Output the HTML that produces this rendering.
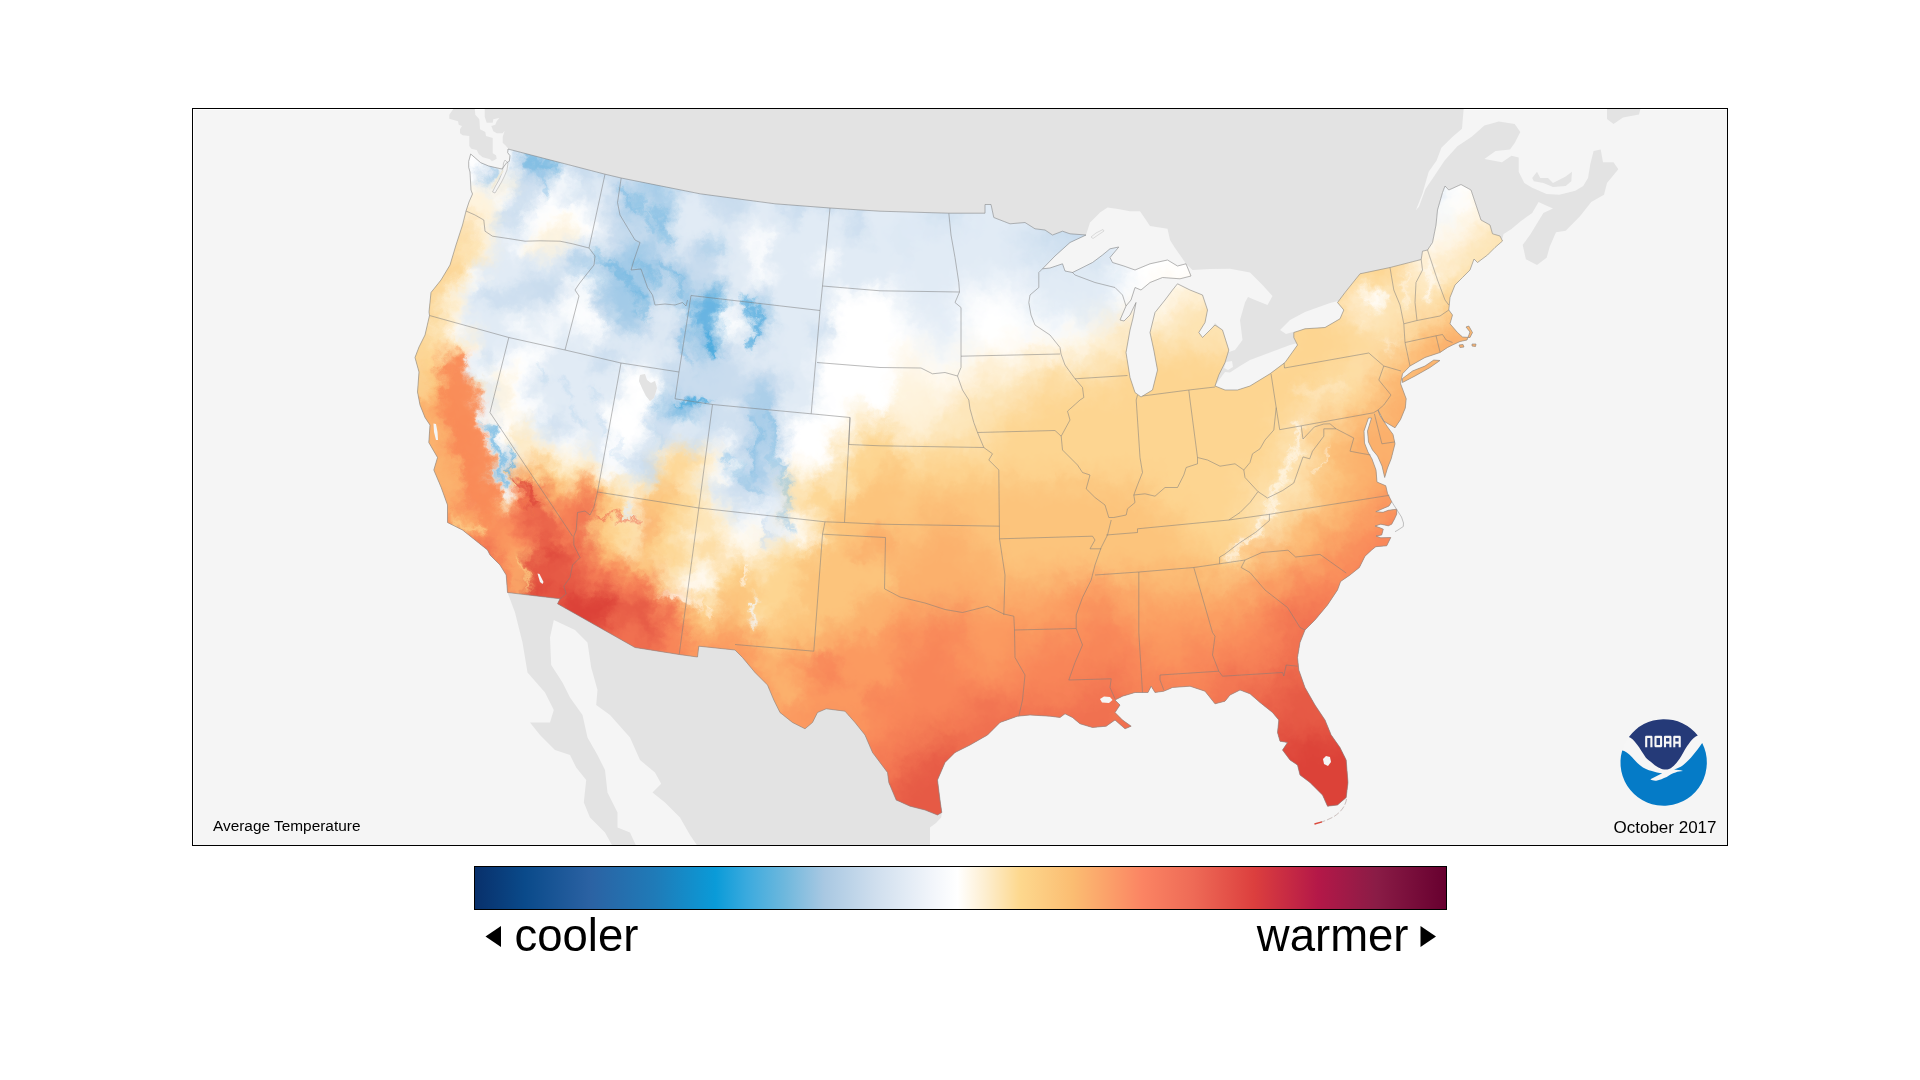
<!DOCTYPE html>
<html><head><meta charset="utf-8"><title>Average Temperature - October 2017</title>
<style>
html,body{margin:0;padding:0;background:#fff;}
body{width:1920px;height:1080px;overflow:hidden;font-family:"Liberation Sans",sans-serif;}
svg{display:block;}
text{font-family:"Liberation Sans",sans-serif;fill:#000;}
</style></head><body>
<svg width="1920" height="1080" viewBox="0 0 1920 1080">
<defs>
<g id="cells"><rect x="416" y="128" width="16.5" height="16.5" fill="#ffffff"/><rect x="432" y="128" width="16.5" height="16.5" fill="#ffffff"/><rect x="448" y="128" width="16.5" height="16.5" fill="#ffffff"/><rect x="464" y="128" width="16.5" height="16.5" fill="#ffffff"/><rect x="480" y="128" width="16.5" height="16.5" fill="#ffffff"/><rect x="496" y="128" width="16.5" height="16.5" fill="#ffffff"/><rect x="512" y="128" width="16.5" height="16.5" fill="#c9dcee"/><rect x="528" y="128" width="16.5" height="16.5" fill="#a3cbe8"/><rect x="544" y="128" width="16.5" height="16.5" fill="#a3cbe8"/><rect x="560" y="128" width="16.5" height="16.5" fill="#e1ebf5"/><rect x="576" y="128" width="16.5" height="16.5" fill="#c9dcee"/><rect x="592" y="128" width="16.5" height="16.5" fill="#c9dcee"/><rect x="608" y="128" width="16.5" height="16.5" fill="#c9dcee"/><rect x="624" y="128" width="16.5" height="16.5" fill="#c9dcee"/><rect x="640" y="128" width="16.5" height="16.5" fill="#a3cbe8"/><rect x="656" y="128" width="16.5" height="16.5" fill="#a3cbe8"/><rect x="672" y="128" width="16.5" height="16.5" fill="#c9dcee"/><rect x="688" y="128" width="16.5" height="16.5" fill="#c9dcee"/><rect x="704" y="128" width="16.5" height="16.5" fill="#c9dcee"/><rect x="1408" y="128" width="16.5" height="16.5" fill="#f9fbfd"/><rect x="1424" y="128" width="16.5" height="16.5" fill="#f9fbfd"/><rect x="1440" y="128" width="16.5" height="16.5" fill="#f9fbfd"/><rect x="1456" y="128" width="16.5" height="16.5" fill="#ffffff"/><rect x="1472" y="128" width="16.5" height="16.5" fill="#ffffff"/><rect x="1488" y="128" width="16.5" height="16.5" fill="#ffffff"/><rect x="416" y="144" width="16.5" height="16.5" fill="#ffffff"/><rect x="432" y="144" width="16.5" height="16.5" fill="#ffffff"/><rect x="448" y="144" width="16.5" height="16.5" fill="#ffffff"/><rect x="464" y="144" width="16.5" height="16.5" fill="#ffffff"/><rect x="480" y="144" width="16.5" height="16.5" fill="#ffffff"/><rect x="496" y="144" width="16.5" height="16.5" fill="#ffffff"/><rect x="512" y="144" width="16.5" height="16.5" fill="#c9dcee"/><rect x="528" y="144" width="16.5" height="16.5" fill="#a3cbe8"/><rect x="544" y="144" width="16.5" height="16.5" fill="#a3cbe8"/><rect x="560" y="144" width="16.5" height="16.5" fill="#e1ebf5"/><rect x="576" y="144" width="16.5" height="16.5" fill="#c9dcee"/><rect x="592" y="144" width="16.5" height="16.5" fill="#c9dcee"/><rect x="608" y="144" width="16.5" height="16.5" fill="#c9dcee"/><rect x="624" y="144" width="16.5" height="16.5" fill="#c9dcee"/><rect x="640" y="144" width="16.5" height="16.5" fill="#a3cbe8"/><rect x="656" y="144" width="16.5" height="16.5" fill="#a3cbe8"/><rect x="672" y="144" width="16.5" height="16.5" fill="#c9dcee"/><rect x="688" y="144" width="16.5" height="16.5" fill="#c9dcee"/><rect x="704" y="144" width="16.5" height="16.5" fill="#c9dcee"/><rect x="720" y="144" width="16.5" height="16.5" fill="#c9dcee"/><rect x="736" y="144" width="16.5" height="16.5" fill="#c9dcee"/><rect x="752" y="144" width="16.5" height="16.5" fill="#e1ebf5"/><rect x="768" y="144" width="16.5" height="16.5" fill="#e1ebf5"/><rect x="784" y="144" width="16.5" height="16.5" fill="#c9dcee"/><rect x="800" y="144" width="16.5" height="16.5" fill="#c9dcee"/><rect x="816" y="144" width="16.5" height="16.5" fill="#c9dcee"/><rect x="832" y="144" width="16.5" height="16.5" fill="#c9dcee"/><rect x="880" y="144" width="16.5" height="16.5" fill="#e1ebf5"/><rect x="896" y="144" width="16.5" height="16.5" fill="#e1ebf5"/><rect x="912" y="144" width="16.5" height="16.5" fill="#dbe7f3"/><rect x="928" y="144" width="16.5" height="16.5" fill="#cfe0f0"/><rect x="944" y="144" width="16.5" height="16.5" fill="#cfe0f0"/><rect x="960" y="144" width="16.5" height="16.5" fill="#dbe7f3"/><rect x="976" y="144" width="16.5" height="16.5" fill="#e1ebf5"/><rect x="992" y="144" width="16.5" height="16.5" fill="#e1ebf5"/><rect x="1008" y="144" width="16.5" height="16.5" fill="#e1ebf5"/><rect x="1024" y="144" width="16.5" height="16.5" fill="#e1ebf5"/><rect x="1392" y="144" width="16.5" height="16.5" fill="#e1ebf5"/><rect x="1408" y="144" width="16.5" height="16.5" fill="#f9fbfd"/><rect x="1424" y="144" width="16.5" height="16.5" fill="#f9fbfd"/><rect x="1440" y="144" width="16.5" height="16.5" fill="#f9fbfd"/><rect x="1456" y="144" width="16.5" height="16.5" fill="#ffffff"/><rect x="1472" y="144" width="16.5" height="16.5" fill="#ffffff"/><rect x="1488" y="144" width="16.5" height="16.5" fill="#ffffff"/><rect x="1504" y="144" width="16.5" height="16.5" fill="#ffffff"/><rect x="416" y="160" width="16.5" height="16.5" fill="#ffffff"/><rect x="432" y="160" width="16.5" height="16.5" fill="#ffffff"/><rect x="448" y="160" width="16.5" height="16.5" fill="#ffffff"/><rect x="464" y="160" width="16.5" height="16.5" fill="#ffffff"/><rect x="480" y="160" width="16.5" height="16.5" fill="#c9dcee"/><rect x="496" y="160" width="16.5" height="16.5" fill="#ffffff"/><rect x="512" y="160" width="16.5" height="16.5" fill="#c9dcee"/><rect x="528" y="160" width="16.5" height="16.5" fill="#a3cbe8"/><rect x="544" y="160" width="16.5" height="16.5" fill="#a3cbe8"/><rect x="560" y="160" width="16.5" height="16.5" fill="#e1ebf5"/><rect x="576" y="160" width="16.5" height="16.5" fill="#c9dcee"/><rect x="592" y="160" width="16.5" height="16.5" fill="#c9dcee"/><rect x="608" y="160" width="16.5" height="16.5" fill="#c9dcee"/><rect x="624" y="160" width="16.5" height="16.5" fill="#c9dcee"/><rect x="640" y="160" width="16.5" height="16.5" fill="#a3cbe8"/><rect x="656" y="160" width="16.5" height="16.5" fill="#a3cbe8"/><rect x="672" y="160" width="16.5" height="16.5" fill="#c9dcee"/><rect x="688" y="160" width="16.5" height="16.5" fill="#c9dcee"/><rect x="704" y="160" width="16.5" height="16.5" fill="#c9dcee"/><rect x="720" y="160" width="16.5" height="16.5" fill="#c9dcee"/><rect x="736" y="160" width="16.5" height="16.5" fill="#c9dcee"/><rect x="752" y="160" width="16.5" height="16.5" fill="#e1ebf5"/><rect x="768" y="160" width="16.5" height="16.5" fill="#e1ebf5"/><rect x="784" y="160" width="16.5" height="16.5" fill="#c9dcee"/><rect x="800" y="160" width="16.5" height="16.5" fill="#c9dcee"/><rect x="816" y="160" width="16.5" height="16.5" fill="#c9dcee"/><rect x="832" y="160" width="16.5" height="16.5" fill="#c9dcee"/><rect x="848" y="160" width="16.5" height="16.5" fill="#c9dcee"/><rect x="864" y="160" width="16.5" height="16.5" fill="#e1ebf5"/><rect x="880" y="160" width="16.5" height="16.5" fill="#e1ebf5"/><rect x="896" y="160" width="16.5" height="16.5" fill="#e1ebf5"/><rect x="912" y="160" width="16.5" height="16.5" fill="#dbe7f3"/><rect x="928" y="160" width="16.5" height="16.5" fill="#cfe0f0"/><rect x="944" y="160" width="16.5" height="16.5" fill="#cfe0f0"/><rect x="960" y="160" width="16.5" height="16.5" fill="#dbe7f3"/><rect x="976" y="160" width="16.5" height="16.5" fill="#e1ebf5"/><rect x="992" y="160" width="16.5" height="16.5" fill="#e1ebf5"/><rect x="1008" y="160" width="16.5" height="16.5" fill="#e1ebf5"/><rect x="1024" y="160" width="16.5" height="16.5" fill="#e1ebf5"/><rect x="1040" y="160" width="16.5" height="16.5" fill="#e1ebf5"/><rect x="1376" y="160" width="16.5" height="16.5" fill="#e1ebf5"/><rect x="1392" y="160" width="16.5" height="16.5" fill="#e1ebf5"/><rect x="1408" y="160" width="16.5" height="16.5" fill="#e1ebf5"/><rect x="1424" y="160" width="16.5" height="16.5" fill="#f9fbfd"/><rect x="1440" y="160" width="16.5" height="16.5" fill="#f9fbfd"/><rect x="1456" y="160" width="16.5" height="16.5" fill="#ffffff"/><rect x="1472" y="160" width="16.5" height="16.5" fill="#ffffff"/><rect x="1488" y="160" width="16.5" height="16.5" fill="#ffffff"/><rect x="1504" y="160" width="16.5" height="16.5" fill="#fef5e3"/><rect x="1520" y="160" width="16.5" height="16.5" fill="#fef5e3"/><rect x="416" y="176" width="16.5" height="16.5" fill="#ffffff"/><rect x="432" y="176" width="16.5" height="16.5" fill="#ffffff"/><rect x="448" y="176" width="16.5" height="16.5" fill="#ffffff"/><rect x="464" y="176" width="16.5" height="16.5" fill="#ffffff"/><rect x="480" y="176" width="16.5" height="16.5" fill="#e1ebf5"/><rect x="496" y="176" width="16.5" height="16.5" fill="#fef3dd"/><rect x="512" y="176" width="16.5" height="16.5" fill="#c9dcee"/><rect x="528" y="176" width="16.5" height="16.5" fill="#c9dcee"/><rect x="544" y="176" width="16.5" height="16.5" fill="#e1ebf5"/><rect x="560" y="176" width="16.5" height="16.5" fill="#ffffff"/><rect x="576" y="176" width="16.5" height="16.5" fill="#c9dcee"/><rect x="592" y="176" width="16.5" height="16.5" fill="#e1ebf5"/><rect x="608" y="176" width="16.5" height="16.5" fill="#c9dcee"/><rect x="624" y="176" width="16.5" height="16.5" fill="#c9dcee"/><rect x="640" y="176" width="16.5" height="16.5" fill="#a3cbe8"/><rect x="656" y="176" width="16.5" height="16.5" fill="#a3cbe8"/><rect x="672" y="176" width="16.5" height="16.5" fill="#c9dcee"/><rect x="688" y="176" width="16.5" height="16.5" fill="#c9dcee"/><rect x="704" y="176" width="16.5" height="16.5" fill="#c9dcee"/><rect x="720" y="176" width="16.5" height="16.5" fill="#c9dcee"/><rect x="736" y="176" width="16.5" height="16.5" fill="#c9dcee"/><rect x="752" y="176" width="16.5" height="16.5" fill="#e1ebf5"/><rect x="768" y="176" width="16.5" height="16.5" fill="#e1ebf5"/><rect x="784" y="176" width="16.5" height="16.5" fill="#c9dcee"/><rect x="800" y="176" width="16.5" height="16.5" fill="#c9dcee"/><rect x="816" y="176" width="16.5" height="16.5" fill="#c9dcee"/><rect x="832" y="176" width="16.5" height="16.5" fill="#c9dcee"/><rect x="848" y="176" width="16.5" height="16.5" fill="#c9dcee"/><rect x="864" y="176" width="16.5" height="16.5" fill="#e1ebf5"/><rect x="880" y="176" width="16.5" height="16.5" fill="#e1ebf5"/><rect x="896" y="176" width="16.5" height="16.5" fill="#e1ebf5"/><rect x="912" y="176" width="16.5" height="16.5" fill="#dbe7f3"/><rect x="928" y="176" width="16.5" height="16.5" fill="#cfe0f0"/><rect x="944" y="176" width="16.5" height="16.5" fill="#cfe0f0"/><rect x="960" y="176" width="16.5" height="16.5" fill="#dbe7f3"/><rect x="976" y="176" width="16.5" height="16.5" fill="#e1ebf5"/><rect x="992" y="176" width="16.5" height="16.5" fill="#e1ebf5"/><rect x="1008" y="176" width="16.5" height="16.5" fill="#e1ebf5"/><rect x="1024" y="176" width="16.5" height="16.5" fill="#e1ebf5"/><rect x="1040" y="176" width="16.5" height="16.5" fill="#e1ebf5"/><rect x="1056" y="176" width="16.5" height="16.5" fill="#caddee"/><rect x="1072" y="176" width="16.5" height="16.5" fill="#c9dcee"/><rect x="1088" y="176" width="16.5" height="16.5" fill="#c9dcee"/><rect x="1360" y="176" width="16.5" height="16.5" fill="#e1ebf5"/><rect x="1376" y="176" width="16.5" height="16.5" fill="#e1ebf5"/><rect x="1392" y="176" width="16.5" height="16.5" fill="#e1ebf5"/><rect x="1408" y="176" width="16.5" height="16.5" fill="#e1ebf5"/><rect x="1424" y="176" width="16.5" height="16.5" fill="#e8f0f8"/><rect x="1440" y="176" width="16.5" height="16.5" fill="#f8fafc"/><rect x="1456" y="176" width="16.5" height="16.5" fill="#fffefd"/><rect x="1472" y="176" width="16.5" height="16.5" fill="#fffefd"/><rect x="1488" y="176" width="16.5" height="16.5" fill="#fef5e3"/><rect x="1504" y="176" width="16.5" height="16.5" fill="#fef5e3"/><rect x="1520" y="176" width="16.5" height="16.5" fill="#fef5e3"/><rect x="1536" y="176" width="16.5" height="16.5" fill="#fef5e3"/><rect x="416" y="192" width="16.5" height="16.5" fill="#fef3dd"/><rect x="432" y="192" width="16.5" height="16.5" fill="#fef3dd"/><rect x="448" y="192" width="16.5" height="16.5" fill="#fef3dd"/><rect x="464" y="192" width="16.5" height="16.5" fill="#fef3dd"/><rect x="480" y="192" width="16.5" height="16.5" fill="#fef3dd"/><rect x="496" y="192" width="16.5" height="16.5" fill="#ffffff"/><rect x="512" y="192" width="16.5" height="16.5" fill="#c9dcee"/><rect x="528" y="192" width="16.5" height="16.5" fill="#e1ebf5"/><rect x="544" y="192" width="16.5" height="16.5" fill="#ffffff"/><rect x="560" y="192" width="16.5" height="16.5" fill="#e1ebf5"/><rect x="576" y="192" width="16.5" height="16.5" fill="#e1ebf5"/><rect x="592" y="192" width="16.5" height="16.5" fill="#e1ebf5"/><rect x="608" y="192" width="16.5" height="16.5" fill="#c9dcee"/><rect x="624" y="192" width="16.5" height="16.5" fill="#a3cbe8"/><rect x="640" y="192" width="16.5" height="16.5" fill="#c9dcee"/><rect x="656" y="192" width="16.5" height="16.5" fill="#a3cbe8"/><rect x="672" y="192" width="16.5" height="16.5" fill="#e1ebf5"/><rect x="688" y="192" width="16.5" height="16.5" fill="#e1ebf5"/><rect x="704" y="192" width="16.5" height="16.5" fill="#c9dcee"/><rect x="720" y="192" width="16.5" height="16.5" fill="#c9dcee"/><rect x="736" y="192" width="16.5" height="16.5" fill="#c9dcee"/><rect x="752" y="192" width="16.5" height="16.5" fill="#e1ebf5"/><rect x="768" y="192" width="16.5" height="16.5" fill="#e1ebf5"/><rect x="784" y="192" width="16.5" height="16.5" fill="#c9dcee"/><rect x="800" y="192" width="16.5" height="16.5" fill="#c9dcee"/><rect x="816" y="192" width="16.5" height="16.5" fill="#c9dcee"/><rect x="832" y="192" width="16.5" height="16.5" fill="#c9dcee"/><rect x="848" y="192" width="16.5" height="16.5" fill="#c9dcee"/><rect x="864" y="192" width="16.5" height="16.5" fill="#e1ebf5"/><rect x="880" y="192" width="16.5" height="16.5" fill="#e1ebf5"/><rect x="896" y="192" width="16.5" height="16.5" fill="#e1ebf5"/><rect x="912" y="192" width="16.5" height="16.5" fill="#dbe7f3"/><rect x="928" y="192" width="16.5" height="16.5" fill="#cfe0f0"/><rect x="944" y="192" width="16.5" height="16.5" fill="#cfe0f0"/><rect x="960" y="192" width="16.5" height="16.5" fill="#dbe7f3"/><rect x="976" y="192" width="16.5" height="16.5" fill="#e1ebf5"/><rect x="992" y="192" width="16.5" height="16.5" fill="#e1ebf5"/><rect x="1008" y="192" width="16.5" height="16.5" fill="#e1ebf5"/><rect x="1024" y="192" width="16.5" height="16.5" fill="#e1ebf5"/><rect x="1040" y="192" width="16.5" height="16.5" fill="#e1ebf5"/><rect x="1056" y="192" width="16.5" height="16.5" fill="#caddee"/><rect x="1072" y="192" width="16.5" height="16.5" fill="#c9dcee"/><rect x="1088" y="192" width="16.5" height="16.5" fill="#c9dcee"/><rect x="1104" y="192" width="16.5" height="16.5" fill="#c9dcee"/><rect x="1360" y="192" width="16.5" height="16.5" fill="#e1ebf5"/><rect x="1376" y="192" width="16.5" height="16.5" fill="#e1ebf5"/><rect x="1392" y="192" width="16.5" height="16.5" fill="#e1ebf5"/><rect x="1408" y="192" width="16.5" height="16.5" fill="#e1ebf5"/><rect x="1424" y="192" width="16.5" height="16.5" fill="#e8f0f8"/><rect x="1440" y="192" width="16.5" height="16.5" fill="#f8fafc"/><rect x="1456" y="192" width="16.5" height="16.5" fill="#fffdf9"/><rect x="1472" y="192" width="16.5" height="16.5" fill="#fef8ec"/><rect x="1488" y="192" width="16.5" height="16.5" fill="#fef5e3"/><rect x="1504" y="192" width="16.5" height="16.5" fill="#fef5e3"/><rect x="1520" y="192" width="16.5" height="16.5" fill="#fef5e3"/><rect x="1536" y="192" width="16.5" height="16.5" fill="#fef5e3"/><rect x="416" y="208" width="16.5" height="16.5" fill="#fde4b4"/><rect x="432" y="208" width="16.5" height="16.5" fill="#fef3dd"/><rect x="448" y="208" width="16.5" height="16.5" fill="#fef3dd"/><rect x="464" y="208" width="16.5" height="16.5" fill="#fef3dd"/><rect x="480" y="208" width="16.5" height="16.5" fill="#fef3dd"/><rect x="496" y="208" width="16.5" height="16.5" fill="#c9dcee"/><rect x="512" y="208" width="16.5" height="16.5" fill="#c9dcee"/><rect x="528" y="208" width="16.5" height="16.5" fill="#ffffff"/><rect x="544" y="208" width="16.5" height="16.5" fill="#ffffff"/><rect x="560" y="208" width="16.5" height="16.5" fill="#ffffff"/><rect x="576" y="208" width="16.5" height="16.5" fill="#ffffff"/><rect x="592" y="208" width="16.5" height="16.5" fill="#e1ebf5"/><rect x="608" y="208" width="16.5" height="16.5" fill="#c9dcee"/><rect x="624" y="208" width="16.5" height="16.5" fill="#a3cbe8"/><rect x="640" y="208" width="16.5" height="16.5" fill="#c9dcee"/><rect x="656" y="208" width="16.5" height="16.5" fill="#a3cbe8"/><rect x="672" y="208" width="16.5" height="16.5" fill="#e1ebf5"/><rect x="688" y="208" width="16.5" height="16.5" fill="#e1ebf5"/><rect x="704" y="208" width="16.5" height="16.5" fill="#e1ebf5"/><rect x="720" y="208" width="16.5" height="16.5" fill="#c9dcee"/><rect x="736" y="208" width="16.5" height="16.5" fill="#e1ebf5"/><rect x="752" y="208" width="16.5" height="16.5" fill="#e1ebf5"/><rect x="768" y="208" width="16.5" height="16.5" fill="#e1ebf5"/><rect x="784" y="208" width="16.5" height="16.5" fill="#c9dcee"/><rect x="800" y="208" width="16.5" height="16.5" fill="#e1ebf5"/><rect x="816" y="208" width="16.5" height="16.5" fill="#e1ebf5"/><rect x="832" y="208" width="16.5" height="16.5" fill="#e1ebf5"/><rect x="848" y="208" width="16.5" height="16.5" fill="#c9dcee"/><rect x="864" y="208" width="16.5" height="16.5" fill="#e1ebf5"/><rect x="880" y="208" width="16.5" height="16.5" fill="#e1ebf5"/><rect x="896" y="208" width="16.5" height="16.5" fill="#e0eaf5"/><rect x="912" y="208" width="16.5" height="16.5" fill="#dce8f4"/><rect x="928" y="208" width="16.5" height="16.5" fill="#d4e3f1"/><rect x="944" y="208" width="16.5" height="16.5" fill="#d4e3f1"/><rect x="960" y="208" width="16.5" height="16.5" fill="#dce8f4"/><rect x="976" y="208" width="16.5" height="16.5" fill="#e1ebf5"/><rect x="992" y="208" width="16.5" height="16.5" fill="#e1ebf5"/><rect x="1008" y="208" width="16.5" height="16.5" fill="#e0eaf5"/><rect x="1024" y="208" width="16.5" height="16.5" fill="#e0eaf5"/><rect x="1040" y="208" width="16.5" height="16.5" fill="#cedfef"/><rect x="1056" y="208" width="16.5" height="16.5" fill="#caddee"/><rect x="1072" y="208" width="16.5" height="16.5" fill="#c9dcee"/><rect x="1088" y="208" width="16.5" height="16.5" fill="#c9dcee"/><rect x="1104" y="208" width="16.5" height="16.5" fill="#c9dcee"/><rect x="1120" y="208" width="16.5" height="16.5" fill="#f6f9fc"/><rect x="1136" y="208" width="16.5" height="16.5" fill="#ffffff"/><rect x="1152" y="208" width="16.5" height="16.5" fill="#ffffff"/><rect x="1168" y="208" width="16.5" height="16.5" fill="#ffffff"/><rect x="1184" y="208" width="16.5" height="16.5" fill="#ffffff"/><rect x="1200" y="208" width="16.5" height="16.5" fill="#ffffff"/><rect x="1216" y="208" width="16.5" height="16.5" fill="#ffffff"/><rect x="1328" y="208" width="16.5" height="16.5" fill="#fdd591"/><rect x="1344" y="208" width="16.5" height="16.5" fill="#fdd591"/><rect x="1360" y="208" width="16.5" height="16.5" fill="#fdd591"/><rect x="1376" y="208" width="16.5" height="16.5" fill="#e8edf1"/><rect x="1392" y="208" width="16.5" height="16.5" fill="#e8edf1"/><rect x="1408" y="208" width="16.5" height="16.5" fill="#e8edf1"/><rect x="1424" y="208" width="16.5" height="16.5" fill="#eef3f7"/><rect x="1440" y="208" width="16.5" height="16.5" fill="#f9f9f7"/><rect x="1456" y="208" width="16.5" height="16.5" fill="#fef9ee"/><rect x="1472" y="208" width="16.5" height="16.5" fill="#fef2dc"/><rect x="1488" y="208" width="16.5" height="16.5" fill="#feefd3"/><rect x="1504" y="208" width="16.5" height="16.5" fill="#feefd3"/><rect x="1520" y="208" width="16.5" height="16.5" fill="#feefd3"/><rect x="1536" y="208" width="16.5" height="16.5" fill="#feefd3"/><rect x="400" y="224" width="16.5" height="16.5" fill="#fde4b4"/><rect x="416" y="224" width="16.5" height="16.5" fill="#fde4b4"/><rect x="432" y="224" width="16.5" height="16.5" fill="#fde4b4"/><rect x="448" y="224" width="16.5" height="16.5" fill="#fde4b4"/><rect x="464" y="224" width="16.5" height="16.5" fill="#fde4b4"/><rect x="480" y="224" width="16.5" height="16.5" fill="#fef3dd"/><rect x="496" y="224" width="16.5" height="16.5" fill="#e1ebf5"/><rect x="512" y="224" width="16.5" height="16.5" fill="#e1ebf5"/><rect x="528" y="224" width="16.5" height="16.5" fill="#ffffff"/><rect x="544" y="224" width="16.5" height="16.5" fill="#fef3dd"/><rect x="560" y="224" width="16.5" height="16.5" fill="#fef3dd"/><rect x="576" y="224" width="16.5" height="16.5" fill="#ffffff"/><rect x="592" y="224" width="16.5" height="16.5" fill="#e1ebf5"/><rect x="608" y="224" width="16.5" height="16.5" fill="#c9dcee"/><rect x="624" y="224" width="16.5" height="16.5" fill="#c9dcee"/><rect x="640" y="224" width="16.5" height="16.5" fill="#c9dcee"/><rect x="656" y="224" width="16.5" height="16.5" fill="#a3cbe8"/><rect x="672" y="224" width="16.5" height="16.5" fill="#e1ebf5"/><rect x="688" y="224" width="16.5" height="16.5" fill="#e1ebf5"/><rect x="704" y="224" width="16.5" height="16.5" fill="#e1ebf5"/><rect x="720" y="224" width="16.5" height="16.5" fill="#e1ebf5"/><rect x="736" y="224" width="16.5" height="16.5" fill="#e1ebf5"/><rect x="752" y="224" width="16.5" height="16.5" fill="#ffffff"/><rect x="768" y="224" width="16.5" height="16.5" fill="#e1ebf5"/><rect x="784" y="224" width="16.5" height="16.5" fill="#e1ebf5"/><rect x="800" y="224" width="16.5" height="16.5" fill="#e1ebf5"/><rect x="816" y="224" width="16.5" height="16.5" fill="#e1ebf5"/><rect x="832" y="224" width="16.5" height="16.5" fill="#e1ebf5"/><rect x="848" y="224" width="16.5" height="16.5" fill="#c9dcee"/><rect x="864" y="224" width="16.5" height="16.5" fill="#e1ebf5"/><rect x="880" y="224" width="16.5" height="16.5" fill="#e1ebf5"/><rect x="896" y="224" width="16.5" height="16.5" fill="#dce8f4"/><rect x="912" y="224" width="16.5" height="16.5" fill="#e0eaf5"/><rect x="928" y="224" width="16.5" height="16.5" fill="#dce8f4"/><rect x="944" y="224" width="16.5" height="16.5" fill="#dce8f4"/><rect x="960" y="224" width="16.5" height="16.5" fill="#e0eaf5"/><rect x="976" y="224" width="16.5" height="16.5" fill="#e1ebf5"/><rect x="992" y="224" width="16.5" height="16.5" fill="#e1ebf5"/><rect x="1008" y="224" width="16.5" height="16.5" fill="#dce8f4"/><rect x="1024" y="224" width="16.5" height="16.5" fill="#d4e3f1"/><rect x="1040" y="224" width="16.5" height="16.5" fill="#cedfef"/><rect x="1056" y="224" width="16.5" height="16.5" fill="#caddee"/><rect x="1072" y="224" width="16.5" height="16.5" fill="#c9dcee"/><rect x="1088" y="224" width="16.5" height="16.5" fill="#c9dcee"/><rect x="1104" y="224" width="16.5" height="16.5" fill="#c9dcee"/><rect x="1120" y="224" width="16.5" height="16.5" fill="#f6f9fc"/><rect x="1136" y="224" width="16.5" height="16.5" fill="#ffffff"/><rect x="1152" y="224" width="16.5" height="16.5" fill="#ffffff"/><rect x="1168" y="224" width="16.5" height="16.5" fill="#ffffff"/><rect x="1184" y="224" width="16.5" height="16.5" fill="#ffffff"/><rect x="1200" y="224" width="16.5" height="16.5" fill="#ffffff"/><rect x="1216" y="224" width="16.5" height="16.5" fill="#ffffff"/><rect x="1232" y="224" width="16.5" height="16.5" fill="#ffffff"/><rect x="1312" y="224" width="16.5" height="16.5" fill="#fdd591"/><rect x="1328" y="224" width="16.5" height="16.5" fill="#fdd591"/><rect x="1344" y="224" width="16.5" height="16.5" fill="#fdd591"/><rect x="1360" y="224" width="16.5" height="16.5" fill="#fdd591"/><rect x="1376" y="224" width="16.5" height="16.5" fill="#fdd591"/><rect x="1392" y="224" width="16.5" height="16.5" fill="#f7f2e8"/><rect x="1408" y="224" width="16.5" height="16.5" fill="#f7f2e8"/><rect x="1424" y="224" width="16.5" height="16.5" fill="#f9f9f7"/><rect x="1440" y="224" width="16.5" height="16.5" fill="#fdf7eb"/><rect x="1456" y="224" width="16.5" height="16.5" fill="#fef2dc"/><rect x="1472" y="224" width="16.5" height="16.5" fill="#feebc8"/><rect x="1488" y="224" width="16.5" height="16.5" fill="#fde8be"/><rect x="1504" y="224" width="16.5" height="16.5" fill="#fde8be"/><rect x="1520" y="224" width="16.5" height="16.5" fill="#fde8be"/><rect x="1536" y="224" width="16.5" height="16.5" fill="#fde8be"/><rect x="400" y="240" width="16.5" height="16.5" fill="#fdd591"/><rect x="416" y="240" width="16.5" height="16.5" fill="#fde4b4"/><rect x="432" y="240" width="16.5" height="16.5" fill="#fde4b4"/><rect x="448" y="240" width="16.5" height="16.5" fill="#fde4b4"/><rect x="464" y="240" width="16.5" height="16.5" fill="#fde4b4"/><rect x="480" y="240" width="16.5" height="16.5" fill="#fef3dd"/><rect x="496" y="240" width="16.5" height="16.5" fill="#e1ebf5"/><rect x="512" y="240" width="16.5" height="16.5" fill="#ffffff"/><rect x="528" y="240" width="16.5" height="16.5" fill="#fef3dd"/><rect x="544" y="240" width="16.5" height="16.5" fill="#fef3dd"/><rect x="560" y="240" width="16.5" height="16.5" fill="#e1ebf5"/><rect x="576" y="240" width="16.5" height="16.5" fill="#c9dcee"/><rect x="592" y="240" width="16.5" height="16.5" fill="#e1ebf5"/><rect x="608" y="240" width="16.5" height="16.5" fill="#c9dcee"/><rect x="624" y="240" width="16.5" height="16.5" fill="#a3cbe8"/><rect x="640" y="240" width="16.5" height="16.5" fill="#a3cbe8"/><rect x="656" y="240" width="16.5" height="16.5" fill="#c9dcee"/><rect x="672" y="240" width="16.5" height="16.5" fill="#e1ebf5"/><rect x="688" y="240" width="16.5" height="16.5" fill="#c9dcee"/><rect x="704" y="240" width="16.5" height="16.5" fill="#a3cbe8"/><rect x="720" y="240" width="16.5" height="16.5" fill="#e1ebf5"/><rect x="736" y="240" width="16.5" height="16.5" fill="#e1ebf5"/><rect x="752" y="240" width="16.5" height="16.5" fill="#ffffff"/><rect x="768" y="240" width="16.5" height="16.5" fill="#e1ebf5"/><rect x="784" y="240" width="16.5" height="16.5" fill="#e1ebf5"/><rect x="800" y="240" width="16.5" height="16.5" fill="#e1ebf5"/><rect x="816" y="240" width="16.5" height="16.5" fill="#e1ebf5"/><rect x="832" y="240" width="16.5" height="16.5" fill="#e1ebf5"/><rect x="848" y="240" width="16.5" height="16.5" fill="#e1ebf5"/><rect x="864" y="240" width="16.5" height="16.5" fill="#e1ebf5"/><rect x="880" y="240" width="16.5" height="16.5" fill="#e1ebf5"/><rect x="896" y="240" width="16.5" height="16.5" fill="#dce8f4"/><rect x="912" y="240" width="16.5" height="16.5" fill="#e1ebf5"/><rect x="928" y="240" width="16.5" height="16.5" fill="#e1ebf5"/><rect x="944" y="240" width="16.5" height="16.5" fill="#e1ebf5"/><rect x="960" y="240" width="16.5" height="16.5" fill="#e1ebf5"/><rect x="976" y="240" width="16.5" height="16.5" fill="#e1ebf5"/><rect x="992" y="240" width="16.5" height="16.5" fill="#e1ebf5"/><rect x="1008" y="240" width="16.5" height="16.5" fill="#dce8f4"/><rect x="1024" y="240" width="16.5" height="16.5" fill="#d4e3f1"/><rect x="1040" y="240" width="16.5" height="16.5" fill="#cfe0f0"/><rect x="1056" y="240" width="16.5" height="16.5" fill="#cfe0f0"/><rect x="1072" y="240" width="16.5" height="16.5" fill="#cfe0f0"/><rect x="1088" y="240" width="16.5" height="16.5" fill="#cfe0f0"/><rect x="1104" y="240" width="16.5" height="16.5" fill="#e4edf6"/><rect x="1120" y="240" width="16.5" height="16.5" fill="#f6f9fc"/><rect x="1136" y="240" width="16.5" height="16.5" fill="#ffffff"/><rect x="1152" y="240" width="16.5" height="16.5" fill="#ffffff"/><rect x="1168" y="240" width="16.5" height="16.5" fill="#ffffff"/><rect x="1184" y="240" width="16.5" height="16.5" fill="#ffffff"/><rect x="1200" y="240" width="16.5" height="16.5" fill="#ffffff"/><rect x="1216" y="240" width="16.5" height="16.5" fill="#ffffff"/><rect x="1232" y="240" width="16.5" height="16.5" fill="#ffffff"/><rect x="1248" y="240" width="16.5" height="16.5" fill="#ffffff"/><rect x="1296" y="240" width="16.5" height="16.5" fill="#fdd591"/><rect x="1312" y="240" width="16.5" height="16.5" fill="#fdd591"/><rect x="1328" y="240" width="16.5" height="16.5" fill="#fdd591"/><rect x="1344" y="240" width="16.5" height="16.5" fill="#fdd591"/><rect x="1360" y="240" width="16.5" height="16.5" fill="#fdd591"/><rect x="1376" y="240" width="16.5" height="16.5" fill="#fdd591"/><rect x="1392" y="240" width="16.5" height="16.5" fill="#fddda6"/><rect x="1408" y="240" width="16.5" height="16.5" fill="#fef2dd"/><rect x="1424" y="240" width="16.5" height="16.5" fill="#fef9ee"/><rect x="1440" y="240" width="16.5" height="16.5" fill="#fef2dc"/><rect x="1456" y="240" width="16.5" height="16.5" fill="#feeccb"/><rect x="1472" y="240" width="16.5" height="16.5" fill="#fde7bc"/><rect x="1488" y="240" width="16.5" height="16.5" fill="#fde4b4"/><rect x="1504" y="240" width="16.5" height="16.5" fill="#fde4b4"/><rect x="1520" y="240" width="16.5" height="16.5" fill="#fde4b4"/><rect x="1536" y="240" width="16.5" height="16.5" fill="#fde4b4"/><rect x="384" y="256" width="16.5" height="16.5" fill="#fdd591"/><rect x="400" y="256" width="16.5" height="16.5" fill="#fdd591"/><rect x="416" y="256" width="16.5" height="16.5" fill="#fdd591"/><rect x="432" y="256" width="16.5" height="16.5" fill="#fdd591"/><rect x="448" y="256" width="16.5" height="16.5" fill="#fdd591"/><rect x="464" y="256" width="16.5" height="16.5" fill="#fde4b4"/><rect x="480" y="256" width="16.5" height="16.5" fill="#e1ebf5"/><rect x="496" y="256" width="16.5" height="16.5" fill="#e1ebf5"/><rect x="512" y="256" width="16.5" height="16.5" fill="#e1ebf5"/><rect x="528" y="256" width="16.5" height="16.5" fill="#e1ebf5"/><rect x="544" y="256" width="16.5" height="16.5" fill="#e1ebf5"/><rect x="560" y="256" width="16.5" height="16.5" fill="#c9dcee"/><rect x="576" y="256" width="16.5" height="16.5" fill="#a3cbe8"/><rect x="592" y="256" width="16.5" height="16.5" fill="#c9dcee"/><rect x="608" y="256" width="16.5" height="16.5" fill="#a3cbe8"/><rect x="624" y="256" width="16.5" height="16.5" fill="#a3cbe8"/><rect x="640" y="256" width="16.5" height="16.5" fill="#a3cbe8"/><rect x="656" y="256" width="16.5" height="16.5" fill="#a3cbe8"/><rect x="672" y="256" width="16.5" height="16.5" fill="#c9dcee"/><rect x="688" y="256" width="16.5" height="16.5" fill="#c9dcee"/><rect x="704" y="256" width="16.5" height="16.5" fill="#c9dcee"/><rect x="720" y="256" width="16.5" height="16.5" fill="#e1ebf5"/><rect x="736" y="256" width="16.5" height="16.5" fill="#e1ebf5"/><rect x="752" y="256" width="16.5" height="16.5" fill="#ffffff"/><rect x="768" y="256" width="16.5" height="16.5" fill="#e1ebf5"/><rect x="784" y="256" width="16.5" height="16.5" fill="#e1ebf5"/><rect x="800" y="256" width="16.5" height="16.5" fill="#e1ebf5"/><rect x="816" y="256" width="16.5" height="16.5" fill="#ffffff"/><rect x="832" y="256" width="16.5" height="16.5" fill="#e1ebf5"/><rect x="848" y="256" width="16.5" height="16.5" fill="#e1ebf5"/><rect x="864" y="256" width="16.5" height="16.5" fill="#e1ebf5"/><rect x="880" y="256" width="16.5" height="16.5" fill="#e1ebf5"/><rect x="896" y="256" width="16.5" height="16.5" fill="#e0eaf5"/><rect x="912" y="256" width="16.5" height="16.5" fill="#e1ebf5"/><rect x="928" y="256" width="16.5" height="16.5" fill="#e1ebf5"/><rect x="944" y="256" width="16.5" height="16.5" fill="#e1ebf5"/><rect x="960" y="256" width="16.5" height="16.5" fill="#e1ebf5"/><rect x="976" y="256" width="16.5" height="16.5" fill="#e1ebf5"/><rect x="992" y="256" width="16.5" height="16.5" fill="#e1ebf5"/><rect x="1008" y="256" width="16.5" height="16.5" fill="#e0eaf5"/><rect x="1024" y="256" width="16.5" height="16.5" fill="#dce8f4"/><rect x="1040" y="256" width="16.5" height="16.5" fill="#dbe7f3"/><rect x="1056" y="256" width="16.5" height="16.5" fill="#dbe7f3"/><rect x="1072" y="256" width="16.5" height="16.5" fill="#dbe7f3"/><rect x="1088" y="256" width="16.5" height="16.5" fill="#dbe7f3"/><rect x="1104" y="256" width="16.5" height="16.5" fill="#e4edf6"/><rect x="1120" y="256" width="16.5" height="16.5" fill="#f6f9fc"/><rect x="1136" y="256" width="16.5" height="16.5" fill="#ffffff"/><rect x="1152" y="256" width="16.5" height="16.5" fill="#ffffff"/><rect x="1168" y="256" width="16.5" height="16.5" fill="#ffffff"/><rect x="1184" y="256" width="16.5" height="16.5" fill="#ffffff"/><rect x="1200" y="256" width="16.5" height="16.5" fill="#ffffff"/><rect x="1216" y="256" width="16.5" height="16.5" fill="#ffffff"/><rect x="1232" y="256" width="16.5" height="16.5" fill="#ffffff"/><rect x="1248" y="256" width="16.5" height="16.5" fill="#ffffff"/><rect x="1280" y="256" width="16.5" height="16.5" fill="#fdd591"/><rect x="1296" y="256" width="16.5" height="16.5" fill="#fdd591"/><rect x="1312" y="256" width="16.5" height="16.5" fill="#fdd591"/><rect x="1328" y="256" width="16.5" height="16.5" fill="#fdd591"/><rect x="1344" y="256" width="16.5" height="16.5" fill="#fdd591"/><rect x="1360" y="256" width="16.5" height="16.5" fill="#fdd591"/><rect x="1376" y="256" width="16.5" height="16.5" fill="#fdd591"/><rect x="1392" y="256" width="16.5" height="16.5" fill="#fddda6"/><rect x="1408" y="256" width="16.5" height="16.5" fill="#feeed0"/><rect x="1424" y="256" width="16.5" height="16.5" fill="#fef2dc"/><rect x="1440" y="256" width="16.5" height="16.5" fill="#feebc8"/><rect x="1456" y="256" width="16.5" height="16.5" fill="#fde7bc"/><rect x="1472" y="256" width="16.5" height="16.5" fill="#fde5b7"/><rect x="1488" y="256" width="16.5" height="16.5" fill="#fde4b4"/><rect x="1504" y="256" width="16.5" height="16.5" fill="#fde4b4"/><rect x="1520" y="256" width="16.5" height="16.5" fill="#fde4b4"/><rect x="1536" y="256" width="16.5" height="16.5" fill="#fde4b4"/><rect x="384" y="272" width="16.5" height="16.5" fill="#fdd591"/><rect x="400" y="272" width="16.5" height="16.5" fill="#fdd591"/><rect x="416" y="272" width="16.5" height="16.5" fill="#fdd591"/><rect x="432" y="272" width="16.5" height="16.5" fill="#fdd591"/><rect x="448" y="272" width="16.5" height="16.5" fill="#fde4b4"/><rect x="464" y="272" width="16.5" height="16.5" fill="#ffffff"/><rect x="480" y="272" width="16.5" height="16.5" fill="#e1ebf5"/><rect x="496" y="272" width="16.5" height="16.5" fill="#e1ebf5"/><rect x="512" y="272" width="16.5" height="16.5" fill="#e1ebf5"/><rect x="528" y="272" width="16.5" height="16.5" fill="#c9dcee"/><rect x="544" y="272" width="16.5" height="16.5" fill="#c9dcee"/><rect x="560" y="272" width="16.5" height="16.5" fill="#e1ebf5"/><rect x="576" y="272" width="16.5" height="16.5" fill="#ffffff"/><rect x="592" y="272" width="16.5" height="16.5" fill="#a3cbe8"/><rect x="608" y="272" width="16.5" height="16.5" fill="#a3cbe8"/><rect x="624" y="272" width="16.5" height="16.5" fill="#a3cbe8"/><rect x="640" y="272" width="16.5" height="16.5" fill="#a3cbe8"/><rect x="656" y="272" width="16.5" height="16.5" fill="#c9dcee"/><rect x="672" y="272" width="16.5" height="16.5" fill="#a3cbe8"/><rect x="688" y="272" width="16.5" height="16.5" fill="#c9dcee"/><rect x="704" y="272" width="16.5" height="16.5" fill="#c9dcee"/><rect x="720" y="272" width="16.5" height="16.5" fill="#e1ebf5"/><rect x="736" y="272" width="16.5" height="16.5" fill="#e1ebf5"/><rect x="752" y="272" width="16.5" height="16.5" fill="#ffffff"/><rect x="768" y="272" width="16.5" height="16.5" fill="#e1ebf5"/><rect x="784" y="272" width="16.5" height="16.5" fill="#e1ebf5"/><rect x="800" y="272" width="16.5" height="16.5" fill="#e1ebf5"/><rect x="816" y="272" width="16.5" height="16.5" fill="#e1ebf5"/><rect x="832" y="272" width="16.5" height="16.5" fill="#e1ebf5"/><rect x="848" y="272" width="16.5" height="16.5" fill="#e1ebf5"/><rect x="864" y="272" width="16.5" height="16.5" fill="#e1ebf5"/><rect x="880" y="272" width="16.5" height="16.5" fill="#e1ebf5"/><rect x="896" y="272" width="16.5" height="16.5" fill="#e3ecf6"/><rect x="912" y="272" width="16.5" height="16.5" fill="#e1ebf5"/><rect x="928" y="272" width="16.5" height="16.5" fill="#e1ebf5"/><rect x="944" y="272" width="16.5" height="16.5" fill="#e3ecf6"/><rect x="960" y="272" width="16.5" height="16.5" fill="#e7eff7"/><rect x="976" y="272" width="16.5" height="16.5" fill="#e8f0f8"/><rect x="992" y="272" width="16.5" height="16.5" fill="#e8f0f8"/><rect x="1008" y="272" width="16.5" height="16.5" fill="#e7eff7"/><rect x="1024" y="272" width="16.5" height="16.5" fill="#e3ecf6"/><rect x="1040" y="272" width="16.5" height="16.5" fill="#e1ebf5"/><rect x="1056" y="272" width="16.5" height="16.5" fill="#e1ebf5"/><rect x="1072" y="272" width="16.5" height="16.5" fill="#e1ebf5"/><rect x="1088" y="272" width="16.5" height="16.5" fill="#e1ebf5"/><rect x="1104" y="272" width="16.5" height="16.5" fill="#e8f0f8"/><rect x="1120" y="272" width="16.5" height="16.5" fill="#f8fafc"/><rect x="1136" y="272" width="16.5" height="16.5" fill="#fffefd"/><rect x="1152" y="272" width="16.5" height="16.5" fill="#fffdf9"/><rect x="1168" y="272" width="16.5" height="16.5" fill="#fffbf4"/><rect x="1184" y="272" width="16.5" height="16.5" fill="#fff9ef"/><rect x="1200" y="272" width="16.5" height="16.5" fill="#fef8ec"/><rect x="1216" y="272" width="16.5" height="16.5" fill="#fef8ec"/><rect x="1232" y="272" width="16.5" height="16.5" fill="#fef8ec"/><rect x="1248" y="272" width="16.5" height="16.5" fill="#fef8ec"/><rect x="1264" y="272" width="16.5" height="16.5" fill="#fdd99a"/><rect x="1280" y="272" width="16.5" height="16.5" fill="#fdd591"/><rect x="1296" y="272" width="16.5" height="16.5" fill="#fdd591"/><rect x="1312" y="272" width="16.5" height="16.5" fill="#fdd591"/><rect x="1328" y="272" width="16.5" height="16.5" fill="#fddb9f"/><rect x="1344" y="272" width="16.5" height="16.5" fill="#fddb9f"/><rect x="1360" y="272" width="16.5" height="16.5" fill="#fddca1"/><rect x="1376" y="272" width="16.5" height="16.5" fill="#fdda9c"/><rect x="1392" y="272" width="16.5" height="16.5" fill="#fddea8"/><rect x="1408" y="272" width="16.5" height="16.5" fill="#feeac4"/><rect x="1424" y="272" width="16.5" height="16.5" fill="#feecc9"/><rect x="1440" y="272" width="16.5" height="16.5" fill="#fde4b5"/><rect x="1456" y="272" width="16.5" height="16.5" fill="#fde0ab"/><rect x="1472" y="272" width="16.5" height="16.5" fill="#fde0ab"/><rect x="1488" y="272" width="16.5" height="16.5" fill="#fde1ad"/><rect x="1504" y="272" width="16.5" height="16.5" fill="#fde1ad"/><rect x="1520" y="272" width="16.5" height="16.5" fill="#fde1ad"/><rect x="1536" y="272" width="16.5" height="16.5" fill="#fde1ad"/><rect x="384" y="288" width="16.5" height="16.5" fill="#fdd591"/><rect x="400" y="288" width="16.5" height="16.5" fill="#fdd591"/><rect x="416" y="288" width="16.5" height="16.5" fill="#fdd591"/><rect x="432" y="288" width="16.5" height="16.5" fill="#fde4b4"/><rect x="448" y="288" width="16.5" height="16.5" fill="#fef3dd"/><rect x="464" y="288" width="16.5" height="16.5" fill="#e1ebf5"/><rect x="480" y="288" width="16.5" height="16.5" fill="#c9dcee"/><rect x="496" y="288" width="16.5" height="16.5" fill="#c9dcee"/><rect x="512" y="288" width="16.5" height="16.5" fill="#c9dcee"/><rect x="528" y="288" width="16.5" height="16.5" fill="#c9dcee"/><rect x="544" y="288" width="16.5" height="16.5" fill="#c9dcee"/><rect x="560" y="288" width="16.5" height="16.5" fill="#e1ebf5"/><rect x="576" y="288" width="16.5" height="16.5" fill="#ffffff"/><rect x="592" y="288" width="16.5" height="16.5" fill="#c9dcee"/><rect x="608" y="288" width="16.5" height="16.5" fill="#a3cbe8"/><rect x="624" y="288" width="16.5" height="16.5" fill="#a3cbe8"/><rect x="640" y="288" width="16.5" height="16.5" fill="#a3cbe8"/><rect x="656" y="288" width="16.5" height="16.5" fill="#c9dcee"/><rect x="672" y="288" width="16.5" height="16.5" fill="#a3cbe8"/><rect x="688" y="288" width="16.5" height="16.5" fill="#a3cbe8"/><rect x="704" y="288" width="16.5" height="16.5" fill="#6db5e0"/><rect x="720" y="288" width="16.5" height="16.5" fill="#c9dcee"/><rect x="736" y="288" width="16.5" height="16.5" fill="#e1ebf5"/><rect x="752" y="288" width="16.5" height="16.5" fill="#c9dcee"/><rect x="768" y="288" width="16.5" height="16.5" fill="#e1ebf5"/><rect x="784" y="288" width="16.5" height="16.5" fill="#e1ebf5"/><rect x="800" y="288" width="16.5" height="16.5" fill="#e1ebf5"/><rect x="816" y="288" width="16.5" height="16.5" fill="#e1ebf5"/><rect x="832" y="288" width="16.5" height="16.5" fill="#ffffff"/><rect x="848" y="288" width="16.5" height="16.5" fill="#ffffff"/><rect x="864" y="288" width="16.5" height="16.5" fill="#ffffff"/><rect x="880" y="288" width="16.5" height="16.5" fill="#ffffff"/><rect x="896" y="288" width="16.5" height="16.5" fill="#e7eff7"/><rect x="912" y="288" width="16.5" height="16.5" fill="#e1ebf5"/><rect x="928" y="288" width="16.5" height="16.5" fill="#e1ebf5"/><rect x="944" y="288" width="16.5" height="16.5" fill="#e7eff7"/><rect x="960" y="288" width="16.5" height="16.5" fill="#f2f6fb"/><rect x="976" y="288" width="16.5" height="16.5" fill="#f8fafc"/><rect x="992" y="288" width="16.5" height="16.5" fill="#f8fafc"/><rect x="1008" y="288" width="16.5" height="16.5" fill="#f2f6fb"/><rect x="1024" y="288" width="16.5" height="16.5" fill="#e7eff7"/><rect x="1040" y="288" width="16.5" height="16.5" fill="#e1ebf5"/><rect x="1056" y="288" width="16.5" height="16.5" fill="#e1ebf5"/><rect x="1072" y="288" width="16.5" height="16.5" fill="#e1ebf5"/><rect x="1088" y="288" width="16.5" height="16.5" fill="#e1ebf5"/><rect x="1104" y="288" width="16.5" height="16.5" fill="#e8f0f8"/><rect x="1120" y="288" width="16.5" height="16.5" fill="#f8fafc"/><rect x="1136" y="288" width="16.5" height="16.5" fill="#fffdf9"/><rect x="1152" y="288" width="16.5" height="16.5" fill="#fef8ec"/><rect x="1168" y="288" width="16.5" height="16.5" fill="#fef3de"/><rect x="1184" y="288" width="16.5" height="16.5" fill="#feeece"/><rect x="1200" y="288" width="16.5" height="16.5" fill="#feebc7"/><rect x="1216" y="288" width="16.5" height="16.5" fill="#feebc7"/><rect x="1232" y="288" width="16.5" height="16.5" fill="#feebc7"/><rect x="1248" y="288" width="16.5" height="16.5" fill="#fde4b4"/><rect x="1264" y="288" width="16.5" height="16.5" fill="#fdd99a"/><rect x="1280" y="288" width="16.5" height="16.5" fill="#fdd99a"/><rect x="1296" y="288" width="16.5" height="16.5" fill="#fdd591"/><rect x="1312" y="288" width="16.5" height="16.5" fill="#fdd591"/><rect x="1328" y="288" width="16.5" height="16.5" fill="#fddb9f"/><rect x="1344" y="288" width="16.5" height="16.5" fill="#fee6bc"/><rect x="1360" y="288" width="16.5" height="16.5" fill="#fee9c2"/><rect x="1376" y="288" width="16.5" height="16.5" fill="#fde3b3"/><rect x="1392" y="288" width="16.5" height="16.5" fill="#fde2b0"/><rect x="1408" y="288" width="16.5" height="16.5" fill="#fde6ba"/><rect x="1424" y="288" width="16.5" height="16.5" fill="#fde4b5"/><rect x="1440" y="288" width="16.5" height="16.5" fill="#fddca3"/><rect x="1456" y="288" width="16.5" height="16.5" fill="#fdd99a"/><rect x="1472" y="288" width="16.5" height="16.5" fill="#fdd99a"/><rect x="1488" y="288" width="16.5" height="16.5" fill="#fde1ad"/><rect x="1504" y="288" width="16.5" height="16.5" fill="#fde1ad"/><rect x="1520" y="288" width="16.5" height="16.5" fill="#fde1ad"/><rect x="1536" y="288" width="16.5" height="16.5" fill="#fde1ad"/><rect x="384" y="304" width="16.5" height="16.5" fill="#fdd591"/><rect x="400" y="304" width="16.5" height="16.5" fill="#fdd591"/><rect x="416" y="304" width="16.5" height="16.5" fill="#fdd591"/><rect x="432" y="304" width="16.5" height="16.5" fill="#fde4b4"/><rect x="448" y="304" width="16.5" height="16.5" fill="#fef3dd"/><rect x="464" y="304" width="16.5" height="16.5" fill="#e1ebf5"/><rect x="480" y="304" width="16.5" height="16.5" fill="#e1ebf5"/><rect x="496" y="304" width="16.5" height="16.5" fill="#e1ebf5"/><rect x="512" y="304" width="16.5" height="16.5" fill="#e1ebf5"/><rect x="528" y="304" width="16.5" height="16.5" fill="#e1ebf5"/><rect x="544" y="304" width="16.5" height="16.5" fill="#e1ebf5"/><rect x="560" y="304" width="16.5" height="16.5" fill="#ffffff"/><rect x="576" y="304" width="16.5" height="16.5" fill="#ffffff"/><rect x="592" y="304" width="16.5" height="16.5" fill="#c9dcee"/><rect x="608" y="304" width="16.5" height="16.5" fill="#a3cbe8"/><rect x="624" y="304" width="16.5" height="16.5" fill="#a3cbe8"/><rect x="640" y="304" width="16.5" height="16.5" fill="#c9dcee"/><rect x="656" y="304" width="16.5" height="16.5" fill="#e1ebf5"/><rect x="672" y="304" width="16.5" height="16.5" fill="#e1ebf5"/><rect x="688" y="304" width="16.5" height="16.5" fill="#a3cbe8"/><rect x="704" y="304" width="16.5" height="16.5" fill="#a3cbe8"/><rect x="720" y="304" width="16.5" height="16.5" fill="#ffffff"/><rect x="736" y="304" width="16.5" height="16.5" fill="#e1ebf5"/><rect x="752" y="304" width="16.5" height="16.5" fill="#a3cbe8"/><rect x="768" y="304" width="16.5" height="16.5" fill="#e1ebf5"/><rect x="784" y="304" width="16.5" height="16.5" fill="#e1ebf5"/><rect x="800" y="304" width="16.5" height="16.5" fill="#e1ebf5"/><rect x="816" y="304" width="16.5" height="16.5" fill="#e1ebf5"/><rect x="832" y="304" width="16.5" height="16.5" fill="#ffffff"/><rect x="848" y="304" width="16.5" height="16.5" fill="#ffffff"/><rect x="864" y="304" width="16.5" height="16.5" fill="#ffffff"/><rect x="880" y="304" width="16.5" height="16.5" fill="#ffffff"/><rect x="896" y="304" width="16.5" height="16.5" fill="#eef4f9"/><rect x="912" y="304" width="16.5" height="16.5" fill="#e7eff7"/><rect x="928" y="304" width="16.5" height="16.5" fill="#e3ecf6"/><rect x="944" y="304" width="16.5" height="16.5" fill="#e8f0f8"/><rect x="960" y="304" width="16.5" height="16.5" fill="#f8fafc"/><rect x="976" y="304" width="16.5" height="16.5" fill="#ffffff"/><rect x="992" y="304" width="16.5" height="16.5" fill="#ffffff"/><rect x="1008" y="304" width="16.5" height="16.5" fill="#f9fbfd"/><rect x="1024" y="304" width="16.5" height="16.5" fill="#eef4f9"/><rect x="1040" y="304" width="16.5" height="16.5" fill="#e8f0f8"/><rect x="1056" y="304" width="16.5" height="16.5" fill="#e8f0f8"/><rect x="1072" y="304" width="16.5" height="16.5" fill="#e8eff5"/><rect x="1088" y="304" width="16.5" height="16.5" fill="#e8eef1"/><rect x="1104" y="304" width="16.5" height="16.5" fill="#eef0ee"/><rect x="1120" y="304" width="16.5" height="16.5" fill="#f9f5ed"/><rect x="1136" y="304" width="16.5" height="16.5" fill="#fef6e6"/><rect x="1152" y="304" width="16.5" height="16.5" fill="#fef2d9"/><rect x="1168" y="304" width="16.5" height="16.5" fill="#feeccb"/><rect x="1184" y="304" width="16.5" height="16.5" fill="#fde7bc"/><rect x="1200" y="304" width="16.5" height="16.5" fill="#fde4b4"/><rect x="1216" y="304" width="16.5" height="16.5" fill="#fde4b4"/><rect x="1232" y="304" width="16.5" height="16.5" fill="#fde4b4"/><rect x="1248" y="304" width="16.5" height="16.5" fill="#fde4b4"/><rect x="1264" y="304" width="16.5" height="16.5" fill="#fdd99a"/><rect x="1280" y="304" width="16.5" height="16.5" fill="#fdd99a"/><rect x="1296" y="304" width="16.5" height="16.5" fill="#fdd591"/><rect x="1312" y="304" width="16.5" height="16.5" fill="#fdd591"/><rect x="1328" y="304" width="16.5" height="16.5" fill="#fddb9f"/><rect x="1344" y="304" width="16.5" height="16.5" fill="#fee6bc"/><rect x="1360" y="304" width="16.5" height="16.5" fill="#feeac4"/><rect x="1376" y="304" width="16.5" height="16.5" fill="#fde6ba"/><rect x="1392" y="304" width="16.5" height="16.5" fill="#fde2b0"/><rect x="1408" y="304" width="16.5" height="16.5" fill="#fddeaa"/><rect x="1424" y="304" width="16.5" height="16.5" fill="#fdd89e"/><rect x="1440" y="304" width="16.5" height="16.5" fill="#fdd08f"/><rect x="1456" y="304" width="16.5" height="16.5" fill="#fccc88"/><rect x="1472" y="304" width="16.5" height="16.5" fill="#fccc88"/><rect x="1488" y="304" width="16.5" height="16.5" fill="#fccc88"/><rect x="1504" y="304" width="16.5" height="16.5" fill="#fde1ad"/><rect x="1520" y="304" width="16.5" height="16.5" fill="#fde1ad"/><rect x="384" y="320" width="16.5" height="16.5" fill="#fdd591"/><rect x="400" y="320" width="16.5" height="16.5" fill="#fdd591"/><rect x="416" y="320" width="16.5" height="16.5" fill="#fdd591"/><rect x="432" y="320" width="16.5" height="16.5" fill="#fde4b4"/><rect x="448" y="320" width="16.5" height="16.5" fill="#ffffff"/><rect x="464" y="320" width="16.5" height="16.5" fill="#e1ebf5"/><rect x="480" y="320" width="16.5" height="16.5" fill="#e1ebf5"/><rect x="496" y="320" width="16.5" height="16.5" fill="#e1ebf5"/><rect x="512" y="320" width="16.5" height="16.5" fill="#ffffff"/><rect x="528" y="320" width="16.5" height="16.5" fill="#e1ebf5"/><rect x="544" y="320" width="16.5" height="16.5" fill="#ffffff"/><rect x="560" y="320" width="16.5" height="16.5" fill="#e1ebf5"/><rect x="576" y="320" width="16.5" height="16.5" fill="#ffffff"/><rect x="592" y="320" width="16.5" height="16.5" fill="#ffffff"/><rect x="608" y="320" width="16.5" height="16.5" fill="#c9dcee"/><rect x="624" y="320" width="16.5" height="16.5" fill="#a3cbe8"/><rect x="640" y="320" width="16.5" height="16.5" fill="#c9dcee"/><rect x="656" y="320" width="16.5" height="16.5" fill="#e1ebf5"/><rect x="672" y="320" width="16.5" height="16.5" fill="#c9dcee"/><rect x="688" y="320" width="16.5" height="16.5" fill="#a3cbe8"/><rect x="704" y="320" width="16.5" height="16.5" fill="#a3cbe8"/><rect x="720" y="320" width="16.5" height="16.5" fill="#ffffff"/><rect x="736" y="320" width="16.5" height="16.5" fill="#ffffff"/><rect x="752" y="320" width="16.5" height="16.5" fill="#a3cbe8"/><rect x="768" y="320" width="16.5" height="16.5" fill="#e1ebf5"/><rect x="784" y="320" width="16.5" height="16.5" fill="#e1ebf5"/><rect x="800" y="320" width="16.5" height="16.5" fill="#e1ebf5"/><rect x="816" y="320" width="16.5" height="16.5" fill="#c9dcee"/><rect x="832" y="320" width="16.5" height="16.5" fill="#ffffff"/><rect x="848" y="320" width="16.5" height="16.5" fill="#ffffff"/><rect x="864" y="320" width="16.5" height="16.5" fill="#ffffff"/><rect x="880" y="320" width="16.5" height="16.5" fill="#ffffff"/><rect x="896" y="320" width="16.5" height="16.5" fill="#f9fbfd"/><rect x="912" y="320" width="16.5" height="16.5" fill="#f2f6fb"/><rect x="928" y="320" width="16.5" height="16.5" fill="#e7eff7"/><rect x="944" y="320" width="16.5" height="16.5" fill="#e8f0f8"/><rect x="960" y="320" width="16.5" height="16.5" fill="#f8fafc"/><rect x="976" y="320" width="16.5" height="16.5" fill="#ffffff"/><rect x="992" y="320" width="16.5" height="16.5" fill="#ffffff"/><rect x="1008" y="320" width="16.5" height="16.5" fill="#fdfefe"/><rect x="1024" y="320" width="16.5" height="16.5" fill="#f9fbfd"/><rect x="1040" y="320" width="16.5" height="16.5" fill="#f8fafc"/><rect x="1056" y="320" width="16.5" height="16.5" fill="#f8fafc"/><rect x="1072" y="320" width="16.5" height="16.5" fill="#f7f8f6"/><rect x="1088" y="320" width="16.5" height="16.5" fill="#f7f3e9"/><rect x="1104" y="320" width="16.5" height="16.5" fill="#f8efdc"/><rect x="1120" y="320" width="16.5" height="16.5" fill="#fcecce"/><rect x="1136" y="320" width="16.5" height="16.5" fill="#fdeac5"/><rect x="1152" y="320" width="16.5" height="16.5" fill="#fde8c0"/><rect x="1168" y="320" width="16.5" height="16.5" fill="#fde7bc"/><rect x="1184" y="320" width="16.5" height="16.5" fill="#fde5b7"/><rect x="1200" y="320" width="16.5" height="16.5" fill="#fde4b4"/><rect x="1216" y="320" width="16.5" height="16.5" fill="#fde4b4"/><rect x="1232" y="320" width="16.5" height="16.5" fill="#fde4b4"/><rect x="1248" y="320" width="16.5" height="16.5" fill="#fde4b4"/><rect x="1264" y="320" width="16.5" height="16.5" fill="#fdd99a"/><rect x="1280" y="320" width="16.5" height="16.5" fill="#fdd99a"/><rect x="1296" y="320" width="16.5" height="16.5" fill="#fdd591"/><rect x="1312" y="320" width="16.5" height="16.5" fill="#fdd591"/><rect x="1328" y="320" width="16.5" height="16.5" fill="#fdd796"/><rect x="1344" y="320" width="16.5" height="16.5" fill="#fddb9f"/><rect x="1360" y="320" width="16.5" height="16.5" fill="#fddea8"/><rect x="1376" y="320" width="16.5" height="16.5" fill="#fde2b0"/><rect x="1392" y="320" width="16.5" height="16.5" fill="#fddeaa"/><rect x="1408" y="320" width="16.5" height="16.5" fill="#fcd294"/><rect x="1424" y="320" width="16.5" height="16.5" fill="#fcc785"/><rect x="1440" y="320" width="16.5" height="16.5" fill="#fcbe7a"/><rect x="1456" y="320" width="16.5" height="16.5" fill="#fcb975"/><rect x="1472" y="320" width="16.5" height="16.5" fill="#fcb975"/><rect x="1488" y="320" width="16.5" height="16.5" fill="#fcb975"/><rect x="1504" y="320" width="16.5" height="16.5" fill="#fcb975"/><rect x="384" y="336" width="16.5" height="16.5" fill="#fdd591"/><rect x="400" y="336" width="16.5" height="16.5" fill="#fdd591"/><rect x="416" y="336" width="16.5" height="16.5" fill="#fdd591"/><rect x="432" y="336" width="16.5" height="16.5" fill="#fde4b4"/><rect x="448" y="336" width="16.5" height="16.5" fill="#fde4b4"/><rect x="464" y="336" width="16.5" height="16.5" fill="#fef3dd"/><rect x="480" y="336" width="16.5" height="16.5" fill="#e1ebf5"/><rect x="496" y="336" width="16.5" height="16.5" fill="#e1ebf5"/><rect x="512" y="336" width="16.5" height="16.5" fill="#e1ebf5"/><rect x="528" y="336" width="16.5" height="16.5" fill="#ffffff"/><rect x="544" y="336" width="16.5" height="16.5" fill="#e1ebf5"/><rect x="560" y="336" width="16.5" height="16.5" fill="#e1ebf5"/><rect x="576" y="336" width="16.5" height="16.5" fill="#e1ebf5"/><rect x="592" y="336" width="16.5" height="16.5" fill="#e1ebf5"/><rect x="608" y="336" width="16.5" height="16.5" fill="#e1ebf5"/><rect x="624" y="336" width="16.5" height="16.5" fill="#e1ebf5"/><rect x="640" y="336" width="16.5" height="16.5" fill="#e1ebf5"/><rect x="656" y="336" width="16.5" height="16.5" fill="#e1ebf5"/><rect x="672" y="336" width="16.5" height="16.5" fill="#c9dcee"/><rect x="688" y="336" width="16.5" height="16.5" fill="#a3cbe8"/><rect x="704" y="336" width="16.5" height="16.5" fill="#6db5e0"/><rect x="720" y="336" width="16.5" height="16.5" fill="#c9dcee"/><rect x="736" y="336" width="16.5" height="16.5" fill="#e1ebf5"/><rect x="752" y="336" width="16.5" height="16.5" fill="#c9dcee"/><rect x="768" y="336" width="16.5" height="16.5" fill="#e1ebf5"/><rect x="784" y="336" width="16.5" height="16.5" fill="#e1ebf5"/><rect x="800" y="336" width="16.5" height="16.5" fill="#e1ebf5"/><rect x="816" y="336" width="16.5" height="16.5" fill="#e1ebf5"/><rect x="832" y="336" width="16.5" height="16.5" fill="#ffffff"/><rect x="848" y="336" width="16.5" height="16.5" fill="#ffffff"/><rect x="864" y="336" width="16.5" height="16.5" fill="#ffffff"/><rect x="880" y="336" width="16.5" height="16.5" fill="#ffffff"/><rect x="896" y="336" width="16.5" height="16.5" fill="#fffdf9"/><rect x="912" y="336" width="16.5" height="16.5" fill="#f9f9f7"/><rect x="928" y="336" width="16.5" height="16.5" fill="#eef3f7"/><rect x="944" y="336" width="16.5" height="16.5" fill="#eef3f7"/><rect x="960" y="336" width="16.5" height="16.5" fill="#f9f9f7"/><rect x="976" y="336" width="16.5" height="16.5" fill="#fffcf6"/><rect x="992" y="336" width="16.5" height="16.5" fill="#fffcf6"/><rect x="1008" y="336" width="16.5" height="16.5" fill="#fffbf4"/><rect x="1024" y="336" width="16.5" height="16.5" fill="#fff9ef"/><rect x="1040" y="336" width="16.5" height="16.5" fill="#fef8ec"/><rect x="1056" y="336" width="16.5" height="16.5" fill="#fef8ec"/><rect x="1072" y="336" width="16.5" height="16.5" fill="#fef6e6"/><rect x="1088" y="336" width="16.5" height="16.5" fill="#fef2d9"/><rect x="1104" y="336" width="16.5" height="16.5" fill="#feecc9"/><rect x="1120" y="336" width="16.5" height="16.5" fill="#fde4b5"/><rect x="1136" y="336" width="16.5" height="16.5" fill="#fde0ab"/><rect x="1152" y="336" width="16.5" height="16.5" fill="#fde0ab"/><rect x="1168" y="336" width="16.5" height="16.5" fill="#fde0ab"/><rect x="1184" y="336" width="16.5" height="16.5" fill="#fde0ab"/><rect x="1200" y="336" width="16.5" height="16.5" fill="#fde0ab"/><rect x="1216" y="336" width="16.5" height="16.5" fill="#fde0ab"/><rect x="1232" y="336" width="16.5" height="16.5" fill="#fde0ab"/><rect x="1248" y="336" width="16.5" height="16.5" fill="#fde0ab"/><rect x="1264" y="336" width="16.5" height="16.5" fill="#fdd898"/><rect x="1280" y="336" width="16.5" height="16.5" fill="#fdd898"/><rect x="1296" y="336" width="16.5" height="16.5" fill="#fdd591"/><rect x="1312" y="336" width="16.5" height="16.5" fill="#fdd591"/><rect x="1328" y="336" width="16.5" height="16.5" fill="#fdd693"/><rect x="1344" y="336" width="16.5" height="16.5" fill="#fdd898"/><rect x="1360" y="336" width="16.5" height="16.5" fill="#fdda9d"/><rect x="1376" y="336" width="16.5" height="16.5" fill="#fddba3"/><rect x="1392" y="336" width="16.5" height="16.5" fill="#fcd59a"/><rect x="1408" y="336" width="16.5" height="16.5" fill="#fcc684"/><rect x="1424" y="336" width="16.5" height="16.5" fill="#fcbb75"/><rect x="1440" y="336" width="16.5" height="16.5" fill="#fbb46f"/><rect x="1456" y="336" width="16.5" height="16.5" fill="#fbb06c"/><rect x="1472" y="336" width="16.5" height="16.5" fill="#fbb06c"/><rect x="1488" y="336" width="16.5" height="16.5" fill="#fbb06c"/><rect x="1504" y="336" width="16.5" height="16.5" fill="#fbb06c"/><rect x="384" y="352" width="16.5" height="16.5" fill="#fdd591"/><rect x="400" y="352" width="16.5" height="16.5" fill="#fdd591"/><rect x="416" y="352" width="16.5" height="16.5" fill="#fdd591"/><rect x="432" y="352" width="16.5" height="16.5" fill="#fdd591"/><rect x="448" y="352" width="16.5" height="16.5" fill="#fb9a60"/><rect x="464" y="352" width="16.5" height="16.5" fill="#ffffff"/><rect x="480" y="352" width="16.5" height="16.5" fill="#c9dcee"/><rect x="496" y="352" width="16.5" height="16.5" fill="#ffffff"/><rect x="512" y="352" width="16.5" height="16.5" fill="#ffffff"/><rect x="528" y="352" width="16.5" height="16.5" fill="#ffffff"/><rect x="544" y="352" width="16.5" height="16.5" fill="#e1ebf5"/><rect x="560" y="352" width="16.5" height="16.5" fill="#e1ebf5"/><rect x="576" y="352" width="16.5" height="16.5" fill="#e1ebf5"/><rect x="592" y="352" width="16.5" height="16.5" fill="#c9dcee"/><rect x="608" y="352" width="16.5" height="16.5" fill="#c9dcee"/><rect x="624" y="352" width="16.5" height="16.5" fill="#e1ebf5"/><rect x="640" y="352" width="16.5" height="16.5" fill="#e1ebf5"/><rect x="656" y="352" width="16.5" height="16.5" fill="#e1ebf5"/><rect x="672" y="352" width="16.5" height="16.5" fill="#c9dcee"/><rect x="688" y="352" width="16.5" height="16.5" fill="#c9dcee"/><rect x="704" y="352" width="16.5" height="16.5" fill="#a3cbe8"/><rect x="720" y="352" width="16.5" height="16.5" fill="#c9dcee"/><rect x="736" y="352" width="16.5" height="16.5" fill="#e1ebf5"/><rect x="752" y="352" width="16.5" height="16.5" fill="#e1ebf5"/><rect x="768" y="352" width="16.5" height="16.5" fill="#e1ebf5"/><rect x="784" y="352" width="16.5" height="16.5" fill="#e1ebf5"/><rect x="800" y="352" width="16.5" height="16.5" fill="#e1ebf5"/><rect x="816" y="352" width="16.5" height="16.5" fill="#ffffff"/><rect x="832" y="352" width="16.5" height="16.5" fill="#ffffff"/><rect x="848" y="352" width="16.5" height="16.5" fill="#ffffff"/><rect x="864" y="352" width="16.5" height="16.5" fill="#ffffff"/><rect x="880" y="352" width="16.5" height="16.5" fill="#ffffff"/><rect x="896" y="352" width="16.5" height="16.5" fill="#fef8ec"/><rect x="912" y="352" width="16.5" height="16.5" fill="#fdf7eb"/><rect x="928" y="352" width="16.5" height="16.5" fill="#f9f9f7"/><rect x="944" y="352" width="16.5" height="16.5" fill="#f9f9f7"/><rect x="960" y="352" width="16.5" height="16.5" fill="#fdf7eb"/><rect x="976" y="352" width="16.5" height="16.5" fill="#fef6e6"/><rect x="992" y="352" width="16.5" height="16.5" fill="#fef6e6"/><rect x="1008" y="352" width="16.5" height="16.5" fill="#fef3de"/><rect x="1024" y="352" width="16.5" height="16.5" fill="#feeece"/><rect x="1040" y="352" width="16.5" height="16.5" fill="#feebc7"/><rect x="1056" y="352" width="16.5" height="16.5" fill="#feebc7"/><rect x="1072" y="352" width="16.5" height="16.5" fill="#fdeac5"/><rect x="1088" y="352" width="16.5" height="16.5" fill="#fde8c0"/><rect x="1104" y="352" width="16.5" height="16.5" fill="#fde4b5"/><rect x="1120" y="352" width="16.5" height="16.5" fill="#fddca3"/><rect x="1136" y="352" width="16.5" height="16.5" fill="#fdd99a"/><rect x="1152" y="352" width="16.5" height="16.5" fill="#fdd99a"/><rect x="1168" y="352" width="16.5" height="16.5" fill="#fdd99a"/><rect x="1184" y="352" width="16.5" height="16.5" fill="#fdd99a"/><rect x="1200" y="352" width="16.5" height="16.5" fill="#fdd99a"/><rect x="1216" y="352" width="16.5" height="16.5" fill="#fdd99a"/><rect x="1232" y="352" width="16.5" height="16.5" fill="#fdd99a"/><rect x="1248" y="352" width="16.5" height="16.5" fill="#fdd99a"/><rect x="1264" y="352" width="16.5" height="16.5" fill="#fdd898"/><rect x="1280" y="352" width="16.5" height="16.5" fill="#fdd693"/><rect x="1296" y="352" width="16.5" height="16.5" fill="#fdd591"/><rect x="1312" y="352" width="16.5" height="16.5" fill="#fdd591"/><rect x="1328" y="352" width="16.5" height="16.5" fill="#fdd898"/><rect x="1344" y="352" width="16.5" height="16.5" fill="#fddda5"/><rect x="1360" y="352" width="16.5" height="16.5" fill="#fddba3"/><rect x="1376" y="352" width="16.5" height="16.5" fill="#fcd192"/><rect x="1392" y="352" width="16.5" height="16.5" fill="#fcc684"/><rect x="1408" y="352" width="16.5" height="16.5" fill="#fcbb76"/><rect x="1424" y="352" width="16.5" height="16.5" fill="#fbb46f"/><rect x="1440" y="352" width="16.5" height="16.5" fill="#fbb16d"/><rect x="1456" y="352" width="16.5" height="16.5" fill="#fbb06c"/><rect x="1472" y="352" width="16.5" height="16.5" fill="#fbb06c"/><rect x="1488" y="352" width="16.5" height="16.5" fill="#fbb06c"/><rect x="1504" y="352" width="16.5" height="16.5" fill="#fbb06c"/><rect x="384" y="368" width="16.5" height="16.5" fill="#fdd591"/><rect x="400" y="368" width="16.5" height="16.5" fill="#fdd591"/><rect x="416" y="368" width="16.5" height="16.5" fill="#fcc47c"/><rect x="432" y="368" width="16.5" height="16.5" fill="#fdd591"/><rect x="448" y="368" width="16.5" height="16.5" fill="#fb9a60"/><rect x="464" y="368" width="16.5" height="16.5" fill="#e1ebf5"/><rect x="480" y="368" width="16.5" height="16.5" fill="#ffffff"/><rect x="496" y="368" width="16.5" height="16.5" fill="#fef3dd"/><rect x="512" y="368" width="16.5" height="16.5" fill="#ffffff"/><rect x="528" y="368" width="16.5" height="16.5" fill="#e1ebf5"/><rect x="544" y="368" width="16.5" height="16.5" fill="#e1ebf5"/><rect x="560" y="368" width="16.5" height="16.5" fill="#e1ebf5"/><rect x="576" y="368" width="16.5" height="16.5" fill="#e1ebf5"/><rect x="592" y="368" width="16.5" height="16.5" fill="#e1ebf5"/><rect x="608" y="368" width="16.5" height="16.5" fill="#e1ebf5"/><rect x="624" y="368" width="16.5" height="16.5" fill="#ffffff"/><rect x="640" y="368" width="16.5" height="16.5" fill="#ffffff"/><rect x="656" y="368" width="16.5" height="16.5" fill="#c9dcee"/><rect x="672" y="368" width="16.5" height="16.5" fill="#c9dcee"/><rect x="688" y="368" width="16.5" height="16.5" fill="#c9dcee"/><rect x="704" y="368" width="16.5" height="16.5" fill="#c9dcee"/><rect x="720" y="368" width="16.5" height="16.5" fill="#c9dcee"/><rect x="736" y="368" width="16.5" height="16.5" fill="#c9dcee"/><rect x="752" y="368" width="16.5" height="16.5" fill="#c9dcee"/><rect x="768" y="368" width="16.5" height="16.5" fill="#c9dcee"/><rect x="784" y="368" width="16.5" height="16.5" fill="#e1ebf5"/><rect x="800" y="368" width="16.5" height="16.5" fill="#e1ebf5"/><rect x="816" y="368" width="16.5" height="16.5" fill="#ffffff"/><rect x="832" y="368" width="16.5" height="16.5" fill="#ffffff"/><rect x="848" y="368" width="16.5" height="16.5" fill="#ffffff"/><rect x="864" y="368" width="16.5" height="16.5" fill="#ffffff"/><rect x="880" y="368" width="16.5" height="16.5" fill="#ffffff"/><rect x="896" y="368" width="16.5" height="16.5" fill="#fef5e3"/><rect x="912" y="368" width="16.5" height="16.5" fill="#fef5e3"/><rect x="928" y="368" width="16.5" height="16.5" fill="#fffaf0"/><rect x="944" y="368" width="16.5" height="16.5" fill="#fef9ee"/><rect x="960" y="368" width="16.5" height="16.5" fill="#fef2dc"/><rect x="976" y="368" width="16.5" height="16.5" fill="#feefd3"/><rect x="992" y="368" width="16.5" height="16.5" fill="#feefd3"/><rect x="1008" y="368" width="16.5" height="16.5" fill="#feecc9"/><rect x="1024" y="368" width="16.5" height="16.5" fill="#fde4b5"/><rect x="1040" y="368" width="16.5" height="16.5" fill="#fde0ab"/><rect x="1056" y="368" width="16.5" height="16.5" fill="#fde0ab"/><rect x="1072" y="368" width="16.5" height="16.5" fill="#fde0ab"/><rect x="1088" y="368" width="16.5" height="16.5" fill="#fde0ab"/><rect x="1104" y="368" width="16.5" height="16.5" fill="#fddda5"/><rect x="1120" y="368" width="16.5" height="16.5" fill="#fdd898"/><rect x="1136" y="368" width="16.5" height="16.5" fill="#fdd591"/><rect x="1152" y="368" width="16.5" height="16.5" fill="#fdd591"/><rect x="1168" y="368" width="16.5" height="16.5" fill="#fdd591"/><rect x="1184" y="368" width="16.5" height="16.5" fill="#fdd591"/><rect x="1200" y="368" width="16.5" height="16.5" fill="#fdd591"/><rect x="1216" y="368" width="16.5" height="16.5" fill="#fdd591"/><rect x="1232" y="368" width="16.5" height="16.5" fill="#fdd591"/><rect x="1248" y="368" width="16.5" height="16.5" fill="#fdd591"/><rect x="1264" y="368" width="16.5" height="16.5" fill="#fdd591"/><rect x="1280" y="368" width="16.5" height="16.5" fill="#fdd591"/><rect x="1296" y="368" width="16.5" height="16.5" fill="#fdd693"/><rect x="1312" y="368" width="16.5" height="16.5" fill="#fdd898"/><rect x="1328" y="368" width="16.5" height="16.5" fill="#fddb9e"/><rect x="1344" y="368" width="16.5" height="16.5" fill="#fddea7"/><rect x="1360" y="368" width="16.5" height="16.5" fill="#fdd89e"/><rect x="1376" y="368" width="16.5" height="16.5" fill="#fcc785"/><rect x="1392" y="368" width="16.5" height="16.5" fill="#fcbb75"/><rect x="1408" y="368" width="16.5" height="16.5" fill="#fbb46f"/><rect x="1424" y="368" width="16.5" height="16.5" fill="#fbb06c"/><rect x="1440" y="368" width="16.5" height="16.5" fill="#fbb06c"/><rect x="1456" y="368" width="16.5" height="16.5" fill="#fbb06c"/><rect x="1472" y="368" width="16.5" height="16.5" fill="#fbb06c"/><rect x="1488" y="368" width="16.5" height="16.5" fill="#fbb06c"/><rect x="1504" y="368" width="16.5" height="16.5" fill="#fbb06c"/><rect x="384" y="384" width="16.5" height="16.5" fill="#fcc47c"/><rect x="400" y="384" width="16.5" height="16.5" fill="#fcc47c"/><rect x="416" y="384" width="16.5" height="16.5" fill="#fcc47c"/><rect x="432" y="384" width="16.5" height="16.5" fill="#fbb06c"/><rect x="448" y="384" width="16.5" height="16.5" fill="#fb9a60"/><rect x="464" y="384" width="16.5" height="16.5" fill="#fde4b4"/><rect x="480" y="384" width="16.5" height="16.5" fill="#e1ebf5"/><rect x="496" y="384" width="16.5" height="16.5" fill="#fef3dd"/><rect x="512" y="384" width="16.5" height="16.5" fill="#ffffff"/><rect x="528" y="384" width="16.5" height="16.5" fill="#e1ebf5"/><rect x="544" y="384" width="16.5" height="16.5" fill="#e1ebf5"/><rect x="560" y="384" width="16.5" height="16.5" fill="#e1ebf5"/><rect x="576" y="384" width="16.5" height="16.5" fill="#e1ebf5"/><rect x="592" y="384" width="16.5" height="16.5" fill="#e1ebf5"/><rect x="608" y="384" width="16.5" height="16.5" fill="#e1ebf5"/><rect x="624" y="384" width="16.5" height="16.5" fill="#ffffff"/><rect x="640" y="384" width="16.5" height="16.5" fill="#ffffff"/><rect x="656" y="384" width="16.5" height="16.5" fill="#c9dcee"/><rect x="672" y="384" width="16.5" height="16.5" fill="#c9dcee"/><rect x="688" y="384" width="16.5" height="16.5" fill="#c9dcee"/><rect x="704" y="384" width="16.5" height="16.5" fill="#c9dcee"/><rect x="720" y="384" width="16.5" height="16.5" fill="#c9dcee"/><rect x="736" y="384" width="16.5" height="16.5" fill="#c9dcee"/><rect x="752" y="384" width="16.5" height="16.5" fill="#a3cbe8"/><rect x="768" y="384" width="16.5" height="16.5" fill="#c9dcee"/><rect x="784" y="384" width="16.5" height="16.5" fill="#e1ebf5"/><rect x="800" y="384" width="16.5" height="16.5" fill="#e1ebf5"/><rect x="816" y="384" width="16.5" height="16.5" fill="#ffffff"/><rect x="832" y="384" width="16.5" height="16.5" fill="#ffffff"/><rect x="848" y="384" width="16.5" height="16.5" fill="#ffffff"/><rect x="864" y="384" width="16.5" height="16.5" fill="#ffffff"/><rect x="880" y="384" width="16.5" height="16.5" fill="#ffffff"/><rect x="896" y="384" width="16.5" height="16.5" fill="#fef4df"/><rect x="912" y="384" width="16.5" height="16.5" fill="#fef4df"/><rect x="928" y="384" width="16.5" height="16.5" fill="#fef5e3"/><rect x="944" y="384" width="16.5" height="16.5" fill="#fef2dc"/><rect x="960" y="384" width="16.5" height="16.5" fill="#feebc8"/><rect x="976" y="384" width="16.5" height="16.5" fill="#fde8be"/><rect x="992" y="384" width="16.5" height="16.5" fill="#fde8be"/><rect x="1008" y="384" width="16.5" height="16.5" fill="#fde4b5"/><rect x="1024" y="384" width="16.5" height="16.5" fill="#fddca3"/><rect x="1040" y="384" width="16.5" height="16.5" fill="#fdd99a"/><rect x="1056" y="384" width="16.5" height="16.5" fill="#fdd99a"/><rect x="1072" y="384" width="16.5" height="16.5" fill="#fdd99a"/><rect x="1088" y="384" width="16.5" height="16.5" fill="#fdd99a"/><rect x="1104" y="384" width="16.5" height="16.5" fill="#fdd898"/><rect x="1120" y="384" width="16.5" height="16.5" fill="#fdd693"/><rect x="1136" y="384" width="16.5" height="16.5" fill="#fdd591"/><rect x="1152" y="384" width="16.5" height="16.5" fill="#fdd591"/><rect x="1168" y="384" width="16.5" height="16.5" fill="#fdd591"/><rect x="1184" y="384" width="16.5" height="16.5" fill="#fdd591"/><rect x="1200" y="384" width="16.5" height="16.5" fill="#fdd591"/><rect x="1216" y="384" width="16.5" height="16.5" fill="#fdd591"/><rect x="1232" y="384" width="16.5" height="16.5" fill="#fdd591"/><rect x="1248" y="384" width="16.5" height="16.5" fill="#fdd591"/><rect x="1264" y="384" width="16.5" height="16.5" fill="#fdd591"/><rect x="1280" y="384" width="16.5" height="16.5" fill="#fdd591"/><rect x="1296" y="384" width="16.5" height="16.5" fill="#fdd898"/><rect x="1312" y="384" width="16.5" height="16.5" fill="#fddda5"/><rect x="1328" y="384" width="16.5" height="16.5" fill="#fddea7"/><rect x="1344" y="384" width="16.5" height="16.5" fill="#fddb9e"/><rect x="1360" y="384" width="16.5" height="16.5" fill="#fdd08f"/><rect x="1376" y="384" width="16.5" height="16.5" fill="#fcbe7a"/><rect x="1392" y="384" width="16.5" height="16.5" fill="#fbb46f"/><rect x="1408" y="384" width="16.5" height="16.5" fill="#fbb46f"/><rect x="1424" y="384" width="16.5" height="16.5" fill="#fbb06c"/><rect x="1440" y="384" width="16.5" height="16.5" fill="#fbb06c"/><rect x="1456" y="384" width="16.5" height="16.5" fill="#fbb06c"/><rect x="1472" y="384" width="16.5" height="16.5" fill="#fbb06c"/><rect x="1488" y="384" width="16.5" height="16.5" fill="#fbb06c"/><rect x="1504" y="384" width="16.5" height="16.5" fill="#fbb06c"/><rect x="384" y="400" width="16.5" height="16.5" fill="#fbb06c"/><rect x="400" y="400" width="16.5" height="16.5" fill="#fbb06c"/><rect x="416" y="400" width="16.5" height="16.5" fill="#fbb06c"/><rect x="432" y="400" width="16.5" height="16.5" fill="#fb9a60"/><rect x="448" y="400" width="16.5" height="16.5" fill="#fb9a60"/><rect x="464" y="400" width="16.5" height="16.5" fill="#fbb06c"/><rect x="480" y="400" width="16.5" height="16.5" fill="#e1ebf5"/><rect x="496" y="400" width="16.5" height="16.5" fill="#fef3dd"/><rect x="512" y="400" width="16.5" height="16.5" fill="#ffffff"/><rect x="528" y="400" width="16.5" height="16.5" fill="#ffffff"/><rect x="544" y="400" width="16.5" height="16.5" fill="#e1ebf5"/><rect x="560" y="400" width="16.5" height="16.5" fill="#e1ebf5"/><rect x="576" y="400" width="16.5" height="16.5" fill="#e1ebf5"/><rect x="592" y="400" width="16.5" height="16.5" fill="#e1ebf5"/><rect x="608" y="400" width="16.5" height="16.5" fill="#ffffff"/><rect x="624" y="400" width="16.5" height="16.5" fill="#ffffff"/><rect x="640" y="400" width="16.5" height="16.5" fill="#ffffff"/><rect x="656" y="400" width="16.5" height="16.5" fill="#a3cbe8"/><rect x="672" y="400" width="16.5" height="16.5" fill="#6db5e0"/><rect x="688" y="400" width="16.5" height="16.5" fill="#a3cbe8"/><rect x="704" y="400" width="16.5" height="16.5" fill="#c9dcee"/><rect x="720" y="400" width="16.5" height="16.5" fill="#e1ebf5"/><rect x="736" y="400" width="16.5" height="16.5" fill="#c9dcee"/><rect x="752" y="400" width="16.5" height="16.5" fill="#a3cbe8"/><rect x="768" y="400" width="16.5" height="16.5" fill="#c9dcee"/><rect x="784" y="400" width="16.5" height="16.5" fill="#e1ebf5"/><rect x="800" y="400" width="16.5" height="16.5" fill="#e1ebf5"/><rect x="816" y="400" width="16.5" height="16.5" fill="#ffffff"/><rect x="832" y="400" width="16.5" height="16.5" fill="#ffffff"/><rect x="848" y="400" width="16.5" height="16.5" fill="#fef3dd"/><rect x="864" y="400" width="16.5" height="16.5" fill="#ffffff"/><rect x="880" y="400" width="16.5" height="16.5" fill="#ffffff"/><rect x="896" y="400" width="16.5" height="16.5" fill="#fef2da"/><rect x="912" y="400" width="16.5" height="16.5" fill="#fef2da"/><rect x="928" y="400" width="16.5" height="16.5" fill="#fef0d5"/><rect x="944" y="400" width="16.5" height="16.5" fill="#feeccb"/><rect x="960" y="400" width="16.5" height="16.5" fill="#fde7bc"/><rect x="976" y="400" width="16.5" height="16.5" fill="#fde3b2"/><rect x="992" y="400" width="16.5" height="16.5" fill="#fde1ad"/><rect x="1008" y="400" width="16.5" height="16.5" fill="#fddda5"/><rect x="1024" y="400" width="16.5" height="16.5" fill="#fdd898"/><rect x="1040" y="400" width="16.5" height="16.5" fill="#fdd591"/><rect x="1056" y="400" width="16.5" height="16.5" fill="#fdd591"/><rect x="1072" y="400" width="16.5" height="16.5" fill="#fdd591"/><rect x="1088" y="400" width="16.5" height="16.5" fill="#fdd591"/><rect x="1104" y="400" width="16.5" height="16.5" fill="#fdd591"/><rect x="1120" y="400" width="16.5" height="16.5" fill="#fdd591"/><rect x="1136" y="400" width="16.5" height="16.5" fill="#fdd591"/><rect x="1152" y="400" width="16.5" height="16.5" fill="#fdd591"/><rect x="1168" y="400" width="16.5" height="16.5" fill="#fdd591"/><rect x="1184" y="400" width="16.5" height="16.5" fill="#fdd591"/><rect x="1200" y="400" width="16.5" height="16.5" fill="#fdd591"/><rect x="1216" y="400" width="16.5" height="16.5" fill="#fdd591"/><rect x="1232" y="400" width="16.5" height="16.5" fill="#fdd591"/><rect x="1248" y="400" width="16.5" height="16.5" fill="#fdd591"/><rect x="1264" y="400" width="16.5" height="16.5" fill="#fdd693"/><rect x="1280" y="400" width="16.5" height="16.5" fill="#fdd898"/><rect x="1296" y="400" width="16.5" height="16.5" fill="#fdda9d"/><rect x="1312" y="400" width="16.5" height="16.5" fill="#fddba3"/><rect x="1328" y="400" width="16.5" height="16.5" fill="#fdd89e"/><rect x="1344" y="400" width="16.5" height="16.5" fill="#fdd08f"/><rect x="1360" y="400" width="16.5" height="16.5" fill="#fcc581"/><rect x="1376" y="400" width="16.5" height="16.5" fill="#fbb773"/><rect x="1392" y="400" width="16.5" height="16.5" fill="#fbb06c"/><rect x="1408" y="400" width="16.5" height="16.5" fill="#fbb06c"/><rect x="1424" y="400" width="16.5" height="16.5" fill="#fbb06c"/><rect x="1440" y="400" width="16.5" height="16.5" fill="#fbb06c"/><rect x="1456" y="400" width="16.5" height="16.5" fill="#fbb06c"/><rect x="1472" y="400" width="16.5" height="16.5" fill="#fbb06c"/><rect x="1488" y="400" width="16.5" height="16.5" fill="#fbb06c"/><rect x="384" y="416" width="16.5" height="16.5" fill="#fbb06c"/><rect x="400" y="416" width="16.5" height="16.5" fill="#fbb06c"/><rect x="416" y="416" width="16.5" height="16.5" fill="#fbb06c"/><rect x="432" y="416" width="16.5" height="16.5" fill="#fbb06c"/><rect x="448" y="416" width="16.5" height="16.5" fill="#f88558"/><rect x="464" y="416" width="16.5" height="16.5" fill="#fb9a60"/><rect x="480" y="416" width="16.5" height="16.5" fill="#fef3dd"/><rect x="496" y="416" width="16.5" height="16.5" fill="#ffffff"/><rect x="512" y="416" width="16.5" height="16.5" fill="#fef3dd"/><rect x="528" y="416" width="16.5" height="16.5" fill="#e1ebf5"/><rect x="544" y="416" width="16.5" height="16.5" fill="#c9dcee"/><rect x="560" y="416" width="16.5" height="16.5" fill="#e1ebf5"/><rect x="576" y="416" width="16.5" height="16.5" fill="#e1ebf5"/><rect x="592" y="416" width="16.5" height="16.5" fill="#e1ebf5"/><rect x="608" y="416" width="16.5" height="16.5" fill="#ffffff"/><rect x="624" y="416" width="16.5" height="16.5" fill="#ffffff"/><rect x="640" y="416" width="16.5" height="16.5" fill="#e1ebf5"/><rect x="656" y="416" width="16.5" height="16.5" fill="#c9dcee"/><rect x="672" y="416" width="16.5" height="16.5" fill="#e1ebf5"/><rect x="688" y="416" width="16.5" height="16.5" fill="#e1ebf5"/><rect x="704" y="416" width="16.5" height="16.5" fill="#c9dcee"/><rect x="720" y="416" width="16.5" height="16.5" fill="#c9dcee"/><rect x="736" y="416" width="16.5" height="16.5" fill="#c9dcee"/><rect x="752" y="416" width="16.5" height="16.5" fill="#a3cbe8"/><rect x="768" y="416" width="16.5" height="16.5" fill="#c9dcee"/><rect x="784" y="416" width="16.5" height="16.5" fill="#ffffff"/><rect x="800" y="416" width="16.5" height="16.5" fill="#ffffff"/><rect x="816" y="416" width="16.5" height="16.5" fill="#ffffff"/><rect x="832" y="416" width="16.5" height="16.5" fill="#ffffff"/><rect x="848" y="416" width="16.5" height="16.5" fill="#fef3dd"/><rect x="864" y="416" width="16.5" height="16.5" fill="#fde4b4"/><rect x="880" y="416" width="16.5" height="16.5" fill="#fde4b4"/><rect x="896" y="416" width="16.5" height="16.5" fill="#fef0d5"/><rect x="912" y="416" width="16.5" height="16.5" fill="#fef0d5"/><rect x="928" y="416" width="16.5" height="16.5" fill="#fdebc6"/><rect x="944" y="416" width="16.5" height="16.5" fill="#fde7bc"/><rect x="960" y="416" width="16.5" height="16.5" fill="#fde5b7"/><rect x="976" y="416" width="16.5" height="16.5" fill="#fde1ad"/><rect x="992" y="416" width="16.5" height="16.5" fill="#fddca0"/><rect x="1008" y="416" width="16.5" height="16.5" fill="#fdd898"/><rect x="1024" y="416" width="16.5" height="16.5" fill="#fdd693"/><rect x="1040" y="416" width="16.5" height="16.5" fill="#fdd591"/><rect x="1056" y="416" width="16.5" height="16.5" fill="#fdd591"/><rect x="1072" y="416" width="16.5" height="16.5" fill="#fdd591"/><rect x="1088" y="416" width="16.5" height="16.5" fill="#fdd591"/><rect x="1104" y="416" width="16.5" height="16.5" fill="#fdd591"/><rect x="1120" y="416" width="16.5" height="16.5" fill="#fdd591"/><rect x="1136" y="416" width="16.5" height="16.5" fill="#fdd591"/><rect x="1152" y="416" width="16.5" height="16.5" fill="#fdd591"/><rect x="1168" y="416" width="16.5" height="16.5" fill="#fdd591"/><rect x="1184" y="416" width="16.5" height="16.5" fill="#fdd591"/><rect x="1200" y="416" width="16.5" height="16.5" fill="#fdd591"/><rect x="1216" y="416" width="16.5" height="16.5" fill="#fdd591"/><rect x="1232" y="416" width="16.5" height="16.5" fill="#fdd591"/><rect x="1248" y="416" width="16.5" height="16.5" fill="#fdd591"/><rect x="1264" y="416" width="16.5" height="16.5" fill="#fdd898"/><rect x="1280" y="416" width="16.5" height="16.5" fill="#fddda5"/><rect x="1296" y="416" width="16.5" height="16.5" fill="#fddba3"/><rect x="1312" y="416" width="16.5" height="16.5" fill="#fcd192"/><rect x="1328" y="416" width="16.5" height="16.5" fill="#fcc785"/><rect x="1344" y="416" width="16.5" height="16.5" fill="#fcbe7a"/><rect x="1360" y="416" width="16.5" height="16.5" fill="#fbb773"/><rect x="1376" y="416" width="16.5" height="16.5" fill="#fbb26e"/><rect x="1392" y="416" width="16.5" height="16.5" fill="#fbb06c"/><rect x="1408" y="416" width="16.5" height="16.5" fill="#fbb06c"/><rect x="1424" y="416" width="16.5" height="16.5" fill="#fbb06c"/><rect x="1440" y="416" width="16.5" height="16.5" fill="#fbb06c"/><rect x="1456" y="416" width="16.5" height="16.5" fill="#fbb06c"/><rect x="1472" y="416" width="16.5" height="16.5" fill="#fbb06c"/><rect x="384" y="432" width="16.5" height="16.5" fill="#fbb06c"/><rect x="400" y="432" width="16.5" height="16.5" fill="#fbb06c"/><rect x="416" y="432" width="16.5" height="16.5" fill="#fbb06c"/><rect x="432" y="432" width="16.5" height="16.5" fill="#fbb06c"/><rect x="448" y="432" width="16.5" height="16.5" fill="#f88558"/><rect x="464" y="432" width="16.5" height="16.5" fill="#fb9a60"/><rect x="480" y="432" width="16.5" height="16.5" fill="#ffffff"/><rect x="496" y="432" width="16.5" height="16.5" fill="#ffffff"/><rect x="512" y="432" width="16.5" height="16.5" fill="#fde4b4"/><rect x="528" y="432" width="16.5" height="16.5" fill="#fef3dd"/><rect x="544" y="432" width="16.5" height="16.5" fill="#e1ebf5"/><rect x="560" y="432" width="16.5" height="16.5" fill="#ffffff"/><rect x="576" y="432" width="16.5" height="16.5" fill="#e1ebf5"/><rect x="592" y="432" width="16.5" height="16.5" fill="#e1ebf5"/><rect x="608" y="432" width="16.5" height="16.5" fill="#ffffff"/><rect x="624" y="432" width="16.5" height="16.5" fill="#ffffff"/><rect x="640" y="432" width="16.5" height="16.5" fill="#e1ebf5"/><rect x="656" y="432" width="16.5" height="16.5" fill="#c9dcee"/><rect x="672" y="432" width="16.5" height="16.5" fill="#e1ebf5"/><rect x="688" y="432" width="16.5" height="16.5" fill="#c9dcee"/><rect x="704" y="432" width="16.5" height="16.5" fill="#e1ebf5"/><rect x="720" y="432" width="16.5" height="16.5" fill="#ffffff"/><rect x="736" y="432" width="16.5" height="16.5" fill="#c9dcee"/><rect x="752" y="432" width="16.5" height="16.5" fill="#a3cbe8"/><rect x="768" y="432" width="16.5" height="16.5" fill="#c9dcee"/><rect x="784" y="432" width="16.5" height="16.5" fill="#ffffff"/><rect x="800" y="432" width="16.5" height="16.5" fill="#ffffff"/><rect x="816" y="432" width="16.5" height="16.5" fill="#ffffff"/><rect x="832" y="432" width="16.5" height="16.5" fill="#fef3dd"/><rect x="848" y="432" width="16.5" height="16.5" fill="#fde4b4"/><rect x="864" y="432" width="16.5" height="16.5" fill="#fdd591"/><rect x="880" y="432" width="16.5" height="16.5" fill="#fdd591"/><rect x="896" y="432" width="16.5" height="16.5" fill="#fee9c2"/><rect x="912" y="432" width="16.5" height="16.5" fill="#fee9c2"/><rect x="928" y="432" width="16.5" height="16.5" fill="#fde3b3"/><rect x="944" y="432" width="16.5" height="16.5" fill="#fde0ab"/><rect x="960" y="432" width="16.5" height="16.5" fill="#fde0ab"/><rect x="976" y="432" width="16.5" height="16.5" fill="#fddda5"/><rect x="992" y="432" width="16.5" height="16.5" fill="#fdd898"/><rect x="1008" y="432" width="16.5" height="16.5" fill="#fdd591"/><rect x="1024" y="432" width="16.5" height="16.5" fill="#fdd591"/><rect x="1040" y="432" width="16.5" height="16.5" fill="#fdd591"/><rect x="1056" y="432" width="16.5" height="16.5" fill="#fdd591"/><rect x="1072" y="432" width="16.5" height="16.5" fill="#fdd591"/><rect x="1088" y="432" width="16.5" height="16.5" fill="#fdd591"/><rect x="1104" y="432" width="16.5" height="16.5" fill="#fdd591"/><rect x="1120" y="432" width="16.5" height="16.5" fill="#fdd591"/><rect x="1136" y="432" width="16.5" height="16.5" fill="#fdd591"/><rect x="1152" y="432" width="16.5" height="16.5" fill="#fdd591"/><rect x="1168" y="432" width="16.5" height="16.5" fill="#fdd591"/><rect x="1184" y="432" width="16.5" height="16.5" fill="#fdd591"/><rect x="1200" y="432" width="16.5" height="16.5" fill="#fdd591"/><rect x="1216" y="432" width="16.5" height="16.5" fill="#fdd591"/><rect x="1232" y="432" width="16.5" height="16.5" fill="#fdd591"/><rect x="1248" y="432" width="16.5" height="16.5" fill="#fdd591"/><rect x="1264" y="432" width="16.5" height="16.5" fill="#fdd99a"/><rect x="1280" y="432" width="16.5" height="16.5" fill="#fde0ab"/><rect x="1296" y="432" width="16.5" height="16.5" fill="#fddca6"/><rect x="1312" y="432" width="16.5" height="16.5" fill="#fccc8a"/><rect x="1328" y="432" width="16.5" height="16.5" fill="#fcbf78"/><rect x="1344" y="432" width="16.5" height="16.5" fill="#fbb570"/><rect x="1360" y="432" width="16.5" height="16.5" fill="#fbb06c"/><rect x="1376" y="432" width="16.5" height="16.5" fill="#fbb06c"/><rect x="1392" y="432" width="16.5" height="16.5" fill="#fbb06c"/><rect x="1408" y="432" width="16.5" height="16.5" fill="#fbb06c"/><rect x="1424" y="432" width="16.5" height="16.5" fill="#fbb06c"/><rect x="1440" y="432" width="16.5" height="16.5" fill="#fbb06c"/><rect x="384" y="448" width="16.5" height="16.5" fill="#fbb06c"/><rect x="400" y="448" width="16.5" height="16.5" fill="#fbb06c"/><rect x="416" y="448" width="16.5" height="16.5" fill="#fbb06c"/><rect x="432" y="448" width="16.5" height="16.5" fill="#fbb06c"/><rect x="448" y="448" width="16.5" height="16.5" fill="#fb9a60"/><rect x="464" y="448" width="16.5" height="16.5" fill="#f88558"/><rect x="480" y="448" width="16.5" height="16.5" fill="#fde4b4"/><rect x="496" y="448" width="16.5" height="16.5" fill="#c9dcee"/><rect x="512" y="448" width="16.5" height="16.5" fill="#fef3dd"/><rect x="528" y="448" width="16.5" height="16.5" fill="#fde4b4"/><rect x="544" y="448" width="16.5" height="16.5" fill="#fef3dd"/><rect x="560" y="448" width="16.5" height="16.5" fill="#fef3dd"/><rect x="576" y="448" width="16.5" height="16.5" fill="#fef3dd"/><rect x="592" y="448" width="16.5" height="16.5" fill="#e1ebf5"/><rect x="608" y="448" width="16.5" height="16.5" fill="#ffffff"/><rect x="624" y="448" width="16.5" height="16.5" fill="#e1ebf5"/><rect x="640" y="448" width="16.5" height="16.5" fill="#c9dcee"/><rect x="656" y="448" width="16.5" height="16.5" fill="#fef3dd"/><rect x="672" y="448" width="16.5" height="16.5" fill="#fdd591"/><rect x="688" y="448" width="16.5" height="16.5" fill="#fde4b4"/><rect x="704" y="448" width="16.5" height="16.5" fill="#fef3dd"/><rect x="720" y="448" width="16.5" height="16.5" fill="#e1ebf5"/><rect x="736" y="448" width="16.5" height="16.5" fill="#c9dcee"/><rect x="752" y="448" width="16.5" height="16.5" fill="#a3cbe8"/><rect x="768" y="448" width="16.5" height="16.5" fill="#c9dcee"/><rect x="784" y="448" width="16.5" height="16.5" fill="#ffffff"/><rect x="800" y="448" width="16.5" height="16.5" fill="#ffffff"/><rect x="816" y="448" width="16.5" height="16.5" fill="#ffffff"/><rect x="832" y="448" width="16.5" height="16.5" fill="#fde4b4"/><rect x="848" y="448" width="16.5" height="16.5" fill="#fdd591"/><rect x="864" y="448" width="16.5" height="16.5" fill="#fdd591"/><rect x="880" y="448" width="16.5" height="16.5" fill="#fdd591"/><rect x="896" y="448" width="16.5" height="16.5" fill="#fddca1"/><rect x="912" y="448" width="16.5" height="16.5" fill="#fddca1"/><rect x="928" y="448" width="16.5" height="16.5" fill="#fdda9c"/><rect x="944" y="448" width="16.5" height="16.5" fill="#fdd99a"/><rect x="960" y="448" width="16.5" height="16.5" fill="#fdd99a"/><rect x="976" y="448" width="16.5" height="16.5" fill="#fdd898"/><rect x="992" y="448" width="16.5" height="16.5" fill="#fdd693"/><rect x="1008" y="448" width="16.5" height="16.5" fill="#fdd591"/><rect x="1024" y="448" width="16.5" height="16.5" fill="#fdd591"/><rect x="1040" y="448" width="16.5" height="16.5" fill="#fdd591"/><rect x="1056" y="448" width="16.5" height="16.5" fill="#fdd591"/><rect x="1072" y="448" width="16.5" height="16.5" fill="#fdd591"/><rect x="1088" y="448" width="16.5" height="16.5" fill="#fdd591"/><rect x="1104" y="448" width="16.5" height="16.5" fill="#fdd591"/><rect x="1120" y="448" width="16.5" height="16.5" fill="#fdd591"/><rect x="1136" y="448" width="16.5" height="16.5" fill="#fdd591"/><rect x="1152" y="448" width="16.5" height="16.5" fill="#fdd591"/><rect x="1168" y="448" width="16.5" height="16.5" fill="#fdd591"/><rect x="1184" y="448" width="16.5" height="16.5" fill="#fdd591"/><rect x="1200" y="448" width="16.5" height="16.5" fill="#fdd591"/><rect x="1216" y="448" width="16.5" height="16.5" fill="#fdd591"/><rect x="1232" y="448" width="16.5" height="16.5" fill="#fdd591"/><rect x="1248" y="448" width="16.5" height="16.5" fill="#fdd591"/><rect x="1264" y="448" width="16.5" height="16.5" fill="#fdd99a"/><rect x="1280" y="448" width="16.5" height="16.5" fill="#fde0ab"/><rect x="1296" y="448" width="16.5" height="16.5" fill="#fddca6"/><rect x="1312" y="448" width="16.5" height="16.5" fill="#fccc8a"/><rect x="1328" y="448" width="16.5" height="16.5" fill="#fcbf78"/><rect x="1344" y="448" width="16.5" height="16.5" fill="#fbb570"/><rect x="1360" y="448" width="16.5" height="16.5" fill="#fbb06c"/><rect x="1376" y="448" width="16.5" height="16.5" fill="#fbb06c"/><rect x="1392" y="448" width="16.5" height="16.5" fill="#fbb06c"/><rect x="1408" y="448" width="16.5" height="16.5" fill="#fbb06c"/><rect x="1424" y="448" width="16.5" height="16.5" fill="#fbb06c"/><rect x="1440" y="448" width="16.5" height="16.5" fill="#fbb06c"/><rect x="384" y="464" width="16.5" height="16.5" fill="#fbb06c"/><rect x="400" y="464" width="16.5" height="16.5" fill="#fbb06c"/><rect x="416" y="464" width="16.5" height="16.5" fill="#fbb06c"/><rect x="432" y="464" width="16.5" height="16.5" fill="#fbb06c"/><rect x="448" y="464" width="16.5" height="16.5" fill="#fbb06c"/><rect x="464" y="464" width="16.5" height="16.5" fill="#f88558"/><rect x="480" y="464" width="16.5" height="16.5" fill="#fbb06c"/><rect x="496" y="464" width="16.5" height="16.5" fill="#a3cbe8"/><rect x="512" y="464" width="16.5" height="16.5" fill="#fbb06c"/><rect x="528" y="464" width="16.5" height="16.5" fill="#fcc47c"/><rect x="544" y="464" width="16.5" height="16.5" fill="#fdd591"/><rect x="560" y="464" width="16.5" height="16.5" fill="#fde4b4"/><rect x="576" y="464" width="16.5" height="16.5" fill="#fde4b4"/><rect x="592" y="464" width="16.5" height="16.5" fill="#fef3dd"/><rect x="608" y="464" width="16.5" height="16.5" fill="#ffffff"/><rect x="624" y="464" width="16.5" height="16.5" fill="#c9dcee"/><rect x="640" y="464" width="16.5" height="16.5" fill="#c9dcee"/><rect x="656" y="464" width="16.5" height="16.5" fill="#fdd591"/><rect x="672" y="464" width="16.5" height="16.5" fill="#fdd591"/><rect x="688" y="464" width="16.5" height="16.5" fill="#fde4b4"/><rect x="704" y="464" width="16.5" height="16.5" fill="#fef3dd"/><rect x="720" y="464" width="16.5" height="16.5" fill="#ffffff"/><rect x="736" y="464" width="16.5" height="16.5" fill="#c9dcee"/><rect x="752" y="464" width="16.5" height="16.5" fill="#a3cbe8"/><rect x="768" y="464" width="16.5" height="16.5" fill="#c9dcee"/><rect x="784" y="464" width="16.5" height="16.5" fill="#fef3dd"/><rect x="800" y="464" width="16.5" height="16.5" fill="#fef3dd"/><rect x="816" y="464" width="16.5" height="16.5" fill="#fef3dd"/><rect x="832" y="464" width="16.5" height="16.5" fill="#fde4b4"/><rect x="848" y="464" width="16.5" height="16.5" fill="#fdd591"/><rect x="864" y="464" width="16.5" height="16.5" fill="#fdd591"/><rect x="880" y="464" width="16.5" height="16.5" fill="#fcc47c"/><rect x="896" y="464" width="16.5" height="16.5" fill="#fdd28d"/><rect x="912" y="464" width="16.5" height="16.5" fill="#fdd18c"/><rect x="928" y="464" width="16.5" height="16.5" fill="#fdd18c"/><rect x="944" y="464" width="16.5" height="16.5" fill="#fdd18c"/><rect x="960" y="464" width="16.5" height="16.5" fill="#fdd18c"/><rect x="976" y="464" width="16.5" height="16.5" fill="#fdd18c"/><rect x="992" y="464" width="16.5" height="16.5" fill="#fdd18c"/><rect x="1008" y="464" width="16.5" height="16.5" fill="#fdd18c"/><rect x="1024" y="464" width="16.5" height="16.5" fill="#fdd18c"/><rect x="1040" y="464" width="16.5" height="16.5" fill="#fdd18c"/><rect x="1056" y="464" width="16.5" height="16.5" fill="#fdd18c"/><rect x="1072" y="464" width="16.5" height="16.5" fill="#fdd18c"/><rect x="1088" y="464" width="16.5" height="16.5" fill="#fdd18c"/><rect x="1104" y="464" width="16.5" height="16.5" fill="#fdd18c"/><rect x="1120" y="464" width="16.5" height="16.5" fill="#fdd18c"/><rect x="1136" y="464" width="16.5" height="16.5" fill="#fdd28d"/><rect x="1152" y="464" width="16.5" height="16.5" fill="#fdd490"/><rect x="1168" y="464" width="16.5" height="16.5" fill="#fdd591"/><rect x="1184" y="464" width="16.5" height="16.5" fill="#fdd591"/><rect x="1200" y="464" width="16.5" height="16.5" fill="#fdd591"/><rect x="1216" y="464" width="16.5" height="16.5" fill="#fdd591"/><rect x="1232" y="464" width="16.5" height="16.5" fill="#fdd693"/><rect x="1248" y="464" width="16.5" height="16.5" fill="#fdd898"/><rect x="1264" y="464" width="16.5" height="16.5" fill="#fddca0"/><rect x="1280" y="464" width="16.5" height="16.5" fill="#fde1ad"/><rect x="1296" y="464" width="16.5" height="16.5" fill="#fddca6"/><rect x="1312" y="464" width="16.5" height="16.5" fill="#fccc8a"/><rect x="1328" y="464" width="16.5" height="16.5" fill="#fcbf78"/><rect x="1344" y="464" width="16.5" height="16.5" fill="#fbb570"/><rect x="1360" y="464" width="16.5" height="16.5" fill="#fbaf6b"/><rect x="1376" y="464" width="16.5" height="16.5" fill="#fbac6a"/><rect x="1392" y="464" width="16.5" height="16.5" fill="#fbaa69"/><rect x="1408" y="464" width="16.5" height="16.5" fill="#fbaa69"/><rect x="1424" y="464" width="16.5" height="16.5" fill="#fbaa69"/><rect x="1440" y="464" width="16.5" height="16.5" fill="#fbaa69"/><rect x="384" y="480" width="16.5" height="16.5" fill="#fbb06c"/><rect x="400" y="480" width="16.5" height="16.5" fill="#fbb06c"/><rect x="416" y="480" width="16.5" height="16.5" fill="#fbb06c"/><rect x="432" y="480" width="16.5" height="16.5" fill="#fbb06c"/><rect x="448" y="480" width="16.5" height="16.5" fill="#fbb06c"/><rect x="464" y="480" width="16.5" height="16.5" fill="#f88558"/><rect x="480" y="480" width="16.5" height="16.5" fill="#fb9a60"/><rect x="496" y="480" width="16.5" height="16.5" fill="#fef3dd"/><rect x="512" y="480" width="16.5" height="16.5" fill="#f88558"/><rect x="528" y="480" width="16.5" height="16.5" fill="#f07050"/><rect x="544" y="480" width="16.5" height="16.5" fill="#fbb06c"/><rect x="560" y="480" width="16.5" height="16.5" fill="#fcc47c"/><rect x="576" y="480" width="16.5" height="16.5" fill="#fb9a60"/><rect x="592" y="480" width="16.5" height="16.5" fill="#fcc47c"/><rect x="608" y="480" width="16.5" height="16.5" fill="#fde4b4"/><rect x="624" y="480" width="16.5" height="16.5" fill="#fef3dd"/><rect x="640" y="480" width="16.5" height="16.5" fill="#fde4b4"/><rect x="656" y="480" width="16.5" height="16.5" fill="#fcc47c"/><rect x="672" y="480" width="16.5" height="16.5" fill="#fde4b4"/><rect x="688" y="480" width="16.5" height="16.5" fill="#fde4b4"/><rect x="704" y="480" width="16.5" height="16.5" fill="#e1ebf5"/><rect x="720" y="480" width="16.5" height="16.5" fill="#c9dcee"/><rect x="736" y="480" width="16.5" height="16.5" fill="#c9dcee"/><rect x="752" y="480" width="16.5" height="16.5" fill="#c9dcee"/><rect x="768" y="480" width="16.5" height="16.5" fill="#c9dcee"/><rect x="784" y="480" width="16.5" height="16.5" fill="#fde4b4"/><rect x="800" y="480" width="16.5" height="16.5" fill="#fde4b4"/><rect x="816" y="480" width="16.5" height="16.5" fill="#fdd591"/><rect x="832" y="480" width="16.5" height="16.5" fill="#fde4b4"/><rect x="848" y="480" width="16.5" height="16.5" fill="#fdd591"/><rect x="864" y="480" width="16.5" height="16.5" fill="#fcc47c"/><rect x="880" y="480" width="16.5" height="16.5" fill="#fcc47c"/><rect x="896" y="480" width="16.5" height="16.5" fill="#fccb85"/><rect x="912" y="480" width="16.5" height="16.5" fill="#fcc881"/><rect x="928" y="480" width="16.5" height="16.5" fill="#fcc881"/><rect x="944" y="480" width="16.5" height="16.5" fill="#fcc881"/><rect x="960" y="480" width="16.5" height="16.5" fill="#fcc881"/><rect x="976" y="480" width="16.5" height="16.5" fill="#fcc881"/><rect x="992" y="480" width="16.5" height="16.5" fill="#fcc881"/><rect x="1008" y="480" width="16.5" height="16.5" fill="#fcc881"/><rect x="1024" y="480" width="16.5" height="16.5" fill="#fcc881"/><rect x="1040" y="480" width="16.5" height="16.5" fill="#fcc881"/><rect x="1056" y="480" width="16.5" height="16.5" fill="#fcc881"/><rect x="1072" y="480" width="16.5" height="16.5" fill="#fcc881"/><rect x="1088" y="480" width="16.5" height="16.5" fill="#fcc881"/><rect x="1104" y="480" width="16.5" height="16.5" fill="#fcc881"/><rect x="1120" y="480" width="16.5" height="16.5" fill="#fcc881"/><rect x="1136" y="480" width="16.5" height="16.5" fill="#fccb85"/><rect x="1152" y="480" width="16.5" height="16.5" fill="#fdd28d"/><rect x="1168" y="480" width="16.5" height="16.5" fill="#fdd591"/><rect x="1184" y="480" width="16.5" height="16.5" fill="#fdd591"/><rect x="1200" y="480" width="16.5" height="16.5" fill="#fdd591"/><rect x="1216" y="480" width="16.5" height="16.5" fill="#fdd591"/><rect x="1232" y="480" width="16.5" height="16.5" fill="#fdd898"/><rect x="1248" y="480" width="16.5" height="16.5" fill="#fddda5"/><rect x="1264" y="480" width="16.5" height="16.5" fill="#fde1ad"/><rect x="1280" y="480" width="16.5" height="16.5" fill="#fde3b2"/><rect x="1296" y="480" width="16.5" height="16.5" fill="#fddca6"/><rect x="1312" y="480" width="16.5" height="16.5" fill="#fccc8a"/><rect x="1328" y="480" width="16.5" height="16.5" fill="#fcbf78"/><rect x="1344" y="480" width="16.5" height="16.5" fill="#fbb570"/><rect x="1360" y="480" width="16.5" height="16.5" fill="#fbac6a"/><rect x="1376" y="480" width="16.5" height="16.5" fill="#fba465"/><rect x="1392" y="480" width="16.5" height="16.5" fill="#fba063"/><rect x="1408" y="480" width="16.5" height="16.5" fill="#fba063"/><rect x="1424" y="480" width="16.5" height="16.5" fill="#fba063"/><rect x="1440" y="480" width="16.5" height="16.5" fill="#fba063"/><rect x="384" y="496" width="16.5" height="16.5" fill="#fb9a60"/><rect x="400" y="496" width="16.5" height="16.5" fill="#fb9a60"/><rect x="416" y="496" width="16.5" height="16.5" fill="#fb9a60"/><rect x="432" y="496" width="16.5" height="16.5" fill="#fb9a60"/><rect x="448" y="496" width="16.5" height="16.5" fill="#fb9a60"/><rect x="464" y="496" width="16.5" height="16.5" fill="#f88558"/><rect x="480" y="496" width="16.5" height="16.5" fill="#fb9a60"/><rect x="496" y="496" width="16.5" height="16.5" fill="#fdd591"/><rect x="512" y="496" width="16.5" height="16.5" fill="#f88558"/><rect x="528" y="496" width="16.5" height="16.5" fill="#f07050"/><rect x="544" y="496" width="16.5" height="16.5" fill="#fbb06c"/><rect x="560" y="496" width="16.5" height="16.5" fill="#f88558"/><rect x="576" y="496" width="16.5" height="16.5" fill="#f07050"/><rect x="592" y="496" width="16.5" height="16.5" fill="#fbb06c"/><rect x="608" y="496" width="16.5" height="16.5" fill="#fdd591"/><rect x="624" y="496" width="16.5" height="16.5" fill="#fef3dd"/><rect x="640" y="496" width="16.5" height="16.5" fill="#fcc47c"/><rect x="656" y="496" width="16.5" height="16.5" fill="#fcc47c"/><rect x="672" y="496" width="16.5" height="16.5" fill="#fdd591"/><rect x="688" y="496" width="16.5" height="16.5" fill="#fde4b4"/><rect x="704" y="496" width="16.5" height="16.5" fill="#fef3dd"/><rect x="720" y="496" width="16.5" height="16.5" fill="#e1ebf5"/><rect x="736" y="496" width="16.5" height="16.5" fill="#c9dcee"/><rect x="752" y="496" width="16.5" height="16.5" fill="#e1ebf5"/><rect x="768" y="496" width="16.5" height="16.5" fill="#e1ebf5"/><rect x="784" y="496" width="16.5" height="16.5" fill="#fde4b4"/><rect x="800" y="496" width="16.5" height="16.5" fill="#fdd591"/><rect x="816" y="496" width="16.5" height="16.5" fill="#fdd591"/><rect x="832" y="496" width="16.5" height="16.5" fill="#fdd591"/><rect x="848" y="496" width="16.5" height="16.5" fill="#fcc47c"/><rect x="864" y="496" width="16.5" height="16.5" fill="#fcc47c"/><rect x="880" y="496" width="16.5" height="16.5" fill="#fcc47c"/><rect x="896" y="496" width="16.5" height="16.5" fill="#fcc780"/><rect x="912" y="496" width="16.5" height="16.5" fill="#fcc37b"/><rect x="928" y="496" width="16.5" height="16.5" fill="#fcc079"/><rect x="944" y="496" width="16.5" height="16.5" fill="#fcc079"/><rect x="960" y="496" width="16.5" height="16.5" fill="#fcc37b"/><rect x="976" y="496" width="16.5" height="16.5" fill="#fcc47c"/><rect x="992" y="496" width="16.5" height="16.5" fill="#fcc47c"/><rect x="1008" y="496" width="16.5" height="16.5" fill="#fcc47c"/><rect x="1024" y="496" width="16.5" height="16.5" fill="#fcc47c"/><rect x="1040" y="496" width="16.5" height="16.5" fill="#fcc47c"/><rect x="1056" y="496" width="16.5" height="16.5" fill="#fcc47c"/><rect x="1072" y="496" width="16.5" height="16.5" fill="#fcc47c"/><rect x="1088" y="496" width="16.5" height="16.5" fill="#fcc47c"/><rect x="1104" y="496" width="16.5" height="16.5" fill="#fcc47c"/><rect x="1120" y="496" width="16.5" height="16.5" fill="#fcc47c"/><rect x="1136" y="496" width="16.5" height="16.5" fill="#fcc780"/><rect x="1152" y="496" width="16.5" height="16.5" fill="#fdce88"/><rect x="1168" y="496" width="16.5" height="16.5" fill="#fdd28d"/><rect x="1184" y="496" width="16.5" height="16.5" fill="#fdd490"/><rect x="1200" y="496" width="16.5" height="16.5" fill="#fdd591"/><rect x="1216" y="496" width="16.5" height="16.5" fill="#fdd591"/><rect x="1232" y="496" width="16.5" height="16.5" fill="#fdd99a"/><rect x="1248" y="496" width="16.5" height="16.5" fill="#fde0ab"/><rect x="1264" y="496" width="16.5" height="16.5" fill="#fde2b0"/><rect x="1280" y="496" width="16.5" height="16.5" fill="#fddeaa"/><rect x="1296" y="496" width="16.5" height="16.5" fill="#fcd59a"/><rect x="1312" y="496" width="16.5" height="16.5" fill="#fcc684"/><rect x="1328" y="496" width="16.5" height="16.5" fill="#fcba74"/><rect x="1344" y="496" width="16.5" height="16.5" fill="#fbb06d"/><rect x="1360" y="496" width="16.5" height="16.5" fill="#fba566"/><rect x="1376" y="496" width="16.5" height="16.5" fill="#fa9a61"/><rect x="1392" y="496" width="16.5" height="16.5" fill="#fa955e"/><rect x="1408" y="496" width="16.5" height="16.5" fill="#fa955e"/><rect x="1424" y="496" width="16.5" height="16.5" fill="#fa955e"/><rect x="1440" y="496" width="16.5" height="16.5" fill="#fa955e"/><rect x="384" y="512" width="16.5" height="16.5" fill="#fb9a60"/><rect x="400" y="512" width="16.5" height="16.5" fill="#fb9a60"/><rect x="416" y="512" width="16.5" height="16.5" fill="#fb9a60"/><rect x="432" y="512" width="16.5" height="16.5" fill="#fb9a60"/><rect x="448" y="512" width="16.5" height="16.5" fill="#fbb06c"/><rect x="464" y="512" width="16.5" height="16.5" fill="#fbb06c"/><rect x="480" y="512" width="16.5" height="16.5" fill="#fb9a60"/><rect x="496" y="512" width="16.5" height="16.5" fill="#f88558"/><rect x="512" y="512" width="16.5" height="16.5" fill="#f07050"/><rect x="528" y="512" width="16.5" height="16.5" fill="#e65a45"/><rect x="544" y="512" width="16.5" height="16.5" fill="#f07050"/><rect x="560" y="512" width="16.5" height="16.5" fill="#f88558"/><rect x="576" y="512" width="16.5" height="16.5" fill="#f07050"/><rect x="592" y="512" width="16.5" height="16.5" fill="#fcc47c"/><rect x="608" y="512" width="16.5" height="16.5" fill="#fdd591"/><rect x="624" y="512" width="16.5" height="16.5" fill="#fde4b4"/><rect x="640" y="512" width="16.5" height="16.5" fill="#fbb06c"/><rect x="656" y="512" width="16.5" height="16.5" fill="#fdd591"/><rect x="672" y="512" width="16.5" height="16.5" fill="#fdd591"/><rect x="688" y="512" width="16.5" height="16.5" fill="#fde4b4"/><rect x="704" y="512" width="16.5" height="16.5" fill="#fde4b4"/><rect x="720" y="512" width="16.5" height="16.5" fill="#fef3dd"/><rect x="736" y="512" width="16.5" height="16.5" fill="#e1ebf5"/><rect x="752" y="512" width="16.5" height="16.5" fill="#ffffff"/><rect x="768" y="512" width="16.5" height="16.5" fill="#e1ebf5"/><rect x="784" y="512" width="16.5" height="16.5" fill="#fef3dd"/><rect x="800" y="512" width="16.5" height="16.5" fill="#fef3dd"/><rect x="816" y="512" width="16.5" height="16.5" fill="#fde4b4"/><rect x="832" y="512" width="16.5" height="16.5" fill="#fcc47c"/><rect x="848" y="512" width="16.5" height="16.5" fill="#fcc47c"/><rect x="864" y="512" width="16.5" height="16.5" fill="#fcc47c"/><rect x="880" y="512" width="16.5" height="16.5" fill="#fcc47c"/><rect x="896" y="512" width="16.5" height="16.5" fill="#fcc57d"/><rect x="912" y="512" width="16.5" height="16.5" fill="#fcc079"/><rect x="928" y="512" width="16.5" height="16.5" fill="#fbb973"/><rect x="944" y="512" width="16.5" height="16.5" fill="#fbb973"/><rect x="960" y="512" width="16.5" height="16.5" fill="#fcc079"/><rect x="976" y="512" width="16.5" height="16.5" fill="#fcc47c"/><rect x="992" y="512" width="16.5" height="16.5" fill="#fcc47c"/><rect x="1008" y="512" width="16.5" height="16.5" fill="#fcc47c"/><rect x="1024" y="512" width="16.5" height="16.5" fill="#fcc47c"/><rect x="1040" y="512" width="16.5" height="16.5" fill="#fcc47c"/><rect x="1056" y="512" width="16.5" height="16.5" fill="#fcc47c"/><rect x="1072" y="512" width="16.5" height="16.5" fill="#fcc47c"/><rect x="1088" y="512" width="16.5" height="16.5" fill="#fcc47c"/><rect x="1104" y="512" width="16.5" height="16.5" fill="#fcc47c"/><rect x="1120" y="512" width="16.5" height="16.5" fill="#fcc47c"/><rect x="1136" y="512" width="16.5" height="16.5" fill="#fcc57d"/><rect x="1152" y="512" width="16.5" height="16.5" fill="#fcc780"/><rect x="1168" y="512" width="16.5" height="16.5" fill="#fccb85"/><rect x="1184" y="512" width="16.5" height="16.5" fill="#fdd28d"/><rect x="1200" y="512" width="16.5" height="16.5" fill="#fdd591"/><rect x="1216" y="512" width="16.5" height="16.5" fill="#fdd591"/><rect x="1232" y="512" width="16.5" height="16.5" fill="#fdd99a"/><rect x="1248" y="512" width="16.5" height="16.5" fill="#fde0ab"/><rect x="1264" y="512" width="16.5" height="16.5" fill="#fddeaa"/><rect x="1280" y="512" width="16.5" height="16.5" fill="#fcd294"/><rect x="1296" y="512" width="16.5" height="16.5" fill="#fcc684"/><rect x="1312" y="512" width="16.5" height="16.5" fill="#fcbb76"/><rect x="1328" y="512" width="16.5" height="16.5" fill="#fbb06d"/><rect x="1344" y="512" width="16.5" height="16.5" fill="#fba566"/><rect x="1360" y="512" width="16.5" height="16.5" fill="#fa9a61"/><rect x="1376" y="512" width="16.5" height="16.5" fill="#f9905c"/><rect x="1392" y="512" width="16.5" height="16.5" fill="#f98a5a"/><rect x="1408" y="512" width="16.5" height="16.5" fill="#f98a5a"/><rect x="1424" y="512" width="16.5" height="16.5" fill="#f98a5a"/><rect x="1440" y="512" width="16.5" height="16.5" fill="#f98a5a"/><rect x="400" y="528" width="16.5" height="16.5" fill="#fb9a60"/><rect x="416" y="528" width="16.5" height="16.5" fill="#f88558"/><rect x="432" y="528" width="16.5" height="16.5" fill="#f88558"/><rect x="448" y="528" width="16.5" height="16.5" fill="#f88558"/><rect x="464" y="528" width="16.5" height="16.5" fill="#fb9a60"/><rect x="480" y="528" width="16.5" height="16.5" fill="#f88558"/><rect x="496" y="528" width="16.5" height="16.5" fill="#fb9a60"/><rect x="512" y="528" width="16.5" height="16.5" fill="#f88558"/><rect x="528" y="528" width="16.5" height="16.5" fill="#f07050"/><rect x="544" y="528" width="16.5" height="16.5" fill="#e65a45"/><rect x="560" y="528" width="16.5" height="16.5" fill="#f88558"/><rect x="576" y="528" width="16.5" height="16.5" fill="#f07050"/><rect x="592" y="528" width="16.5" height="16.5" fill="#fcc47c"/><rect x="608" y="528" width="16.5" height="16.5" fill="#fdd591"/><rect x="624" y="528" width="16.5" height="16.5" fill="#fde4b4"/><rect x="640" y="528" width="16.5" height="16.5" fill="#fbb06c"/><rect x="656" y="528" width="16.5" height="16.5" fill="#fdd591"/><rect x="672" y="528" width="16.5" height="16.5" fill="#fde4b4"/><rect x="688" y="528" width="16.5" height="16.5" fill="#fef3dd"/><rect x="704" y="528" width="16.5" height="16.5" fill="#fde4b4"/><rect x="720" y="528" width="16.5" height="16.5" fill="#fef3dd"/><rect x="736" y="528" width="16.5" height="16.5" fill="#ffffff"/><rect x="752" y="528" width="16.5" height="16.5" fill="#fef3dd"/><rect x="768" y="528" width="16.5" height="16.5" fill="#e1ebf5"/><rect x="784" y="528" width="16.5" height="16.5" fill="#ffffff"/><rect x="800" y="528" width="16.5" height="16.5" fill="#fef3dd"/><rect x="816" y="528" width="16.5" height="16.5" fill="#fdd591"/><rect x="832" y="528" width="16.5" height="16.5" fill="#fcc47c"/><rect x="848" y="528" width="16.5" height="16.5" fill="#fcc47c"/><rect x="864" y="528" width="16.5" height="16.5" fill="#fbb06c"/><rect x="880" y="528" width="16.5" height="16.5" fill="#fbb06c"/><rect x="896" y="528" width="16.5" height="16.5" fill="#fcc079"/><rect x="912" y="528" width="16.5" height="16.5" fill="#fcbb75"/><rect x="928" y="528" width="16.5" height="16.5" fill="#fbb46f"/><rect x="944" y="528" width="16.5" height="16.5" fill="#fbb46f"/><rect x="960" y="528" width="16.5" height="16.5" fill="#fcbb75"/><rect x="976" y="528" width="16.5" height="16.5" fill="#fcc079"/><rect x="992" y="528" width="16.5" height="16.5" fill="#fcc37b"/><rect x="1008" y="528" width="16.5" height="16.5" fill="#fcc47c"/><rect x="1024" y="528" width="16.5" height="16.5" fill="#fcc47c"/><rect x="1040" y="528" width="16.5" height="16.5" fill="#fcc47c"/><rect x="1056" y="528" width="16.5" height="16.5" fill="#fcc47c"/><rect x="1072" y="528" width="16.5" height="16.5" fill="#fcc47c"/><rect x="1088" y="528" width="16.5" height="16.5" fill="#fcc47c"/><rect x="1104" y="528" width="16.5" height="16.5" fill="#fcc47c"/><rect x="1120" y="528" width="16.5" height="16.5" fill="#fcc47c"/><rect x="1136" y="528" width="16.5" height="16.5" fill="#fcc47c"/><rect x="1152" y="528" width="16.5" height="16.5" fill="#fcc47c"/><rect x="1168" y="528" width="16.5" height="16.5" fill="#fcc780"/><rect x="1184" y="528" width="16.5" height="16.5" fill="#fdce88"/><rect x="1200" y="528" width="16.5" height="16.5" fill="#fdd28d"/><rect x="1216" y="528" width="16.5" height="16.5" fill="#fdd490"/><rect x="1232" y="528" width="16.5" height="16.5" fill="#fdd695"/><rect x="1248" y="528" width="16.5" height="16.5" fill="#fdd69e"/><rect x="1264" y="528" width="16.5" height="16.5" fill="#fcd198"/><rect x="1280" y="528" width="16.5" height="16.5" fill="#fcc582"/><rect x="1296" y="528" width="16.5" height="16.5" fill="#fcba74"/><rect x="1312" y="528" width="16.5" height="16.5" fill="#fbb06d"/><rect x="1328" y="528" width="16.5" height="16.5" fill="#fba566"/><rect x="1344" y="528" width="16.5" height="16.5" fill="#fa9a61"/><rect x="1360" y="528" width="16.5" height="16.5" fill="#fa915c"/><rect x="1376" y="528" width="16.5" height="16.5" fill="#f9895a"/><rect x="1392" y="528" width="16.5" height="16.5" fill="#f88558"/><rect x="1408" y="528" width="16.5" height="16.5" fill="#f88558"/><rect x="1424" y="528" width="16.5" height="16.5" fill="#f88558"/><rect x="1440" y="528" width="16.5" height="16.5" fill="#f88558"/><rect x="400" y="544" width="16.5" height="16.5" fill="#f88558"/><rect x="416" y="544" width="16.5" height="16.5" fill="#f88558"/><rect x="432" y="544" width="16.5" height="16.5" fill="#f88558"/><rect x="448" y="544" width="16.5" height="16.5" fill="#f88558"/><rect x="464" y="544" width="16.5" height="16.5" fill="#f07050"/><rect x="480" y="544" width="16.5" height="16.5" fill="#f07050"/><rect x="496" y="544" width="16.5" height="16.5" fill="#fb9a60"/><rect x="512" y="544" width="16.5" height="16.5" fill="#fbb06c"/><rect x="528" y="544" width="16.5" height="16.5" fill="#e65a45"/><rect x="544" y="544" width="16.5" height="16.5" fill="#dc4238"/><rect x="560" y="544" width="16.5" height="16.5" fill="#e65a45"/><rect x="576" y="544" width="16.5" height="16.5" fill="#f07050"/><rect x="592" y="544" width="16.5" height="16.5" fill="#fbb06c"/><rect x="608" y="544" width="16.5" height="16.5" fill="#fcc47c"/><rect x="624" y="544" width="16.5" height="16.5" fill="#fde4b4"/><rect x="640" y="544" width="16.5" height="16.5" fill="#fcc47c"/><rect x="656" y="544" width="16.5" height="16.5" fill="#fdd591"/><rect x="672" y="544" width="16.5" height="16.5" fill="#fdd591"/><rect x="688" y="544" width="16.5" height="16.5" fill="#fde4b4"/><rect x="704" y="544" width="16.5" height="16.5" fill="#fdd591"/><rect x="720" y="544" width="16.5" height="16.5" fill="#fef3dd"/><rect x="736" y="544" width="16.5" height="16.5" fill="#fef3dd"/><rect x="752" y="544" width="16.5" height="16.5" fill="#fef3dd"/><rect x="768" y="544" width="16.5" height="16.5" fill="#fde4b4"/><rect x="784" y="544" width="16.5" height="16.5" fill="#fde4b4"/><rect x="800" y="544" width="16.5" height="16.5" fill="#fdd591"/><rect x="816" y="544" width="16.5" height="16.5" fill="#fcc47c"/><rect x="832" y="544" width="16.5" height="16.5" fill="#fcc47c"/><rect x="848" y="544" width="16.5" height="16.5" fill="#fbb06c"/><rect x="864" y="544" width="16.5" height="16.5" fill="#fbb06c"/><rect x="880" y="544" width="16.5" height="16.5" fill="#fbb06c"/><rect x="896" y="544" width="16.5" height="16.5" fill="#fbb973"/><rect x="912" y="544" width="16.5" height="16.5" fill="#fbb46f"/><rect x="928" y="544" width="16.5" height="16.5" fill="#fbb16d"/><rect x="944" y="544" width="16.5" height="16.5" fill="#fbb16d"/><rect x="960" y="544" width="16.5" height="16.5" fill="#fbb46f"/><rect x="976" y="544" width="16.5" height="16.5" fill="#fbb973"/><rect x="992" y="544" width="16.5" height="16.5" fill="#fcc079"/><rect x="1008" y="544" width="16.5" height="16.5" fill="#fcc47c"/><rect x="1024" y="544" width="16.5" height="16.5" fill="#fcc47c"/><rect x="1040" y="544" width="16.5" height="16.5" fill="#fcc47c"/><rect x="1056" y="544" width="16.5" height="16.5" fill="#fcc47c"/><rect x="1072" y="544" width="16.5" height="16.5" fill="#fcc47c"/><rect x="1088" y="544" width="16.5" height="16.5" fill="#fcc47c"/><rect x="1104" y="544" width="16.5" height="16.5" fill="#fcc47c"/><rect x="1120" y="544" width="16.5" height="16.5" fill="#fcc47c"/><rect x="1136" y="544" width="16.5" height="16.5" fill="#fcc47c"/><rect x="1152" y="544" width="16.5" height="16.5" fill="#fcc47c"/><rect x="1168" y="544" width="16.5" height="16.5" fill="#fcc57d"/><rect x="1184" y="544" width="16.5" height="16.5" fill="#fcc780"/><rect x="1200" y="544" width="16.5" height="16.5" fill="#fccb85"/><rect x="1216" y="544" width="16.5" height="16.5" fill="#fdd28d"/><rect x="1232" y="544" width="16.5" height="16.5" fill="#fdcf8c"/><rect x="1248" y="544" width="16.5" height="16.5" fill="#fcc383"/><rect x="1264" y="544" width="16.5" height="16.5" fill="#fbbb7a"/><rect x="1280" y="544" width="16.5" height="16.5" fill="#fbb774"/><rect x="1296" y="544" width="16.5" height="16.5" fill="#fbb06d"/><rect x="1312" y="544" width="16.5" height="16.5" fill="#fba566"/><rect x="1328" y="544" width="16.5" height="16.5" fill="#fa9a61"/><rect x="1344" y="544" width="16.5" height="16.5" fill="#f9905c"/><rect x="1360" y="544" width="16.5" height="16.5" fill="#f9895a"/><rect x="1376" y="544" width="16.5" height="16.5" fill="#f9895a"/><rect x="1392" y="544" width="16.5" height="16.5" fill="#f88558"/><rect x="1408" y="544" width="16.5" height="16.5" fill="#f88558"/><rect x="1424" y="544" width="16.5" height="16.5" fill="#f88558"/><rect x="1440" y="544" width="16.5" height="16.5" fill="#f88558"/><rect x="416" y="560" width="16.5" height="16.5" fill="#f88558"/><rect x="432" y="560" width="16.5" height="16.5" fill="#f88558"/><rect x="448" y="560" width="16.5" height="16.5" fill="#f07050"/><rect x="464" y="560" width="16.5" height="16.5" fill="#f07050"/><rect x="480" y="560" width="16.5" height="16.5" fill="#f07050"/><rect x="496" y="560" width="16.5" height="16.5" fill="#f88558"/><rect x="512" y="560" width="16.5" height="16.5" fill="#fbb06c"/><rect x="528" y="560" width="16.5" height="16.5" fill="#e65a45"/><rect x="544" y="560" width="16.5" height="16.5" fill="#e65a45"/><rect x="560" y="560" width="16.5" height="16.5" fill="#e65a45"/><rect x="576" y="560" width="16.5" height="16.5" fill="#f07050"/><rect x="592" y="560" width="16.5" height="16.5" fill="#f88558"/><rect x="608" y="560" width="16.5" height="16.5" fill="#fb9a60"/><rect x="624" y="560" width="16.5" height="16.5" fill="#fbb06c"/><rect x="640" y="560" width="16.5" height="16.5" fill="#fcc47c"/><rect x="656" y="560" width="16.5" height="16.5" fill="#fde4b4"/><rect x="672" y="560" width="16.5" height="16.5" fill="#fde4b4"/><rect x="688" y="560" width="16.5" height="16.5" fill="#fef3dd"/><rect x="704" y="560" width="16.5" height="16.5" fill="#fef3dd"/><rect x="720" y="560" width="16.5" height="16.5" fill="#fdd591"/><rect x="736" y="560" width="16.5" height="16.5" fill="#fdd591"/><rect x="752" y="560" width="16.5" height="16.5" fill="#fde4b4"/><rect x="768" y="560" width="16.5" height="16.5" fill="#fdd591"/><rect x="784" y="560" width="16.5" height="16.5" fill="#fdd591"/><rect x="800" y="560" width="16.5" height="16.5" fill="#fcc47c"/><rect x="816" y="560" width="16.5" height="16.5" fill="#fcc47c"/><rect x="832" y="560" width="16.5" height="16.5" fill="#fcc47c"/><rect x="848" y="560" width="16.5" height="16.5" fill="#fcc47c"/><rect x="864" y="560" width="16.5" height="16.5" fill="#fcc47c"/><rect x="880" y="560" width="16.5" height="16.5" fill="#fcc47c"/><rect x="896" y="560" width="16.5" height="16.5" fill="#fbb46f"/><rect x="912" y="560" width="16.5" height="16.5" fill="#fbb06c"/><rect x="928" y="560" width="16.5" height="16.5" fill="#fbb06c"/><rect x="944" y="560" width="16.5" height="16.5" fill="#fbb06c"/><rect x="960" y="560" width="16.5" height="16.5" fill="#fbb06c"/><rect x="976" y="560" width="16.5" height="16.5" fill="#fbb46f"/><rect x="992" y="560" width="16.5" height="16.5" fill="#fcbb75"/><rect x="1008" y="560" width="16.5" height="16.5" fill="#fcbf78"/><rect x="1024" y="560" width="16.5" height="16.5" fill="#fcbf78"/><rect x="1040" y="560" width="16.5" height="16.5" fill="#fcbe77"/><rect x="1056" y="560" width="16.5" height="16.5" fill="#fcbb76"/><rect x="1072" y="560" width="16.5" height="16.5" fill="#fcba75"/><rect x="1088" y="560" width="16.5" height="16.5" fill="#fcba75"/><rect x="1104" y="560" width="16.5" height="16.5" fill="#fcbb76"/><rect x="1120" y="560" width="16.5" height="16.5" fill="#fcbe77"/><rect x="1136" y="560" width="16.5" height="16.5" fill="#fcbf78"/><rect x="1152" y="560" width="16.5" height="16.5" fill="#fcbf78"/><rect x="1168" y="560" width="16.5" height="16.5" fill="#fcbf78"/><rect x="1184" y="560" width="16.5" height="16.5" fill="#fcbf78"/><rect x="1200" y="560" width="16.5" height="16.5" fill="#fcc27c"/><rect x="1216" y="560" width="16.5" height="16.5" fill="#fcc984"/><rect x="1232" y="560" width="16.5" height="16.5" fill="#fcc380"/><rect x="1248" y="560" width="16.5" height="16.5" fill="#fbb371"/><rect x="1264" y="560" width="16.5" height="16.5" fill="#fba968"/><rect x="1280" y="560" width="16.5" height="16.5" fill="#faa768"/><rect x="1296" y="560" width="16.5" height="16.5" fill="#faa165"/><rect x="1312" y="560" width="16.5" height="16.5" fill="#fa9960"/><rect x="1328" y="560" width="16.5" height="16.5" fill="#fa915c"/><rect x="1344" y="560" width="16.5" height="16.5" fill="#f9895a"/><rect x="1360" y="560" width="16.5" height="16.5" fill="#f88558"/><rect x="1376" y="560" width="16.5" height="16.5" fill="#f88558"/><rect x="1392" y="560" width="16.5" height="16.5" fill="#f88558"/><rect x="1408" y="560" width="16.5" height="16.5" fill="#f88558"/><rect x="1424" y="560" width="16.5" height="16.5" fill="#f88558"/><rect x="432" y="576" width="16.5" height="16.5" fill="#f07050"/><rect x="448" y="576" width="16.5" height="16.5" fill="#f07050"/><rect x="464" y="576" width="16.5" height="16.5" fill="#f07050"/><rect x="480" y="576" width="16.5" height="16.5" fill="#f88558"/><rect x="496" y="576" width="16.5" height="16.5" fill="#f88558"/><rect x="512" y="576" width="16.5" height="16.5" fill="#fbb06c"/><rect x="528" y="576" width="16.5" height="16.5" fill="#dc4238"/><rect x="544" y="576" width="16.5" height="16.5" fill="#e65a45"/><rect x="560" y="576" width="16.5" height="16.5" fill="#e65a45"/><rect x="576" y="576" width="16.5" height="16.5" fill="#e65a45"/><rect x="592" y="576" width="16.5" height="16.5" fill="#f07050"/><rect x="608" y="576" width="16.5" height="16.5" fill="#f07050"/><rect x="624" y="576" width="16.5" height="16.5" fill="#f88558"/><rect x="640" y="576" width="16.5" height="16.5" fill="#f88558"/><rect x="656" y="576" width="16.5" height="16.5" fill="#fcc47c"/><rect x="672" y="576" width="16.5" height="16.5" fill="#fef3dd"/><rect x="688" y="576" width="16.5" height="16.5" fill="#ffffff"/><rect x="704" y="576" width="16.5" height="16.5" fill="#fef3dd"/><rect x="720" y="576" width="16.5" height="16.5" fill="#fdd591"/><rect x="736" y="576" width="16.5" height="16.5" fill="#fcc47c"/><rect x="752" y="576" width="16.5" height="16.5" fill="#fdd591"/><rect x="768" y="576" width="16.5" height="16.5" fill="#fdd591"/><rect x="784" y="576" width="16.5" height="16.5" fill="#fdd591"/><rect x="800" y="576" width="16.5" height="16.5" fill="#fcc47c"/><rect x="816" y="576" width="16.5" height="16.5" fill="#fcc47c"/><rect x="832" y="576" width="16.5" height="16.5" fill="#fcc47c"/><rect x="848" y="576" width="16.5" height="16.5" fill="#fcc47c"/><rect x="864" y="576" width="16.5" height="16.5" fill="#fcc47c"/><rect x="880" y="576" width="16.5" height="16.5" fill="#fcc47c"/><rect x="896" y="576" width="16.5" height="16.5" fill="#fbb16d"/><rect x="912" y="576" width="16.5" height="16.5" fill="#fbb06c"/><rect x="928" y="576" width="16.5" height="16.5" fill="#fbb06c"/><rect x="944" y="576" width="16.5" height="16.5" fill="#fbb06c"/><rect x="960" y="576" width="16.5" height="16.5" fill="#fbb06c"/><rect x="976" y="576" width="16.5" height="16.5" fill="#fbb16d"/><rect x="992" y="576" width="16.5" height="16.5" fill="#fbb46f"/><rect x="1008" y="576" width="16.5" height="16.5" fill="#fbb570"/><rect x="1024" y="576" width="16.5" height="16.5" fill="#fbb570"/><rect x="1040" y="576" width="16.5" height="16.5" fill="#fbb16e"/><rect x="1056" y="576" width="16.5" height="16.5" fill="#fba969"/><rect x="1072" y="576" width="16.5" height="16.5" fill="#fba467"/><rect x="1088" y="576" width="16.5" height="16.5" fill="#fba467"/><rect x="1104" y="576" width="16.5" height="16.5" fill="#fba969"/><rect x="1120" y="576" width="16.5" height="16.5" fill="#fbb16e"/><rect x="1136" y="576" width="16.5" height="16.5" fill="#fbb570"/><rect x="1152" y="576" width="16.5" height="16.5" fill="#fbb570"/><rect x="1168" y="576" width="16.5" height="16.5" fill="#fbb570"/><rect x="1184" y="576" width="16.5" height="16.5" fill="#fbb570"/><rect x="1200" y="576" width="16.5" height="16.5" fill="#fbb671"/><rect x="1216" y="576" width="16.5" height="16.5" fill="#fbb874"/><rect x="1232" y="576" width="16.5" height="16.5" fill="#fbb371"/><rect x="1248" y="576" width="16.5" height="16.5" fill="#fba668"/><rect x="1264" y="576" width="16.5" height="16.5" fill="#fa9c62"/><rect x="1280" y="576" width="16.5" height="16.5" fill="#f9945e"/><rect x="1296" y="576" width="16.5" height="16.5" fill="#f98e5c"/><rect x="1312" y="576" width="16.5" height="16.5" fill="#f98c5b"/><rect x="1328" y="576" width="16.5" height="16.5" fill="#f9895a"/><rect x="1344" y="576" width="16.5" height="16.5" fill="#f9895a"/><rect x="1360" y="576" width="16.5" height="16.5" fill="#f88558"/><rect x="1376" y="576" width="16.5" height="16.5" fill="#f88558"/><rect x="1392" y="576" width="16.5" height="16.5" fill="#f88558"/><rect x="1408" y="576" width="16.5" height="16.5" fill="#f88558"/><rect x="448" y="592" width="16.5" height="16.5" fill="#f07050"/><rect x="464" y="592" width="16.5" height="16.5" fill="#f88558"/><rect x="480" y="592" width="16.5" height="16.5" fill="#f88558"/><rect x="496" y="592" width="16.5" height="16.5" fill="#f88558"/><rect x="512" y="592" width="16.5" height="16.5" fill="#fbb06c"/><rect x="528" y="592" width="16.5" height="16.5" fill="#dc4238"/><rect x="544" y="592" width="16.5" height="16.5" fill="#e65a45"/><rect x="560" y="592" width="16.5" height="16.5" fill="#dc4238"/><rect x="576" y="592" width="16.5" height="16.5" fill="#dc4238"/><rect x="592" y="592" width="16.5" height="16.5" fill="#dc4238"/><rect x="608" y="592" width="16.5" height="16.5" fill="#e65a45"/><rect x="624" y="592" width="16.5" height="16.5" fill="#f07050"/><rect x="640" y="592" width="16.5" height="16.5" fill="#e65a45"/><rect x="656" y="592" width="16.5" height="16.5" fill="#f88558"/><rect x="672" y="592" width="16.5" height="16.5" fill="#fcc47c"/><rect x="688" y="592" width="16.5" height="16.5" fill="#fdd591"/><rect x="704" y="592" width="16.5" height="16.5" fill="#fde4b4"/><rect x="720" y="592" width="16.5" height="16.5" fill="#fcc47c"/><rect x="736" y="592" width="16.5" height="16.5" fill="#fcc47c"/><rect x="752" y="592" width="16.5" height="16.5" fill="#fdd591"/><rect x="768" y="592" width="16.5" height="16.5" fill="#fdd591"/><rect x="784" y="592" width="16.5" height="16.5" fill="#fdd591"/><rect x="800" y="592" width="16.5" height="16.5" fill="#fcc47c"/><rect x="816" y="592" width="16.5" height="16.5" fill="#fcc47c"/><rect x="832" y="592" width="16.5" height="16.5" fill="#fcc47c"/><rect x="848" y="592" width="16.5" height="16.5" fill="#fcc47c"/><rect x="864" y="592" width="16.5" height="16.5" fill="#fbb06c"/><rect x="880" y="592" width="16.5" height="16.5" fill="#fbb06c"/><rect x="896" y="592" width="16.5" height="16.5" fill="#fbaa69"/><rect x="912" y="592" width="16.5" height="16.5" fill="#fba968"/><rect x="928" y="592" width="16.5" height="16.5" fill="#faa768"/><rect x="944" y="592" width="16.5" height="16.5" fill="#faa768"/><rect x="960" y="592" width="16.5" height="16.5" fill="#fba968"/><rect x="976" y="592" width="16.5" height="16.5" fill="#fbaa69"/><rect x="992" y="592" width="16.5" height="16.5" fill="#fbaa69"/><rect x="1008" y="592" width="16.5" height="16.5" fill="#fbaa69"/><rect x="1024" y="592" width="16.5" height="16.5" fill="#fbaa69"/><rect x="1040" y="592" width="16.5" height="16.5" fill="#fba667"/><rect x="1056" y="592" width="16.5" height="16.5" fill="#fb9e62"/><rect x="1072" y="592" width="16.5" height="16.5" fill="#fb9960"/><rect x="1088" y="592" width="16.5" height="16.5" fill="#fa965e"/><rect x="1104" y="592" width="16.5" height="16.5" fill="#fa9a61"/><rect x="1120" y="592" width="16.5" height="16.5" fill="#fba566"/><rect x="1136" y="592" width="16.5" height="16.5" fill="#fbaa69"/><rect x="1152" y="592" width="16.5" height="16.5" fill="#fbaa69"/><rect x="1168" y="592" width="16.5" height="16.5" fill="#fbaa69"/><rect x="1184" y="592" width="16.5" height="16.5" fill="#fbaa69"/><rect x="1200" y="592" width="16.5" height="16.5" fill="#fbaa69"/><rect x="1216" y="592" width="16.5" height="16.5" fill="#fbaa69"/><rect x="1232" y="592" width="16.5" height="16.5" fill="#fba566"/><rect x="1248" y="592" width="16.5" height="16.5" fill="#fa9a61"/><rect x="1264" y="592" width="16.5" height="16.5" fill="#f9905c"/><rect x="1280" y="592" width="16.5" height="16.5" fill="#f78558"/><rect x="1296" y="592" width="16.5" height="16.5" fill="#f68056"/><rect x="1312" y="592" width="16.5" height="16.5" fill="#f68056"/><rect x="1328" y="592" width="16.5" height="16.5" fill="#f68156"/><rect x="1344" y="592" width="16.5" height="16.5" fill="#f68156"/><rect x="1360" y="592" width="16.5" height="16.5" fill="#f68156"/><rect x="1376" y="592" width="16.5" height="16.5" fill="#f88558"/><rect x="1392" y="592" width="16.5" height="16.5" fill="#f88558"/><rect x="464" y="608" width="16.5" height="16.5" fill="#f88558"/><rect x="480" y="608" width="16.5" height="16.5" fill="#f88558"/><rect x="496" y="608" width="16.5" height="16.5" fill="#f88558"/><rect x="512" y="608" width="16.5" height="16.5" fill="#fbb06c"/><rect x="528" y="608" width="16.5" height="16.5" fill="#e65a45"/><rect x="544" y="608" width="16.5" height="16.5" fill="#e65a45"/><rect x="560" y="608" width="16.5" height="16.5" fill="#dc4238"/><rect x="576" y="608" width="16.5" height="16.5" fill="#dc4238"/><rect x="592" y="608" width="16.5" height="16.5" fill="#dc4238"/><rect x="608" y="608" width="16.5" height="16.5" fill="#e65a45"/><rect x="624" y="608" width="16.5" height="16.5" fill="#e65a45"/><rect x="640" y="608" width="16.5" height="16.5" fill="#e65a45"/><rect x="656" y="608" width="16.5" height="16.5" fill="#f07050"/><rect x="672" y="608" width="16.5" height="16.5" fill="#fb9a60"/><rect x="688" y="608" width="16.5" height="16.5" fill="#fcc47c"/><rect x="704" y="608" width="16.5" height="16.5" fill="#fdd591"/><rect x="720" y="608" width="16.5" height="16.5" fill="#fbb06c"/><rect x="736" y="608" width="16.5" height="16.5" fill="#fcc47c"/><rect x="752" y="608" width="16.5" height="16.5" fill="#fde4b4"/><rect x="768" y="608" width="16.5" height="16.5" fill="#fdd591"/><rect x="784" y="608" width="16.5" height="16.5" fill="#fcc47c"/><rect x="800" y="608" width="16.5" height="16.5" fill="#fcc47c"/><rect x="816" y="608" width="16.5" height="16.5" fill="#fcc47c"/><rect x="832" y="608" width="16.5" height="16.5" fill="#fcc47c"/><rect x="848" y="608" width="16.5" height="16.5" fill="#fbb06c"/><rect x="864" y="608" width="16.5" height="16.5" fill="#fbb06c"/><rect x="880" y="608" width="16.5" height="16.5" fill="#fbb06c"/><rect x="896" y="608" width="16.5" height="16.5" fill="#fba063"/><rect x="912" y="608" width="16.5" height="16.5" fill="#fa9c62"/><rect x="928" y="608" width="16.5" height="16.5" fill="#f9945e"/><rect x="944" y="608" width="16.5" height="16.5" fill="#f9945e"/><rect x="960" y="608" width="16.5" height="16.5" fill="#fa9c62"/><rect x="976" y="608" width="16.5" height="16.5" fill="#fba063"/><rect x="992" y="608" width="16.5" height="16.5" fill="#fba063"/><rect x="1008" y="608" width="16.5" height="16.5" fill="#fba063"/><rect x="1024" y="608" width="16.5" height="16.5" fill="#fba063"/><rect x="1040" y="608" width="16.5" height="16.5" fill="#fb9e62"/><rect x="1056" y="608" width="16.5" height="16.5" fill="#fb9b61"/><rect x="1072" y="608" width="16.5" height="16.5" fill="#fa965e"/><rect x="1088" y="608" width="16.5" height="16.5" fill="#f98e5c"/><rect x="1104" y="608" width="16.5" height="16.5" fill="#f9905c"/><rect x="1120" y="608" width="16.5" height="16.5" fill="#fa9a61"/><rect x="1136" y="608" width="16.5" height="16.5" fill="#fba063"/><rect x="1152" y="608" width="16.5" height="16.5" fill="#fba063"/><rect x="1168" y="608" width="16.5" height="16.5" fill="#fba063"/><rect x="1184" y="608" width="16.5" height="16.5" fill="#fba063"/><rect x="1200" y="608" width="16.5" height="16.5" fill="#fba063"/><rect x="1216" y="608" width="16.5" height="16.5" fill="#fba063"/><rect x="1232" y="608" width="16.5" height="16.5" fill="#fa9a61"/><rect x="1248" y="608" width="16.5" height="16.5" fill="#f9905c"/><rect x="1264" y="608" width="16.5" height="16.5" fill="#f78558"/><rect x="1280" y="608" width="16.5" height="16.5" fill="#f47a54"/><rect x="1296" y="608" width="16.5" height="16.5" fill="#f27552"/><rect x="1312" y="608" width="16.5" height="16.5" fill="#f27552"/><rect x="1328" y="608" width="16.5" height="16.5" fill="#f68156"/><rect x="1344" y="608" width="16.5" height="16.5" fill="#f68156"/><rect x="1360" y="608" width="16.5" height="16.5" fill="#f68156"/><rect x="1376" y="608" width="16.5" height="16.5" fill="#f68156"/><rect x="480" y="624" width="16.5" height="16.5" fill="#f88558"/><rect x="496" y="624" width="16.5" height="16.5" fill="#f88558"/><rect x="512" y="624" width="16.5" height="16.5" fill="#e65a45"/><rect x="528" y="624" width="16.5" height="16.5" fill="#e65a45"/><rect x="544" y="624" width="16.5" height="16.5" fill="#e65a45"/><rect x="560" y="624" width="16.5" height="16.5" fill="#dc4238"/><rect x="576" y="624" width="16.5" height="16.5" fill="#dc4238"/><rect x="592" y="624" width="16.5" height="16.5" fill="#e65a45"/><rect x="608" y="624" width="16.5" height="16.5" fill="#f07050"/><rect x="624" y="624" width="16.5" height="16.5" fill="#f07050"/><rect x="640" y="624" width="16.5" height="16.5" fill="#e65a45"/><rect x="656" y="624" width="16.5" height="16.5" fill="#f07050"/><rect x="672" y="624" width="16.5" height="16.5" fill="#f88558"/><rect x="688" y="624" width="16.5" height="16.5" fill="#fbb06c"/><rect x="704" y="624" width="16.5" height="16.5" fill="#fbb06c"/><rect x="720" y="624" width="16.5" height="16.5" fill="#fbb06c"/><rect x="736" y="624" width="16.5" height="16.5" fill="#fbb06c"/><rect x="752" y="624" width="16.5" height="16.5" fill="#fcc47c"/><rect x="768" y="624" width="16.5" height="16.5" fill="#fcc47c"/><rect x="784" y="624" width="16.5" height="16.5" fill="#fcc47c"/><rect x="800" y="624" width="16.5" height="16.5" fill="#fcc47c"/><rect x="816" y="624" width="16.5" height="16.5" fill="#fbb06c"/><rect x="832" y="624" width="16.5" height="16.5" fill="#fbb06c"/><rect x="848" y="624" width="16.5" height="16.5" fill="#fbb06c"/><rect x="864" y="624" width="16.5" height="16.5" fill="#fbb06c"/><rect x="880" y="624" width="16.5" height="16.5" fill="#fb9a60"/><rect x="896" y="624" width="16.5" height="16.5" fill="#fa965e"/><rect x="912" y="624" width="16.5" height="16.5" fill="#fa915c"/><rect x="928" y="624" width="16.5" height="16.5" fill="#f9895a"/><rect x="944" y="624" width="16.5" height="16.5" fill="#f98a5a"/><rect x="960" y="624" width="16.5" height="16.5" fill="#fa955e"/><rect x="976" y="624" width="16.5" height="16.5" fill="#fb9a60"/><rect x="992" y="624" width="16.5" height="16.5" fill="#fb9a60"/><rect x="1008" y="624" width="16.5" height="16.5" fill="#fb9960"/><rect x="1024" y="624" width="16.5" height="16.5" fill="#fa965e"/><rect x="1040" y="624" width="16.5" height="16.5" fill="#fa955e"/><rect x="1056" y="624" width="16.5" height="16.5" fill="#fa955e"/><rect x="1072" y="624" width="16.5" height="16.5" fill="#fa915c"/><rect x="1088" y="624" width="16.5" height="16.5" fill="#f9895a"/><rect x="1104" y="624" width="16.5" height="16.5" fill="#f9895a"/><rect x="1120" y="624" width="16.5" height="16.5" fill="#fa915c"/><rect x="1136" y="624" width="16.5" height="16.5" fill="#fa965e"/><rect x="1152" y="624" width="16.5" height="16.5" fill="#fb9960"/><rect x="1168" y="624" width="16.5" height="16.5" fill="#fb9960"/><rect x="1184" y="624" width="16.5" height="16.5" fill="#fa965e"/><rect x="1200" y="624" width="16.5" height="16.5" fill="#fa955e"/><rect x="1216" y="624" width="16.5" height="16.5" fill="#fa955e"/><rect x="1232" y="624" width="16.5" height="16.5" fill="#fa915c"/><rect x="1248" y="624" width="16.5" height="16.5" fill="#f9895a"/><rect x="1264" y="624" width="16.5" height="16.5" fill="#f68056"/><rect x="1280" y="624" width="16.5" height="16.5" fill="#f27552"/><rect x="1296" y="624" width="16.5" height="16.5" fill="#f07050"/><rect x="1312" y="624" width="16.5" height="16.5" fill="#f07050"/><rect x="1328" y="624" width="16.5" height="16.5" fill="#f07050"/><rect x="1344" y="624" width="16.5" height="16.5" fill="#f68156"/><rect x="1360" y="624" width="16.5" height="16.5" fill="#f68156"/><rect x="528" y="640" width="16.5" height="16.5" fill="#e65a45"/><rect x="544" y="640" width="16.5" height="16.5" fill="#dc4238"/><rect x="560" y="640" width="16.5" height="16.5" fill="#dc4238"/><rect x="576" y="640" width="16.5" height="16.5" fill="#e65a45"/><rect x="592" y="640" width="16.5" height="16.5" fill="#e65a45"/><rect x="608" y="640" width="16.5" height="16.5" fill="#f07050"/><rect x="624" y="640" width="16.5" height="16.5" fill="#f07050"/><rect x="640" y="640" width="16.5" height="16.5" fill="#f07050"/><rect x="656" y="640" width="16.5" height="16.5" fill="#f88558"/><rect x="672" y="640" width="16.5" height="16.5" fill="#f88558"/><rect x="688" y="640" width="16.5" height="16.5" fill="#fb9a60"/><rect x="704" y="640" width="16.5" height="16.5" fill="#fb9a60"/><rect x="720" y="640" width="16.5" height="16.5" fill="#fb9a60"/><rect x="736" y="640" width="16.5" height="16.5" fill="#fb9a60"/><rect x="752" y="640" width="16.5" height="16.5" fill="#fbb06c"/><rect x="768" y="640" width="16.5" height="16.5" fill="#fcc47c"/><rect x="784" y="640" width="16.5" height="16.5" fill="#fbb06c"/><rect x="800" y="640" width="16.5" height="16.5" fill="#fbb06c"/><rect x="816" y="640" width="16.5" height="16.5" fill="#fbb06c"/><rect x="832" y="640" width="16.5" height="16.5" fill="#fb9a60"/><rect x="848" y="640" width="16.5" height="16.5" fill="#fb9a60"/><rect x="864" y="640" width="16.5" height="16.5" fill="#fb9a60"/><rect x="880" y="640" width="16.5" height="16.5" fill="#fb9a60"/><rect x="896" y="640" width="16.5" height="16.5" fill="#f98e5c"/><rect x="912" y="640" width="16.5" height="16.5" fill="#f9895a"/><rect x="928" y="640" width="16.5" height="16.5" fill="#f88658"/><rect x="944" y="640" width="16.5" height="16.5" fill="#f98a5a"/><rect x="960" y="640" width="16.5" height="16.5" fill="#fa955e"/><rect x="976" y="640" width="16.5" height="16.5" fill="#fb9a60"/><rect x="992" y="640" width="16.5" height="16.5" fill="#fb9a60"/><rect x="1008" y="640" width="16.5" height="16.5" fill="#fa965e"/><rect x="1024" y="640" width="16.5" height="16.5" fill="#f98e5c"/><rect x="1040" y="640" width="16.5" height="16.5" fill="#f98a5a"/><rect x="1056" y="640" width="16.5" height="16.5" fill="#f98a5a"/><rect x="1072" y="640" width="16.5" height="16.5" fill="#f9895a"/><rect x="1088" y="640" width="16.5" height="16.5" fill="#f88658"/><rect x="1104" y="640" width="16.5" height="16.5" fill="#f88658"/><rect x="1120" y="640" width="16.5" height="16.5" fill="#f9895a"/><rect x="1136" y="640" width="16.5" height="16.5" fill="#f98e5c"/><rect x="1152" y="640" width="16.5" height="16.5" fill="#fa965e"/><rect x="1168" y="640" width="16.5" height="16.5" fill="#fa965e"/><rect x="1184" y="640" width="16.5" height="16.5" fill="#f98e5c"/><rect x="1200" y="640" width="16.5" height="16.5" fill="#f98a5a"/><rect x="1216" y="640" width="16.5" height="16.5" fill="#f98a5a"/><rect x="1232" y="640" width="16.5" height="16.5" fill="#f9895a"/><rect x="1248" y="640" width="16.5" height="16.5" fill="#f88658"/><rect x="1264" y="640" width="16.5" height="16.5" fill="#f68056"/><rect x="1280" y="640" width="16.5" height="16.5" fill="#f27552"/><rect x="1296" y="640" width="16.5" height="16.5" fill="#f07050"/><rect x="1312" y="640" width="16.5" height="16.5" fill="#f07050"/><rect x="1328" y="640" width="16.5" height="16.5" fill="#f07050"/><rect x="1344" y="640" width="16.5" height="16.5" fill="#f07050"/><rect x="560" y="656" width="16.5" height="16.5" fill="#e65a45"/><rect x="576" y="656" width="16.5" height="16.5" fill="#e65a45"/><rect x="592" y="656" width="16.5" height="16.5" fill="#e65a45"/><rect x="608" y="656" width="16.5" height="16.5" fill="#f07050"/><rect x="624" y="656" width="16.5" height="16.5" fill="#f07050"/><rect x="640" y="656" width="16.5" height="16.5" fill="#f07050"/><rect x="656" y="656" width="16.5" height="16.5" fill="#f88558"/><rect x="672" y="656" width="16.5" height="16.5" fill="#f88558"/><rect x="688" y="656" width="16.5" height="16.5" fill="#fb9a60"/><rect x="704" y="656" width="16.5" height="16.5" fill="#fb9a60"/><rect x="720" y="656" width="16.5" height="16.5" fill="#fb9a60"/><rect x="736" y="656" width="16.5" height="16.5" fill="#fb9a60"/><rect x="752" y="656" width="16.5" height="16.5" fill="#fbb06c"/><rect x="768" y="656" width="16.5" height="16.5" fill="#fbb06c"/><rect x="784" y="656" width="16.5" height="16.5" fill="#fb9a60"/><rect x="800" y="656" width="16.5" height="16.5" fill="#fb9a60"/><rect x="816" y="656" width="16.5" height="16.5" fill="#f88558"/><rect x="832" y="656" width="16.5" height="16.5" fill="#fb9a60"/><rect x="848" y="656" width="16.5" height="16.5" fill="#fb9a60"/><rect x="864" y="656" width="16.5" height="16.5" fill="#fb9a60"/><rect x="880" y="656" width="16.5" height="16.5" fill="#fb9a60"/><rect x="896" y="656" width="16.5" height="16.5" fill="#f98a5a"/><rect x="912" y="656" width="16.5" height="16.5" fill="#f88558"/><rect x="928" y="656" width="16.5" height="16.5" fill="#f88558"/><rect x="944" y="656" width="16.5" height="16.5" fill="#f9895a"/><rect x="960" y="656" width="16.5" height="16.5" fill="#fa915c"/><rect x="976" y="656" width="16.5" height="16.5" fill="#fa955e"/><rect x="992" y="656" width="16.5" height="16.5" fill="#fa955e"/><rect x="1008" y="656" width="16.5" height="16.5" fill="#fa915c"/><rect x="1024" y="656" width="16.5" height="16.5" fill="#f9895a"/><rect x="1040" y="656" width="16.5" height="16.5" fill="#f88558"/><rect x="1056" y="656" width="16.5" height="16.5" fill="#f88558"/><rect x="1072" y="656" width="16.5" height="16.5" fill="#f88458"/><rect x="1088" y="656" width="16.5" height="16.5" fill="#f68156"/><rect x="1104" y="656" width="16.5" height="16.5" fill="#f68156"/><rect x="1120" y="656" width="16.5" height="16.5" fill="#f88458"/><rect x="1136" y="656" width="16.5" height="16.5" fill="#f9895a"/><rect x="1152" y="656" width="16.5" height="16.5" fill="#fa915c"/><rect x="1168" y="656" width="16.5" height="16.5" fill="#fa915c"/><rect x="1184" y="656" width="16.5" height="16.5" fill="#f9895a"/><rect x="1200" y="656" width="16.5" height="16.5" fill="#f88458"/><rect x="1216" y="656" width="16.5" height="16.5" fill="#f68156"/><rect x="1232" y="656" width="16.5" height="16.5" fill="#f68056"/><rect x="1248" y="656" width="16.5" height="16.5" fill="#f68056"/><rect x="1264" y="656" width="16.5" height="16.5" fill="#f47a54"/><rect x="1280" y="656" width="16.5" height="16.5" fill="#f0704f"/><rect x="1296" y="656" width="16.5" height="16.5" fill="#ee6a4d"/><rect x="1312" y="656" width="16.5" height="16.5" fill="#ee6a4d"/><rect x="1328" y="656" width="16.5" height="16.5" fill="#ee6a4d"/><rect x="1344" y="656" width="16.5" height="16.5" fill="#ee6a4d"/><rect x="576" y="672" width="16.5" height="16.5" fill="#e65a45"/><rect x="592" y="672" width="16.5" height="16.5" fill="#f07050"/><rect x="608" y="672" width="16.5" height="16.5" fill="#f07050"/><rect x="624" y="672" width="16.5" height="16.5" fill="#f07050"/><rect x="640" y="672" width="16.5" height="16.5" fill="#f07050"/><rect x="656" y="672" width="16.5" height="16.5" fill="#f88558"/><rect x="672" y="672" width="16.5" height="16.5" fill="#f88558"/><rect x="688" y="672" width="16.5" height="16.5" fill="#fb9a60"/><rect x="704" y="672" width="16.5" height="16.5" fill="#fb9a60"/><rect x="720" y="672" width="16.5" height="16.5" fill="#fb9a60"/><rect x="736" y="672" width="16.5" height="16.5" fill="#fb9a60"/><rect x="752" y="672" width="16.5" height="16.5" fill="#fb9a60"/><rect x="768" y="672" width="16.5" height="16.5" fill="#fbb06c"/><rect x="784" y="672" width="16.5" height="16.5" fill="#fbb06c"/><rect x="800" y="672" width="16.5" height="16.5" fill="#fb9a60"/><rect x="816" y="672" width="16.5" height="16.5" fill="#f88558"/><rect x="832" y="672" width="16.5" height="16.5" fill="#f88558"/><rect x="848" y="672" width="16.5" height="16.5" fill="#fb9a60"/><rect x="864" y="672" width="16.5" height="16.5" fill="#fb9a60"/><rect x="880" y="672" width="16.5" height="16.5" fill="#fb9a60"/><rect x="896" y="672" width="16.5" height="16.5" fill="#f98a5a"/><rect x="912" y="672" width="16.5" height="16.5" fill="#f88558"/><rect x="928" y="672" width="16.5" height="16.5" fill="#f88558"/><rect x="944" y="672" width="16.5" height="16.5" fill="#f88658"/><rect x="960" y="672" width="16.5" height="16.5" fill="#f9895a"/><rect x="976" y="672" width="16.5" height="16.5" fill="#f98a5a"/><rect x="992" y="672" width="16.5" height="16.5" fill="#f98a5a"/><rect x="1008" y="672" width="16.5" height="16.5" fill="#f9895a"/><rect x="1024" y="672" width="16.5" height="16.5" fill="#f88658"/><rect x="1040" y="672" width="16.5" height="16.5" fill="#f88558"/><rect x="1056" y="672" width="16.5" height="16.5" fill="#f88558"/><rect x="1072" y="672" width="16.5" height="16.5" fill="#f68156"/><rect x="1088" y="672" width="16.5" height="16.5" fill="#f47954"/><rect x="1104" y="672" width="16.5" height="16.5" fill="#f47954"/><rect x="1120" y="672" width="16.5" height="16.5" fill="#f68156"/><rect x="1136" y="672" width="16.5" height="16.5" fill="#f88658"/><rect x="1152" y="672" width="16.5" height="16.5" fill="#f9895a"/><rect x="1168" y="672" width="16.5" height="16.5" fill="#f9895a"/><rect x="1184" y="672" width="16.5" height="16.5" fill="#f88658"/><rect x="1200" y="672" width="16.5" height="16.5" fill="#f68156"/><rect x="1216" y="672" width="16.5" height="16.5" fill="#f47954"/><rect x="1232" y="672" width="16.5" height="16.5" fill="#f27552"/><rect x="1248" y="672" width="16.5" height="16.5" fill="#f27552"/><rect x="1264" y="672" width="16.5" height="16.5" fill="#f0704f"/><rect x="1280" y="672" width="16.5" height="16.5" fill="#eb654a"/><rect x="1296" y="672" width="16.5" height="16.5" fill="#e86048"/><rect x="1312" y="672" width="16.5" height="16.5" fill="#e86048"/><rect x="1328" y="672" width="16.5" height="16.5" fill="#e86048"/><rect x="1344" y="672" width="16.5" height="16.5" fill="#e65a45"/><rect x="1360" y="672" width="16.5" height="16.5" fill="#e65a45"/><rect x="608" y="688" width="16.5" height="16.5" fill="#f07050"/><rect x="624" y="688" width="16.5" height="16.5" fill="#f07050"/><rect x="640" y="688" width="16.5" height="16.5" fill="#f07050"/><rect x="656" y="688" width="16.5" height="16.5" fill="#f88558"/><rect x="672" y="688" width="16.5" height="16.5" fill="#f88558"/><rect x="688" y="688" width="16.5" height="16.5" fill="#fb9a60"/><rect x="704" y="688" width="16.5" height="16.5" fill="#fb9a60"/><rect x="720" y="688" width="16.5" height="16.5" fill="#fb9a60"/><rect x="736" y="688" width="16.5" height="16.5" fill="#fb9a60"/><rect x="752" y="688" width="16.5" height="16.5" fill="#fb9a60"/><rect x="768" y="688" width="16.5" height="16.5" fill="#fbb06c"/><rect x="784" y="688" width="16.5" height="16.5" fill="#fbb06c"/><rect x="800" y="688" width="16.5" height="16.5" fill="#fb9a60"/><rect x="816" y="688" width="16.5" height="16.5" fill="#fb9a60"/><rect x="832" y="688" width="16.5" height="16.5" fill="#fb9a60"/><rect x="848" y="688" width="16.5" height="16.5" fill="#fb9a60"/><rect x="864" y="688" width="16.5" height="16.5" fill="#f88558"/><rect x="880" y="688" width="16.5" height="16.5" fill="#f88558"/><rect x="896" y="688" width="16.5" height="16.5" fill="#f9895a"/><rect x="912" y="688" width="16.5" height="16.5" fill="#f88558"/><rect x="928" y="688" width="16.5" height="16.5" fill="#f88558"/><rect x="944" y="688" width="16.5" height="16.5" fill="#f88458"/><rect x="960" y="688" width="16.5" height="16.5" fill="#f68156"/><rect x="976" y="688" width="16.5" height="16.5" fill="#f68056"/><rect x="992" y="688" width="16.5" height="16.5" fill="#f68056"/><rect x="1008" y="688" width="16.5" height="16.5" fill="#f68056"/><rect x="1024" y="688" width="16.5" height="16.5" fill="#f68056"/><rect x="1040" y="688" width="16.5" height="16.5" fill="#f68056"/><rect x="1056" y="688" width="16.5" height="16.5" fill="#f68056"/><rect x="1072" y="688" width="16.5" height="16.5" fill="#f47c54"/><rect x="1088" y="688" width="16.5" height="16.5" fill="#f27452"/><rect x="1104" y="688" width="16.5" height="16.5" fill="#f27452"/><rect x="1120" y="688" width="16.5" height="16.5" fill="#f47c54"/><rect x="1136" y="688" width="16.5" height="16.5" fill="#f68056"/><rect x="1152" y="688" width="16.5" height="16.5" fill="#f68056"/><rect x="1168" y="688" width="16.5" height="16.5" fill="#f68156"/><rect x="1184" y="688" width="16.5" height="16.5" fill="#f88458"/><rect x="1200" y="688" width="16.5" height="16.5" fill="#f68056"/><rect x="1216" y="688" width="16.5" height="16.5" fill="#f27552"/><rect x="1232" y="688" width="16.5" height="16.5" fill="#ef6f4f"/><rect x="1248" y="688" width="16.5" height="16.5" fill="#ee6c4e"/><rect x="1264" y="688" width="16.5" height="16.5" fill="#ec664b"/><rect x="1280" y="688" width="16.5" height="16.5" fill="#e85e47"/><rect x="1296" y="688" width="16.5" height="16.5" fill="#e65a45"/><rect x="1312" y="688" width="16.5" height="16.5" fill="#e65a45"/><rect x="1328" y="688" width="16.5" height="16.5" fill="#e65a45"/><rect x="1344" y="688" width="16.5" height="16.5" fill="#e65a45"/><rect x="1360" y="688" width="16.5" height="16.5" fill="#e65a45"/><rect x="1376" y="688" width="16.5" height="16.5" fill="#e65a45"/><rect x="720" y="704" width="16.5" height="16.5" fill="#fb9a60"/><rect x="736" y="704" width="16.5" height="16.5" fill="#fba063"/><rect x="752" y="704" width="16.5" height="16.5" fill="#fba063"/><rect x="768" y="704" width="16.5" height="16.5" fill="#fba063"/><rect x="784" y="704" width="16.5" height="16.5" fill="#fb9960"/><rect x="800" y="704" width="16.5" height="16.5" fill="#fa965e"/><rect x="816" y="704" width="16.5" height="16.5" fill="#fa955e"/><rect x="832" y="704" width="16.5" height="16.5" fill="#fa955e"/><rect x="848" y="704" width="16.5" height="16.5" fill="#fa925d"/><rect x="864" y="704" width="16.5" height="16.5" fill="#f98d5b"/><rect x="880" y="704" width="16.5" height="16.5" fill="#f9895a"/><rect x="896" y="704" width="16.5" height="16.5" fill="#f88658"/><rect x="912" y="704" width="16.5" height="16.5" fill="#f88558"/><rect x="928" y="704" width="16.5" height="16.5" fill="#f88558"/><rect x="944" y="704" width="16.5" height="16.5" fill="#f68156"/><rect x="960" y="704" width="16.5" height="16.5" fill="#f47954"/><rect x="976" y="704" width="16.5" height="16.5" fill="#f27552"/><rect x="992" y="704" width="16.5" height="16.5" fill="#f27552"/><rect x="1008" y="704" width="16.5" height="16.5" fill="#f27552"/><rect x="1024" y="704" width="16.5" height="16.5" fill="#f27552"/><rect x="1040" y="704" width="16.5" height="16.5" fill="#f27552"/><rect x="1056" y="704" width="16.5" height="16.5" fill="#f27552"/><rect x="1072" y="704" width="16.5" height="16.5" fill="#f27452"/><rect x="1088" y="704" width="16.5" height="16.5" fill="#f07150"/><rect x="1104" y="704" width="16.5" height="16.5" fill="#f07150"/><rect x="1120" y="704" width="16.5" height="16.5" fill="#f27452"/><rect x="1136" y="704" width="16.5" height="16.5" fill="#f27552"/><rect x="1152" y="704" width="16.5" height="16.5" fill="#f27552"/><rect x="1168" y="704" width="16.5" height="16.5" fill="#f68156"/><rect x="1184" y="704" width="16.5" height="16.5" fill="#f88458"/><rect x="1200" y="704" width="16.5" height="16.5" fill="#f68056"/><rect x="1216" y="704" width="16.5" height="16.5" fill="#f27552"/><rect x="1232" y="704" width="16.5" height="16.5" fill="#ef6f4f"/><rect x="1248" y="704" width="16.5" height="16.5" fill="#ea644a"/><rect x="1264" y="704" width="16.5" height="16.5" fill="#e85e47"/><rect x="1280" y="704" width="16.5" height="16.5" fill="#e75b46"/><rect x="1296" y="704" width="16.5" height="16.5" fill="#e65a45"/><rect x="1312" y="704" width="16.5" height="16.5" fill="#e65a45"/><rect x="1328" y="704" width="16.5" height="16.5" fill="#e65a45"/><rect x="1344" y="704" width="16.5" height="16.5" fill="#e65a45"/><rect x="1360" y="704" width="16.5" height="16.5" fill="#e65a45"/><rect x="1376" y="704" width="16.5" height="16.5" fill="#e65a45"/><rect x="720" y="720" width="16.5" height="16.5" fill="#fb9e62"/><rect x="736" y="720" width="16.5" height="16.5" fill="#fb9e62"/><rect x="752" y="720" width="16.5" height="16.5" fill="#fb9e62"/><rect x="768" y="720" width="16.5" height="16.5" fill="#fb9e62"/><rect x="784" y="720" width="16.5" height="16.5" fill="#fb9a60"/><rect x="800" y="720" width="16.5" height="16.5" fill="#fb9a60"/><rect x="816" y="720" width="16.5" height="16.5" fill="#fb9a60"/><rect x="832" y="720" width="16.5" height="16.5" fill="#fb9a60"/><rect x="848" y="720" width="16.5" height="16.5" fill="#fa955e"/><rect x="864" y="720" width="16.5" height="16.5" fill="#f98a5a"/><rect x="880" y="720" width="16.5" height="16.5" fill="#f88458"/><rect x="896" y="720" width="16.5" height="16.5" fill="#f68156"/><rect x="912" y="720" width="16.5" height="16.5" fill="#f57e55"/><rect x="928" y="720" width="16.5" height="16.5" fill="#f47c54"/><rect x="944" y="720" width="16.5" height="16.5" fill="#f37852"/><rect x="960" y="720" width="16.5" height="16.5" fill="#f17351"/><rect x="976" y="720" width="16.5" height="16.5" fill="#f07050"/><rect x="992" y="720" width="16.5" height="16.5" fill="#f07050"/><rect x="1008" y="720" width="16.5" height="16.5" fill="#f07050"/><rect x="1024" y="720" width="16.5" height="16.5" fill="#f07050"/><rect x="1040" y="720" width="16.5" height="16.5" fill="#f07050"/><rect x="1056" y="720" width="16.5" height="16.5" fill="#f07050"/><rect x="1072" y="720" width="16.5" height="16.5" fill="#f07050"/><rect x="1088" y="720" width="16.5" height="16.5" fill="#f07050"/><rect x="1104" y="720" width="16.5" height="16.5" fill="#f07050"/><rect x="1120" y="720" width="16.5" height="16.5" fill="#f07050"/><rect x="1136" y="720" width="16.5" height="16.5" fill="#f07050"/><rect x="1152" y="720" width="16.5" height="16.5" fill="#f07050"/><rect x="1168" y="720" width="16.5" height="16.5" fill="#f07050"/><rect x="1184" y="720" width="16.5" height="16.5" fill="#f88458"/><rect x="1200" y="720" width="16.5" height="16.5" fill="#f68056"/><rect x="1216" y="720" width="16.5" height="16.5" fill="#f27552"/><rect x="1232" y="720" width="16.5" height="16.5" fill="#e85e47"/><rect x="1248" y="720" width="16.5" height="16.5" fill="#e85e47"/><rect x="1264" y="720" width="16.5" height="16.5" fill="#e55844"/><rect x="1280" y="720" width="16.5" height="16.5" fill="#e45643"/><rect x="1296" y="720" width="16.5" height="16.5" fill="#e45442"/><rect x="1312" y="720" width="16.5" height="16.5" fill="#e45442"/><rect x="1328" y="720" width="16.5" height="16.5" fill="#e45442"/><rect x="1344" y="720" width="16.5" height="16.5" fill="#e45442"/><rect x="1360" y="720" width="16.5" height="16.5" fill="#e45442"/><rect x="1376" y="720" width="16.5" height="16.5" fill="#e45442"/><rect x="720" y="736" width="16.5" height="16.5" fill="#fb9e62"/><rect x="736" y="736" width="16.5" height="16.5" fill="#fb9e62"/><rect x="752" y="736" width="16.5" height="16.5" fill="#fb9e62"/><rect x="768" y="736" width="16.5" height="16.5" fill="#fb9e62"/><rect x="784" y="736" width="16.5" height="16.5" fill="#fb9a60"/><rect x="800" y="736" width="16.5" height="16.5" fill="#fb9a60"/><rect x="816" y="736" width="16.5" height="16.5" fill="#fb9a60"/><rect x="832" y="736" width="16.5" height="16.5" fill="#fb9a60"/><rect x="848" y="736" width="16.5" height="16.5" fill="#fa955e"/><rect x="864" y="736" width="16.5" height="16.5" fill="#f98a5a"/><rect x="880" y="736" width="16.5" height="16.5" fill="#f68156"/><rect x="896" y="736" width="16.5" height="16.5" fill="#f47954"/><rect x="912" y="736" width="16.5" height="16.5" fill="#f07150"/><rect x="928" y="736" width="16.5" height="16.5" fill="#ec694c"/><rect x="944" y="736" width="16.5" height="16.5" fill="#ec684b"/><rect x="960" y="736" width="16.5" height="16.5" fill="#ef6d4e"/><rect x="976" y="736" width="16.5" height="16.5" fill="#f07050"/><rect x="992" y="736" width="16.5" height="16.5" fill="#f07050"/><rect x="1008" y="736" width="16.5" height="16.5" fill="#f07050"/><rect x="1024" y="736" width="16.5" height="16.5" fill="#f07050"/><rect x="1040" y="736" width="16.5" height="16.5" fill="#f07050"/><rect x="1056" y="736" width="16.5" height="16.5" fill="#f07050"/><rect x="1072" y="736" width="16.5" height="16.5" fill="#f07050"/><rect x="1088" y="736" width="16.5" height="16.5" fill="#f07050"/><rect x="1104" y="736" width="16.5" height="16.5" fill="#f07050"/><rect x="1120" y="736" width="16.5" height="16.5" fill="#f07050"/><rect x="1136" y="736" width="16.5" height="16.5" fill="#f07050"/><rect x="1152" y="736" width="16.5" height="16.5" fill="#f07050"/><rect x="1168" y="736" width="16.5" height="16.5" fill="#f07050"/><rect x="1184" y="736" width="16.5" height="16.5" fill="#f88458"/><rect x="1200" y="736" width="16.5" height="16.5" fill="#f68056"/><rect x="1216" y="736" width="16.5" height="16.5" fill="#e85e47"/><rect x="1232" y="736" width="16.5" height="16.5" fill="#e85e47"/><rect x="1248" y="736" width="16.5" height="16.5" fill="#e85e47"/><rect x="1264" y="736" width="16.5" height="16.5" fill="#e55844"/><rect x="1280" y="736" width="16.5" height="16.5" fill="#e04c3e"/><rect x="1296" y="736" width="16.5" height="16.5" fill="#de483b"/><rect x="1312" y="736" width="16.5" height="16.5" fill="#de483b"/><rect x="1328" y="736" width="16.5" height="16.5" fill="#de483b"/><rect x="1344" y="736" width="16.5" height="16.5" fill="#de483b"/><rect x="1360" y="736" width="16.5" height="16.5" fill="#de483b"/><rect x="1376" y="736" width="16.5" height="16.5" fill="#de483b"/><rect x="736" y="752" width="16.5" height="16.5" fill="#fb9e62"/><rect x="752" y="752" width="16.5" height="16.5" fill="#fb9e62"/><rect x="768" y="752" width="16.5" height="16.5" fill="#fb9e62"/><rect x="784" y="752" width="16.5" height="16.5" fill="#fb9a60"/><rect x="800" y="752" width="16.5" height="16.5" fill="#fb9a60"/><rect x="816" y="752" width="16.5" height="16.5" fill="#fb9a60"/><rect x="832" y="752" width="16.5" height="16.5" fill="#fb9a60"/><rect x="848" y="752" width="16.5" height="16.5" fill="#f78458"/><rect x="864" y="752" width="16.5" height="16.5" fill="#f78458"/><rect x="880" y="752" width="16.5" height="16.5" fill="#f47a54"/><rect x="896" y="752" width="16.5" height="16.5" fill="#f0704f"/><rect x="912" y="752" width="16.5" height="16.5" fill="#ec664b"/><rect x="928" y="752" width="16.5" height="16.5" fill="#e85e47"/><rect x="944" y="752" width="16.5" height="16.5" fill="#e85e47"/><rect x="960" y="752" width="16.5" height="16.5" fill="#ec664b"/><rect x="976" y="752" width="16.5" height="16.5" fill="#ee6c4e"/><rect x="992" y="752" width="16.5" height="16.5" fill="#ee6c4e"/><rect x="1008" y="752" width="16.5" height="16.5" fill="#ee6c4e"/><rect x="1024" y="752" width="16.5" height="16.5" fill="#f07050"/><rect x="1040" y="752" width="16.5" height="16.5" fill="#f07050"/><rect x="1056" y="752" width="16.5" height="16.5" fill="#f07050"/><rect x="1072" y="752" width="16.5" height="16.5" fill="#f07050"/><rect x="1088" y="752" width="16.5" height="16.5" fill="#f07050"/><rect x="1104" y="752" width="16.5" height="16.5" fill="#f07050"/><rect x="1120" y="752" width="16.5" height="16.5" fill="#f07050"/><rect x="1136" y="752" width="16.5" height="16.5" fill="#f07050"/><rect x="1152" y="752" width="16.5" height="16.5" fill="#f07050"/><rect x="1168" y="752" width="16.5" height="16.5" fill="#f07050"/><rect x="1216" y="752" width="16.5" height="16.5" fill="#e85e47"/><rect x="1232" y="752" width="16.5" height="16.5" fill="#e85e47"/><rect x="1248" y="752" width="16.5" height="16.5" fill="#e85e47"/><rect x="1264" y="752" width="16.5" height="16.5" fill="#de463a"/><rect x="1280" y="752" width="16.5" height="16.5" fill="#de463a"/><rect x="1296" y="752" width="16.5" height="16.5" fill="#dc4238"/><rect x="1312" y="752" width="16.5" height="16.5" fill="#dc4238"/><rect x="1328" y="752" width="16.5" height="16.5" fill="#dc4238"/><rect x="1344" y="752" width="16.5" height="16.5" fill="#dc4238"/><rect x="1360" y="752" width="16.5" height="16.5" fill="#dc4238"/><rect x="1376" y="752" width="16.5" height="16.5" fill="#dc4238"/><rect x="752" y="768" width="16.5" height="16.5" fill="#fb9e62"/><rect x="768" y="768" width="16.5" height="16.5" fill="#fb9e62"/><rect x="784" y="768" width="16.5" height="16.5" fill="#fb9a60"/><rect x="800" y="768" width="16.5" height="16.5" fill="#fb9a60"/><rect x="816" y="768" width="16.5" height="16.5" fill="#fb9a60"/><rect x="832" y="768" width="16.5" height="16.5" fill="#f27752"/><rect x="848" y="768" width="16.5" height="16.5" fill="#f27752"/><rect x="864" y="768" width="16.5" height="16.5" fill="#f27752"/><rect x="880" y="768" width="16.5" height="16.5" fill="#f0704f"/><rect x="896" y="768" width="16.5" height="16.5" fill="#eb654a"/><rect x="912" y="768" width="16.5" height="16.5" fill="#e85e47"/><rect x="928" y="768" width="16.5" height="16.5" fill="#e75b46"/><rect x="944" y="768" width="16.5" height="16.5" fill="#e75b46"/><rect x="960" y="768" width="16.5" height="16.5" fill="#e75b46"/><rect x="976" y="768" width="16.5" height="16.5" fill="#ee6c4e"/><rect x="992" y="768" width="16.5" height="16.5" fill="#ee6c4e"/><rect x="1008" y="768" width="16.5" height="16.5" fill="#ee6c4e"/><rect x="1024" y="768" width="16.5" height="16.5" fill="#f07050"/><rect x="1040" y="768" width="16.5" height="16.5" fill="#f07050"/><rect x="1056" y="768" width="16.5" height="16.5" fill="#f07050"/><rect x="1072" y="768" width="16.5" height="16.5" fill="#f07050"/><rect x="1088" y="768" width="16.5" height="16.5" fill="#f07050"/><rect x="1104" y="768" width="16.5" height="16.5" fill="#f07050"/><rect x="1120" y="768" width="16.5" height="16.5" fill="#f07050"/><rect x="1136" y="768" width="16.5" height="16.5" fill="#f07050"/><rect x="1152" y="768" width="16.5" height="16.5" fill="#f07050"/><rect x="1232" y="768" width="16.5" height="16.5" fill="#dd4439"/><rect x="1248" y="768" width="16.5" height="16.5" fill="#dd4439"/><rect x="1264" y="768" width="16.5" height="16.5" fill="#dd4439"/><rect x="1280" y="768" width="16.5" height="16.5" fill="#dd4439"/><rect x="1296" y="768" width="16.5" height="16.5" fill="#dc4238"/><rect x="1312" y="768" width="16.5" height="16.5" fill="#dc4238"/><rect x="1328" y="768" width="16.5" height="16.5" fill="#dc4238"/><rect x="1344" y="768" width="16.5" height="16.5" fill="#dc4238"/><rect x="1360" y="768" width="16.5" height="16.5" fill="#dc4238"/><rect x="1376" y="768" width="16.5" height="16.5" fill="#dc4238"/><rect x="816" y="784" width="16.5" height="16.5" fill="#ee6a4d"/><rect x="832" y="784" width="16.5" height="16.5" fill="#ee6a4d"/><rect x="848" y="784" width="16.5" height="16.5" fill="#ee6a4d"/><rect x="864" y="784" width="16.5" height="16.5" fill="#ee6a4d"/><rect x="880" y="784" width="16.5" height="16.5" fill="#ec664b"/><rect x="896" y="784" width="16.5" height="16.5" fill="#e85e47"/><rect x="912" y="784" width="16.5" height="16.5" fill="#e65a45"/><rect x="928" y="784" width="16.5" height="16.5" fill="#e65a45"/><rect x="944" y="784" width="16.5" height="16.5" fill="#e65a45"/><rect x="960" y="784" width="16.5" height="16.5" fill="#e65a45"/><rect x="976" y="784" width="16.5" height="16.5" fill="#e65a45"/><rect x="992" y="784" width="16.5" height="16.5" fill="#ee6c4e"/><rect x="1008" y="784" width="16.5" height="16.5" fill="#ee6c4e"/><rect x="1232" y="784" width="16.5" height="16.5" fill="#dc4238"/><rect x="1248" y="784" width="16.5" height="16.5" fill="#dc4238"/><rect x="1264" y="784" width="16.5" height="16.5" fill="#dc4238"/><rect x="1280" y="784" width="16.5" height="16.5" fill="#dc4238"/><rect x="1296" y="784" width="16.5" height="16.5" fill="#dc4238"/><rect x="1312" y="784" width="16.5" height="16.5" fill="#dc4238"/><rect x="1328" y="784" width="16.5" height="16.5" fill="#dc4238"/><rect x="1344" y="784" width="16.5" height="16.5" fill="#dc4238"/><rect x="1360" y="784" width="16.5" height="16.5" fill="#dc4238"/><rect x="1376" y="784" width="16.5" height="16.5" fill="#dc4238"/><rect x="816" y="800" width="16.5" height="16.5" fill="#e86048"/><rect x="832" y="800" width="16.5" height="16.5" fill="#e86048"/><rect x="848" y="800" width="16.5" height="16.5" fill="#e86048"/><rect x="864" y="800" width="16.5" height="16.5" fill="#e86048"/><rect x="880" y="800" width="16.5" height="16.5" fill="#e85e47"/><rect x="896" y="800" width="16.5" height="16.5" fill="#e75b46"/><rect x="912" y="800" width="16.5" height="16.5" fill="#e65a45"/><rect x="928" y="800" width="16.5" height="16.5" fill="#e65a45"/><rect x="944" y="800" width="16.5" height="16.5" fill="#e65a45"/><rect x="960" y="800" width="16.5" height="16.5" fill="#e65a45"/><rect x="976" y="800" width="16.5" height="16.5" fill="#e65a45"/><rect x="992" y="800" width="16.5" height="16.5" fill="#e65a45"/><rect x="1232" y="800" width="16.5" height="16.5" fill="#dc4238"/><rect x="1248" y="800" width="16.5" height="16.5" fill="#dc4238"/><rect x="1264" y="800" width="16.5" height="16.5" fill="#dc4238"/><rect x="1280" y="800" width="16.5" height="16.5" fill="#dc4238"/><rect x="1296" y="800" width="16.5" height="16.5" fill="#dc4238"/><rect x="1312" y="800" width="16.5" height="16.5" fill="#dc4238"/><rect x="1328" y="800" width="16.5" height="16.5" fill="#dc4238"/><rect x="1344" y="800" width="16.5" height="16.5" fill="#dc4238"/><rect x="1360" y="800" width="16.5" height="16.5" fill="#dc4238"/><rect x="1376" y="800" width="16.5" height="16.5" fill="#dc4238"/><rect x="816" y="816" width="16.5" height="16.5" fill="#e65a45"/><rect x="832" y="816" width="16.5" height="16.5" fill="#e65a45"/><rect x="848" y="816" width="16.5" height="16.5" fill="#e65a45"/><rect x="864" y="816" width="16.5" height="16.5" fill="#e65a45"/><rect x="880" y="816" width="16.5" height="16.5" fill="#e65a45"/><rect x="896" y="816" width="16.5" height="16.5" fill="#e65a45"/><rect x="912" y="816" width="16.5" height="16.5" fill="#e65a45"/><rect x="928" y="816" width="16.5" height="16.5" fill="#e65a45"/><rect x="944" y="816" width="16.5" height="16.5" fill="#e65a45"/><rect x="960" y="816" width="16.5" height="16.5" fill="#e65a45"/><rect x="976" y="816" width="16.5" height="16.5" fill="#e65a45"/><rect x="992" y="816" width="16.5" height="16.5" fill="#e65a45"/><rect x="1248" y="816" width="16.5" height="16.5" fill="#dc4238"/><rect x="1264" y="816" width="16.5" height="16.5" fill="#dc4238"/><rect x="1280" y="816" width="16.5" height="16.5" fill="#dc4238"/><rect x="1296" y="816" width="16.5" height="16.5" fill="#dc4238"/><rect x="1312" y="816" width="16.5" height="16.5" fill="#dc4238"/><rect x="1328" y="816" width="16.5" height="16.5" fill="#dc4238"/><rect x="1344" y="816" width="16.5" height="16.5" fill="#dc4238"/><rect x="1360" y="816" width="16.5" height="16.5" fill="#dc4238"/><rect x="1376" y="816" width="16.5" height="16.5" fill="#dc4238"/><rect x="816" y="832" width="16.5" height="16.5" fill="#e65a45"/><rect x="832" y="832" width="16.5" height="16.5" fill="#e65a45"/><rect x="848" y="832" width="16.5" height="16.5" fill="#e65a45"/><rect x="864" y="832" width="16.5" height="16.5" fill="#e65a45"/><rect x="880" y="832" width="16.5" height="16.5" fill="#e65a45"/><rect x="896" y="832" width="16.5" height="16.5" fill="#e65a45"/><rect x="912" y="832" width="16.5" height="16.5" fill="#e65a45"/><rect x="928" y="832" width="16.5" height="16.5" fill="#e65a45"/><rect x="944" y="832" width="16.5" height="16.5" fill="#e65a45"/><rect x="960" y="832" width="16.5" height="16.5" fill="#e65a45"/><rect x="976" y="832" width="16.5" height="16.5" fill="#e65a45"/><rect x="992" y="832" width="16.5" height="16.5" fill="#e65a45"/><rect x="1264" y="832" width="16.5" height="16.5" fill="#dc4238"/><rect x="1280" y="832" width="16.5" height="16.5" fill="#dc4238"/><rect x="1296" y="832" width="16.5" height="16.5" fill="#dc4238"/><rect x="1312" y="832" width="16.5" height="16.5" fill="#dc4238"/><rect x="1328" y="832" width="16.5" height="16.5" fill="#dc4238"/><rect x="1344" y="832" width="16.5" height="16.5" fill="#dc4238"/><rect x="1360" y="832" width="16.5" height="16.5" fill="#dc4238"/><rect x="1376" y="832" width="16.5" height="16.5" fill="#dc4238"/><rect x="832" y="848" width="16.5" height="16.5" fill="#e65a45"/><rect x="848" y="848" width="16.5" height="16.5" fill="#e65a45"/><rect x="864" y="848" width="16.5" height="16.5" fill="#e65a45"/><rect x="880" y="848" width="16.5" height="16.5" fill="#e65a45"/><rect x="896" y="848" width="16.5" height="16.5" fill="#e65a45"/><rect x="912" y="848" width="16.5" height="16.5" fill="#e65a45"/><rect x="928" y="848" width="16.5" height="16.5" fill="#e65a45"/><rect x="944" y="848" width="16.5" height="16.5" fill="#e65a45"/><rect x="960" y="848" width="16.5" height="16.5" fill="#e65a45"/><rect x="976" y="848" width="16.5" height="16.5" fill="#e65a45"/><rect x="1280" y="848" width="16.5" height="16.5" fill="#dc4238"/><rect x="1296" y="848" width="16.5" height="16.5" fill="#dc4238"/><rect x="1312" y="848" width="16.5" height="16.5" fill="#dc4238"/><rect x="1328" y="848" width="16.5" height="16.5" fill="#dc4238"/><rect x="1344" y="848" width="16.5" height="16.5" fill="#dc4238"/><rect x="1360" y="848" width="16.5" height="16.5" fill="#dc4238"/><rect x="848" y="864" width="16.5" height="16.5" fill="#e65a45"/><rect x="864" y="864" width="16.5" height="16.5" fill="#e65a45"/><rect x="880" y="864" width="16.5" height="16.5" fill="#e65a45"/><rect x="896" y="864" width="16.5" height="16.5" fill="#e65a45"/><rect x="912" y="864" width="16.5" height="16.5" fill="#e65a45"/><rect x="928" y="864" width="16.5" height="16.5" fill="#e65a45"/><rect x="944" y="864" width="16.5" height="16.5" fill="#e65a45"/><rect x="960" y="864" width="16.5" height="16.5" fill="#e65a45"/><rect x="1296" y="864" width="16.5" height="16.5" fill="#dc4238"/><rect x="1312" y="864" width="16.5" height="16.5" fill="#dc4238"/><rect x="1328" y="864" width="16.5" height="16.5" fill="#dc4238"/><rect x="1344" y="864" width="16.5" height="16.5" fill="#dc4238"/></g>
<clipPath id="frame"><rect x="193" y="109" width="1534" height="736"/></clipPath>
<clipPath id="us"><path d="M508.0,149.0 L605.0,174.2 L621.2,178.0 L700.0,193.8 L775.0,203.8 L830.0,208.0 L880.0,211.2 L948.8,213.2 L985.0,213.2 L985.0,204.5 L991.0,204.5 L993.8,217.5 L1010.0,223.8 L1025.0,222.5 L1035.0,228.8 L1045.0,230.0 L1052.5,235.0 L1062.5,231.2 L1070.0,233.8 L1086.0,235.0 L1070.0,242.5 L1055.0,256.0 L1042.5,268.8 L1050.0,268.0 L1062.5,263.8 L1065.0,271.0 L1072.5,272.5 L1080.0,268.8 L1092.5,262.5 L1102.5,255.0 L1110.0,248.8 L1118.8,247.0 L1110.0,257.5 L1112.5,262.5 L1123.8,266.0 L1135.0,270.0 L1150.0,263.8 L1167.5,260.0 L1177.5,266.0 L1186.0,263.8 L1191.0,276.0 L1180.0,278.8 L1162.5,277.5 L1150.0,282.5 L1141.0,290.0 L1135.0,287.5 L1131.0,300.0 L1126.0,306.0 L1120.0,320.0 L1124.0,321.0 L1130.0,315.0 L1136.0,302.5 L1133.0,318.0 L1130.0,330.0 L1126.0,352.5 L1130.0,377.5 L1135.0,392.5 L1141.0,397.0 L1152.5,390.0 L1157.5,370.0 L1153.8,350.0 L1150.0,332.5 L1155.0,312.5 L1165.0,300.0 L1172.5,290.0 L1177.5,283.8 L1190.0,290.0 L1202.5,295.0 L1207.5,310.0 L1205.0,322.5 L1198.8,332.5 L1202.5,337.5 L1215.0,325.0 L1222.5,330.0 L1228.8,350.0 L1225.0,362.5 L1218.8,375.0 L1215.0,386.0 L1225.0,390.0 L1237.5,390.0 L1250.0,386.0 L1270.0,373.8 L1285.0,362.5 L1297.5,345.0 L1293.8,337.5 L1293.8,332.5 L1305.0,328.8 L1325.0,327.5 L1340.0,318.8 L1343.8,310.0 L1337.5,302.5 L1345.0,292.5 L1360.0,273.8 L1390.0,267.5 L1421.2,259.5 L1422.5,251.2 L1427.5,250.0 L1432.5,242.5 L1436.0,225.0 L1437.5,210.0 L1442.5,192.5 L1445.0,186.0 L1448.8,190.0 L1461.0,184.5 L1471.0,190.0 L1481.0,220.0 L1490.0,225.0 L1492.5,233.8 L1500.0,236.0 L1502.5,241.0 L1495.0,247.5 L1487.5,255.0 L1477.5,262.5 L1474.0,259.0 L1470.0,270.0 L1462.5,277.5 L1455.0,285.0 L1450.0,297.5 L1448.8,310.0 L1452.5,315.0 L1450.0,323.8 L1457.5,332.5 L1462.5,337.0 L1470.0,337.5 L1472.5,332.5 L1468.8,326.0 L1466.0,327.0 L1470.0,332.0 L1467.0,340.0 L1460.0,341.5 L1452.5,345.0 L1447.5,347.5 L1440.0,352.5 L1425.0,357.5 L1410.0,366.0 L1402.5,373.8 L1400.6,383.8 L1406.2,398.8 L1405.3,408.0 L1400.6,419.4 L1395.0,427.8 L1383.8,421.2 L1378.0,410.0 L1380.0,415.6 L1387.5,426.9 L1393.0,434.4 L1395.0,443.8 L1391.2,458.8 L1387.5,468.0 L1384.7,477.5 L1382.0,466.0 L1377.5,456.0 L1372.5,450.0 L1368.5,442.0 L1367.5,431.0 L1371.5,418.0 L1368.5,418.0 L1364.0,431.0 L1364.5,443.0 L1368.0,452.0 L1372.0,459.0 L1376.0,470.0 L1377.0,482.0 L1385.8,485.8 L1387.5,493.3 L1391.7,501.7 L1389.0,506.0 L1382.0,509.0 L1375.8,511.7 L1383.0,512.3 L1388.3,510.3 L1396.7,509.2 L1396.7,514.2 L1394.5,519.0 L1391.7,524.2 L1388.3,525.8 L1380.8,524.2 L1375.0,526.0 L1380.0,527.8 L1383.3,529.2 L1381.7,535.0 L1376.0,536.0 L1380.8,537.8 L1390.8,537.5 L1386.7,545.8 L1375.8,546.7 L1371.7,550.0 L1365.0,556.2 L1359.4,567.5 L1350.0,575.0 L1340.6,581.5 L1337.5,590.0 L1327.5,605.0 L1315.0,620.0 L1305.0,630.0 L1300.0,642.5 L1297.5,657.5 L1298.8,670.0 L1305.0,687.5 L1315.0,705.0 L1325.0,720.0 L1331.2,735.0 L1340.0,747.5 L1346.2,760.0 L1348.0,782.5 L1346.2,797.5 L1337.5,805.0 L1327.5,806.2 L1322.5,795.0 L1310.0,782.5 L1300.0,775.0 L1297.5,765.0 L1290.0,760.0 L1282.5,750.0 L1287.5,742.5 L1280.0,741.2 L1277.5,732.5 L1278.8,720.0 L1272.5,712.5 L1260.0,702.5 L1250.0,693.8 L1240.0,690.0 L1230.0,695.0 L1225.0,701.2 L1215.0,703.8 L1210.0,697.5 L1205.0,691.2 L1190.0,686.2 L1172.5,687.5 L1163.8,691.2 L1155.0,692.5 L1151.2,686.2 L1148.0,692.5 L1135.0,692.5 L1122.5,696.2 L1115.0,700.0 L1120.0,705.0 L1115.0,712.5 L1122.5,720.0 L1131.2,726.2 L1125.0,728.8 L1115.0,720.0 L1106.2,726.2 L1092.5,727.5 L1080.0,723.8 L1072.5,717.5 L1065.0,713.8 L1060.0,717.5 L1050.0,716.2 L1030.0,715.0 L1017.5,716.2 L1000.0,722.5 L987.5,735.0 L970.0,745.0 L955.0,752.5 L945.0,762.5 L937.5,780.0 L940.0,800.0 L941.8,812.5 L937.5,815.0 L925.0,810.0 L910.0,806.2 L896.2,800.0 L888.8,782.5 L887.5,772.5 L872.5,752.5 L865.0,735.0 L855.0,722.5 L845.0,711.2 L826.2,708.8 L817.5,712.5 L812.5,722.5 L805.0,728.8 L792.5,722.5 L780.0,712.5 L773.8,700.0 L767.5,685.0 L755.0,672.5 L742.5,657.5 L735.0,650.0 L698.8,646.2 L697.5,657.0 L679.2,654.5 L635.0,647.5 L557.5,603.8 L560.0,598.8 L507.5,592.5 L506.2,575.0 L500.0,565.0 L490.0,555.0 L487.5,550.0 L475.0,540.0 L462.5,530.0 L447.5,522.5 L447.5,505.0 L441.2,487.5 L433.8,470.0 L437.5,457.5 L428.8,442.5 L430.0,425.0 L425.0,417.5 L420.0,405.0 L417.5,392.0 L419.0,372.0 L415.0,357.5 L419.0,347.0 L425.0,335.0 L429.5,315.5 L429.0,312.0 L431.0,292.5 L441.0,280.0 L450.0,265.0 L456.0,245.0 L462.5,225.0 L466.0,211.0 L469.0,202.0 L472.5,194.0 L471.0,190.0 L470.0,172.0 L468.7,167.3 L468.7,161.3 L470.7,154.0 L480.7,162.7 L488.7,166.0 L496.0,167.7 L502.0,169.0 L506.7,162.7 L509.3,161.3 L510.0,155.7 L507.7,152.7ZM1402.5,378.5 L1412.5,371.0 L1425.0,366.0 L1433.8,360.0 L1440.0,360.5 L1430.0,367.5 L1415.0,376.0 L1402.5,382.5ZM1459.0,345.0 L1463.0,344.5 L1464.0,347.0 L1460.0,347.5ZM1472.0,344.0 L1476.0,344.0 L1475.5,346.5 L1472.0,346.0Z"/></clipPath>
<filter id="blur" filterUnits="userSpaceOnUse" x="330" y="70" width="1270" height="830" color-interpolation-filters="sRGB"><feGaussianBlur stdDeviation="7"/></filter>
<filter id="disp" filterUnits="userSpaceOnUse" x="330" y="70" width="1270" height="830" color-interpolation-filters="sRGB">
<feTurbulence type="fractalNoise" baseFrequency="0.045" numOctaves="4" seed="7" result="n"/>
<feDisplacementMap in="SourceGraphic" in2="n" scale="26" xChannelSelector="R" yChannelSelector="G" result="d1"/>
<feTurbulence type="fractalNoise" baseFrequency="0.16" numOctaves="2" seed="3" result="n2"/>
<feDisplacementMap in="d1" in2="n2" scale="9" xChannelSelector="G" yChannelSelector="R"/>
</filter>
<filter id="db50" filterUnits="userSpaceOnUse" x="380" y="120" width="1170" height="730"><feGaussianBlur stdDeviation="5"/></filter><filter id="db45" filterUnits="userSpaceOnUse" x="380" y="120" width="1170" height="730"><feGaussianBlur stdDeviation="4.5"/></filter><filter id="db40" filterUnits="userSpaceOnUse" x="380" y="120" width="1170" height="730"><feGaussianBlur stdDeviation="4"/></filter><filter id="db35" filterUnits="userSpaceOnUse" x="380" y="120" width="1170" height="730"><feGaussianBlur stdDeviation="3.5"/></filter><filter id="db30" filterUnits="userSpaceOnUse" x="380" y="120" width="1170" height="730"><feGaussianBlur stdDeviation="3"/></filter><filter id="db25" filterUnits="userSpaceOnUse" x="380" y="120" width="1170" height="730"><feGaussianBlur stdDeviation="2.5"/></filter><filter id="db22" filterUnits="userSpaceOnUse" x="380" y="120" width="1170" height="730"><feGaussianBlur stdDeviation="2.2"/></filter><filter id="db20" filterUnits="userSpaceOnUse" x="380" y="120" width="1170" height="730"><feGaussianBlur stdDeviation="2"/></filter><filter id="db18" filterUnits="userSpaceOnUse" x="380" y="120" width="1170" height="730"><feGaussianBlur stdDeviation="1.8"/></filter><filter id="db15" filterUnits="userSpaceOnUse" x="380" y="120" width="1170" height="730"><feGaussianBlur stdDeviation="1.5"/></filter><filter id="db12" filterUnits="userSpaceOnUse" x="380" y="120" width="1170" height="730"><feGaussianBlur stdDeviation="1.2"/></filter><filter id="db10" filterUnits="userSpaceOnUse" x="380" y="120" width="1170" height="730"><feGaussianBlur stdDeviation="1"/></filter>
<linearGradient id="cb" x1="0" x2="1" y1="0" y2="0">
<stop offset="0" stop-color="#08306b"/>
<stop offset="0.052" stop-color="#0a4a8a"/>
<stop offset="0.119" stop-color="#2b62a3"/>
<stop offset="0.186" stop-color="#1f7bb8"/>
<stop offset="0.248" stop-color="#0a9bd8"/>
<stop offset="0.28" stop-color="#3aaade"/>
<stop offset="0.32" stop-color="#6fb8dd"/>
<stop offset="0.36" stop-color="#a9c8e2"/>
<stop offset="0.414" stop-color="#d0dfee"/>
<stop offset="0.468" stop-color="#f0f4fa"/>
<stop offset="0.497" stop-color="#ffffff"/>
<stop offset="0.526" stop-color="#fdeecf"/>
<stop offset="0.561" stop-color="#fdd88e"/>
<stop offset="0.615" stop-color="#fbbd72"/>
<stop offset="0.65" stop-color="#fba26a"/>
<stop offset="0.687" stop-color="#fb8463"/>
<stop offset="0.74" stop-color="#ee6a56"/>
<stop offset="0.802" stop-color="#dc3f3e"/>
<stop offset="0.868" stop-color="#b41848"/>
<stop offset="0.928" stop-color="#8a1c46"/>
<stop offset="1" stop-color="#67002f"/>
</linearGradient>
</defs>
<rect x="0" y="0" width="1920" height="1080" fill="#fff"/>
<!-- frame -->
<rect x="192.5" y="108.5" width="1535" height="737" fill="#fff" stroke="#000" stroke-width="1"/>
<rect x="194" y="110" width="1533" height="735" fill="#f5f5f5"/>
<g clip-path="url(#frame)">
<g fill="#e3e3e3">
<path d="M484.7,108.0 L1463.7,108.0 L1462.0,128.7 L1452.6,136.7 L1441.4,147.8 L1436.6,160.6 L1428.7,171.7 L1422.3,194.0 L1416.0,210.0 L1419.0,206.8 L1425.5,189.0 L1435.0,175.0 L1444.6,160.6 L1457.4,146.2 L1471.7,136.7 L1484.4,125.5 L1498.8,121.5 L1514.7,124.0 L1520.3,132.0 L1514.7,143.0 L1510.0,149.4 L1495.6,151.0 L1484.4,159.0 L1502.0,162.2 L1511.5,155.8 L1518.7,157.4 L1518.7,171.7 L1524.3,182.9 L1532.2,187.7 L1546.6,194.0 L1559.3,194.8 L1575.3,190.8 L1583.2,186.0 L1588.0,178.0 L1590.4,163.8 L1593.6,151.0 L1600.7,149.4 L1603.0,162.2 L1613.5,162.2 L1618.3,169.3 L1607.0,182.9 L1604.0,194.8 L1591.2,202.0 L1580.0,216.3 L1565.7,230.7 L1556.0,232.3 L1549.8,246.6 L1546.6,257.8 L1537.0,264.9 L1525.9,259.3 L1522.7,245.0 L1530.6,233.9 L1543.4,213.0 L1553.0,208.4 L1545.0,205.0 L1538.6,202.0 L1532.2,213.0 L1521.0,221.0 L1511.5,229.0 L1503.6,233.9 L1502.0,240.0 L1470.0,240.0 L1430.0,290.0 L1390.0,350.0 L1350.0,420.0 L1200.0,420.0 L1100.0,300.0 L900.0,250.0 L600.0,200.0 L508.0,148.3 L505.3,145.3 L502.7,142.7 L502.7,136.7 L504.7,130.7 L502.7,133.3 L496.7,133.3 L493.3,131.3 L491.3,126.0 L495.3,124.7 L496.7,121.3 L499.3,118.0 L493.3,119.3 L492.7,122.7 L486.7,122.7 L484.7,116.7Z"/>
<path d="M454.0,108.0 L449.3,114.7 L449.3,118.7 L458.0,121.3 L458.7,124.7 L462.0,126.0 L460.0,129.3 L460.0,133.3 L462.7,135.3 L469.3,136.0 L469.3,146.0 L471.3,148.7 L476.7,150.0 L478.7,154.0 L482.7,157.3 L490.0,159.3 L492.0,161.3 L496.7,158.7 L496.0,155.3 L492.7,153.3 L492.7,138.0 L486.0,136.0 L485.3,132.0 L480.0,129.3 L479.3,119.3 L475.3,114.7 L474.7,108.0Z"/>
<path d="M1532.2,178.0 L1537.0,171.7 L1540.2,178.0 L1548.0,178.0 L1553.0,182.9 L1565.7,176.5 L1572.0,171.7 L1571.3,181.3 L1565.7,186.0 L1553.0,186.9 L1543.4,182.9 L1533.8,181.3Z"/>
<path d="M1607.0,108.0 L1640.6,108.0 L1639.0,114.4 L1623.0,117.6 L1613.5,124.0 L1607.0,119.0Z"/>
<path d="M507.5,592.5 L560.0,598.8 L557.5,603.8 L635.0,647.5 L679.2,654.5 L697.5,657.0 L698.8,646.2 L735.0,650.0 L742.5,657.5 L755.0,672.5 L767.5,685.0 L773.8,700.0 L780.0,712.5 L792.5,722.5 L805.0,728.8 L812.5,722.5 L817.5,712.5 L826.2,708.8 L845.0,711.2 L855.0,722.5 L865.0,735.0 L872.5,752.5 L887.5,772.5 L888.8,782.5 L896.2,800.0 L910.0,806.2 L925.0,810.0 L937.5,815.0 L941.8,813.0 L941.2,817.5 L936.0,823.0 L930.0,827.5 L930.0,846.0 L697.5,846.0 L690.0,835.0 L680.0,817.5 L665.0,802.5 L652.5,792.5 L661.2,783.8 L655.0,772.5 L640.0,760.0 L630.0,737.5 L610.0,715.0 L596.2,705.0 L597.5,690.0 L591.2,667.5 L587.5,642.5 L575.0,630.0 L553.8,620.0 L550.0,637.5 L551.2,665.0 L562.5,682.5 L570.0,697.5 L582.5,715.0 L587.5,737.5 L597.5,755.0 L605.0,770.0 L607.5,792.5 L617.5,812.5 L617.5,827.5 L630.0,832.5 L636.2,846.0 L612.5,846.0 L605.0,832.5 L590.0,817.5 L583.8,802.5 L586.2,780.0 L576.2,767.5 L570.0,755.0 L555.0,750.0 L540.0,735.0 L530.0,722.5 L550.0,722.5 L553.8,710.0 L545.0,692.5 L527.5,672.5 L522.5,642.5 L515.0,612.5Z"/>
</g>
<g fill="#f5f5f5">
<path d="M1086.0,235.0 L1090.0,222.5 L1100.0,212.5 L1107.5,207.5 L1118.0,209.0 L1130.0,211.2 L1140.0,211.2 L1146.0,220.0 L1150.0,226.0 L1167.5,228.8 L1170.0,240.0 L1175.0,248.0 L1180.0,255.0 L1186.0,263.8 L1177.5,268.0 L1150.0,268.0 L1135.0,274.0 L1112.5,268.0 L1100.0,262.0 L1080.0,274.0 L1065.0,275.0 L1042.5,272.0 L1040.0,266.0 L1055.0,252.0 L1070.0,240.0Z"/><path d="M1162.5,277.5 L1150.0,282.5 L1141.0,290.0 L1135.0,287.5 L1131.0,300.0 L1126.0,306.0 L1120.0,320.0 L1124.0,321.0 L1130.0,315.0 L1136.0,302.5 L1133.0,318.0 L1130.0,330.0 L1126.0,352.5 L1130.0,377.5 L1135.0,392.5 L1141.0,397.0 L1152.5,390.0 L1157.5,370.0 L1153.8,350.0 L1150.0,332.5 L1155.0,312.5 L1165.0,300.0 L1172.5,290.0 L1177.5,283.8 L1180.0,278.8Z"/><path d="M1186.0,263.8 L1192.5,270.0 L1210.0,269.0 L1230.0,268.8 L1250.0,272.5 L1262.5,285.0 L1272.5,296.0 L1267.5,305.0 L1255.0,300.0 L1248.0,297.0 L1245.0,302.5 L1240.0,320.0 L1242.5,340.0 L1235.0,350.0 L1228.8,352.0 L1226.0,345.0 L1220.0,328.0 L1215.0,323.0 L1203.0,340.0 L1196.0,333.0 L1203.0,322.0 L1205.0,310.0 L1200.0,296.0 L1188.0,292.0 L1176.0,286.0 L1178.0,277.0 L1190.0,277.0Z"/><path d="M1226.0,362.0 L1232.0,361.0 L1233.0,367.0 L1228.0,370.0 L1224.0,368.0Z"/><path d="M1215.0,386.0 L1219.0,380.0 L1225.0,372.0 L1230.0,372.5 L1240.0,366.0 L1250.0,360.0 L1270.0,352.5 L1290.0,345.0 L1297.5,343.0 L1299.0,347.0 L1287.0,364.0 L1272.0,376.0 L1252.0,388.0 L1238.0,393.0 L1225.0,392.0Z"/><path d="M1293.0,332.0 L1286.0,334.0 L1280.0,330.0 L1290.0,320.0 L1305.0,312.0 L1317.5,307.5 L1330.0,303.0 L1342.5,300.0 L1347.0,293.0 L1349.0,298.0 L1346.0,311.0 L1342.0,320.0 L1326.0,329.5 L1305.0,331.0Z"/>
</g>
<path d="M1091.0,237.0 L1096.0,233.0 L1103.0,229.5 L1104.0,231.0 L1098.0,235.0 L1093.0,238.5Z" fill="none" stroke="#cfcfcf" stroke-width="0.7"/>
<!-- US colored field -->
<g clip-path="url(#us)">
<rect x="380" y="120" width="1160" height="720" fill="#fff"/>
<use href="#cells"/>
<g filter="url(#disp)">
<g filter="url(#blur)">
<use href="#cells"/>
</g>
<g filter="url(#db50)"><path d="M1362.0,292.0 L1372.0,288.0 L1382.0,294.0 L1383.0,306.0 L1374.0,312.0 L1364.0,308.0Z" fill="#ffffff" opacity="0.85"/></g>
<g filter="url(#db45)"><path d="M1315.0,400.0 L1305.0,425.0 L1295.0,450.0 L1285.0,472.5 L1275.0,495.0 L1270.0,510.0 L1260.0,527.5 L1247.5,542.5 L1235.0,552.5 L1227.5,560.0" fill="none" stroke="#fde6bd" stroke-width="10" stroke-linecap="round" stroke-linejoin="round" opacity="0.45"/></g>
<g filter="url(#db40)"><path d="M428.0,430.0 L434.0,452.0 L440.0,472.0 L446.0,492.0 L452.0,510.0" fill="none" stroke="#fbb470" stroke-width="11" stroke-linecap="round" stroke-linejoin="round" opacity="0.7"/><path d="M478.0,398.0 L486.0,418.0 L492.0,440.0 L498.0,456.0 L502.0,472.0 L504.0,488.0 L503.0,498.0" fill="none" stroke="#f4f7fb" stroke-width="13" stroke-linecap="round" stroke-linejoin="round" opacity="0.85"/><path d="M466.0,214.0 L462.0,232.0 L455.0,250.0 L448.0,270.0 L438.0,288.0 L432.0,306.0 L428.0,330.0 L421.0,350.0 L421.0,372.0 L420.0,392.0" fill="none" stroke="#fcd79a" stroke-width="12" stroke-linecap="round" stroke-linejoin="round" opacity="0.55"/><path d="M692.0,297.0 L705.0,293.0 L721.0,300.0 L723.0,315.0 L716.0,329.0 L707.0,337.0 L697.0,334.0 L692.0,320.0Z" fill="#5fb0e0" opacity="0.85"/><path d="M1300.0,388.0 L1318.0,392.0 L1338.0,388.0" fill="none" stroke="#fdeccd" stroke-width="8" stroke-linecap="round" stroke-linejoin="round" opacity="0.6"/></g>
<g filter="url(#db35)"><path d="M456.7,350.7 L448.0,357.3 L443.5,368.0 L444.0,378.7 L441.8,389.3 L441.0,400.0 L442.5,410.7 L448.0,418.0 L451.0,436.0 L458.7,456.0 L463.0,470.0 L466.7,482.7 L472.0,496.0 L476.0,509.0 L482.7,521.0 L490.7,521.0 L494.7,509.0 L496.0,482.7 L493.0,470.0 L489.7,456.0 L483.0,436.0 L479.0,416.0 L480.3,410.7 L476.3,397.3 L468.8,386.7 L464.8,373.3 L464.8,357.3Z" fill="#f88b56" opacity="0.9"/></g>
<g filter="url(#db30)"><path d="M522.0,152.0 L533.0,162.0 L545.0,158.0 L556.0,166.0" fill="none" stroke="#6db5e0" stroke-width="7" stroke-linecap="round" stroke-linejoin="round" opacity="0.8"/><path d="M488.0,168.0 L496.0,176.0 L490.0,182.0" fill="none" stroke="#a3cbe8" stroke-width="7" stroke-linecap="round" stroke-linejoin="round" opacity="0.8"/><path d="M736.0,470.0 L748.0,486.0 L762.0,494.0" fill="none" stroke="#6db5e0" stroke-width="6" stroke-linecap="round" stroke-linejoin="round" opacity="0.55"/><path d="M668.0,590.0 L680.0,596.0 L690.0,604.0" fill="none" stroke="#ffffff" stroke-width="7" stroke-linecap="round" stroke-linejoin="round" opacity="0.8"/><path d="M1386.0,340.0 L1390.0,348.0" fill="none" stroke="#fff3de" stroke-width="6" stroke-linecap="round" stroke-linejoin="round" opacity="0.7"/></g>
<g filter="url(#db25)"><path d="M455.0,520.0 L470.0,527.0 L482.0,527.0" fill="none" stroke="#fcd28c" stroke-width="6" stroke-linecap="round" stroke-linejoin="round" opacity="0.85"/><path d="M538.0,170.0 L543.0,184.0 L541.0,198.0" fill="none" stroke="#8fc4e8" stroke-width="5" stroke-linecap="round" stroke-linejoin="round" opacity="0.8"/><path d="M625.0,185.0 L640.0,215.0" fill="none" stroke="#5fb0e0" stroke-width="4.5" stroke-linecap="round" stroke-linejoin="round" opacity="0.6"/><path d="M640.0,195.0 L654.0,232.0" fill="none" stroke="#5fb0e0" stroke-width="4.5" stroke-linecap="round" stroke-linejoin="round" opacity="0.6"/><path d="M655.0,205.0 L668.0,243.0" fill="none" stroke="#5fb0e0" stroke-width="4.5" stroke-linecap="round" stroke-linejoin="round" opacity="0.6"/><path d="M612.0,262.0 L625.0,284.0" fill="none" stroke="#5fb0e0" stroke-width="4.5" stroke-linecap="round" stroke-linejoin="round" opacity="0.6"/><path d="M622.0,268.0 L640.0,300.0" fill="none" stroke="#5fb0e0" stroke-width="4.5" stroke-linecap="round" stroke-linejoin="round" opacity="0.6"/><path d="M632.0,292.0 L650.0,318.0" fill="none" stroke="#5fb0e0" stroke-width="4.5" stroke-linecap="round" stroke-linejoin="round" opacity="0.6"/><path d="M642.0,262.0 L656.0,286.0" fill="none" stroke="#5fb0e0" stroke-width="4.5" stroke-linecap="round" stroke-linejoin="round" opacity="0.6"/><path d="M600.0,250.0 L612.0,272.0" fill="none" stroke="#5fb0e0" stroke-width="4.5" stroke-linecap="round" stroke-linejoin="round" opacity="0.6"/><path d="M660.0,262.0 L672.0,282.0" fill="none" stroke="#5fb0e0" stroke-width="4.5" stroke-linecap="round" stroke-linejoin="round" opacity="0.6"/><path d="M668.0,280.0 L683.0,296.0" fill="none" stroke="#5fb0e0" stroke-width="4.5" stroke-linecap="round" stroke-linejoin="round" opacity="0.6"/><path d="M752.0,418.0 L757.0,436.0 L755.0,456.0 L750.0,476.0" fill="none" stroke="#5fb0e0" stroke-width="4" stroke-linecap="round" stroke-linejoin="round" opacity="0.55"/><path d="M768.0,416.0 L772.0,440.0 L779.0,462.0 L785.0,482.0 L786.0,500.0" fill="none" stroke="#5fb0e0" stroke-width="4" stroke-linecap="round" stroke-linejoin="round" opacity="0.6"/><path d="M724.0,452.0 L735.0,460.0" fill="none" stroke="#8fc4e8" stroke-width="5" stroke-linecap="round" stroke-linejoin="round" opacity="0.8"/><path d="M1427.0,268.0 L1430.0,282.0 L1432.0,294.0" fill="none" stroke="#ffffff" stroke-width="5" stroke-linecap="round" stroke-linejoin="round" opacity="0.8"/></g>
<g filter="url(#db22)"><path d="M489.0,428.0 L494.0,442.0 L499.0,456.0 L502.5,470.0 L504.0,484.0" fill="none" stroke="#6fb6e2" stroke-width="5.5" stroke-linecap="round" stroke-linejoin="round" opacity="0.95"/><path d="M527.0,482.0 L532.0,494.0 L536.0,506.0" fill="none" stroke="#dc4238" stroke-width="6" stroke-linecap="round" stroke-linejoin="round" opacity="0.9"/></g>
<g filter="url(#db20)"><path d="M516.0,476.0 L521.0,488.0 L526.0,500.0" fill="none" stroke="#e05040" stroke-width="5" stroke-linecap="round" stroke-linejoin="round" opacity="0.9"/><path d="M703.0,333.0 L708.0,343.0 L714.0,352.0 L720.0,361.0" fill="none" stroke="#3fa6dd" stroke-width="5.5" stroke-linecap="round" stroke-linejoin="round" opacity="0.95"/><path d="M747.0,299.0 L753.0,310.0 L758.0,322.0 L759.0,334.0 L755.0,343.0 L749.0,348.0" fill="none" stroke="#4fabde" stroke-width="5" stroke-linecap="round" stroke-linejoin="round" opacity="0.95"/><path d="M683.0,400.0 L695.0,402.5 L708.0,403.5" fill="none" stroke="#3fa6dd" stroke-width="5" stroke-linecap="round" stroke-linejoin="round" opacity="0.95"/><path d="M688.0,330.0 L686.0,346.0 L684.0,360.0" fill="none" stroke="#7fbde5" stroke-width="4" stroke-linecap="round" stroke-linejoin="round" opacity="0.8"/><path d="M783.0,505.0 L788.0,520.0 L790.0,534.0" fill="none" stroke="#9cc8e8" stroke-width="4" stroke-linecap="round" stroke-linejoin="round" opacity="0.85"/><path d="M766.0,516.0 L770.0,532.0 L764.0,545.0" fill="none" stroke="#c9dcee" stroke-width="4" stroke-linecap="round" stroke-linejoin="round" opacity="0.85"/><path d="M645.0,420.0 L652.0,440.0" fill="none" stroke="#a9cfea" stroke-width="3.5" stroke-linecap="round" stroke-linejoin="round" opacity="0.45"/><path d="M655.0,430.0 L663.0,452.0" fill="none" stroke="#a9cfea" stroke-width="3.5" stroke-linecap="round" stroke-linejoin="round" opacity="0.45"/><path d="M560.0,380.0 L568.0,398.0" fill="none" stroke="#a9cfea" stroke-width="3.5" stroke-linecap="round" stroke-linejoin="round" opacity="0.45"/><path d="M590.0,385.0 L597.0,404.0" fill="none" stroke="#a9cfea" stroke-width="3.5" stroke-linecap="round" stroke-linejoin="round" opacity="0.45"/><path d="M575.0,410.0 L583.0,430.0" fill="none" stroke="#a9cfea" stroke-width="3.5" stroke-linecap="round" stroke-linejoin="round" opacity="0.45"/><path d="M600.0,420.0 L606.0,440.0" fill="none" stroke="#a9cfea" stroke-width="3.5" stroke-linecap="round" stroke-linejoin="round" opacity="0.45"/><path d="M620.0,440.0 L626.0,460.0" fill="none" stroke="#a9cfea" stroke-width="3.5" stroke-linecap="round" stroke-linejoin="round" opacity="0.45"/><path d="M540.0,365.0 L548.0,384.0" fill="none" stroke="#a9cfea" stroke-width="3.5" stroke-linecap="round" stroke-linejoin="round" opacity="0.45"/><path d="M628.0,504.0 L630.0,519.0" fill="none" stroke="#dfeaf5" stroke-width="5" stroke-linecap="round" stroke-linejoin="round" opacity="0.9"/><path d="M697.0,600.0 L700.0,612.0" fill="none" stroke="#ffffff" stroke-width="4" stroke-linecap="round" stroke-linejoin="round" opacity="0.7"/><path d="M1305.0,425.0 L1295.0,450.0 L1285.0,472.5 L1275.0,495.0 L1270.0,510.0 L1260.0,527.5 L1247.5,542.5 L1235.0,552.5 L1227.5,560.0" fill="none" stroke="#ffffff" stroke-width="4" stroke-linecap="round" stroke-linejoin="round" opacity="0.8"/><path d="M1408.0,272.0 L1406.0,292.0 L1404.0,312.0" fill="none" stroke="#fff8ea" stroke-width="4" stroke-linecap="round" stroke-linejoin="round" opacity="0.8"/></g>
<g filter="url(#db18)"><path d="M520.0,560.0 L524.0,572.0 L529.0,586.0" fill="none" stroke="#fcc880" stroke-width="4" stroke-linecap="round" stroke-linejoin="round" opacity="0.9"/><path d="M757.0,598.0 L756.0,612.0 L754.0,626.0" fill="none" stroke="#f3f7fb" stroke-width="4" stroke-linecap="round" stroke-linejoin="round" opacity="0.9"/></g>
<g filter="url(#db15)"><path d="M508.0,450.0 L511.0,462.0 L513.0,472.0" fill="none" stroke="#5fb0e0" stroke-width="3" stroke-linecap="round" stroke-linejoin="round" opacity="0.9"/><path d="M710.0,604.0 L712.0,618.0" fill="none" stroke="#fff4e0" stroke-width="3" stroke-linecap="round" stroke-linejoin="round" opacity="0.8"/><path d="M748.0,565.0 L748.0,585.0" fill="none" stroke="#ffffff" stroke-width="3" stroke-linecap="round" stroke-linejoin="round" opacity="0.8"/><path d="M1327.5,447.5 L1321.0,460.0 L1315.0,472.5" fill="none" stroke="#fff3de" stroke-width="2.5" stroke-linecap="round" stroke-linejoin="round" opacity="0.8"/></g>
<g filter="url(#db12)"><path d="M512.0,472.0 L514.0,486.0" fill="none" stroke="#fcd28c" stroke-width="2.5" stroke-linecap="round" stroke-linejoin="round" opacity="0.9"/></g>
<g filter="url(#db10)"><path d="M597.0,515.0 L604.0,520.0 L612.0,517.0 L620.0,516.0 L627.0,522.0 L634.0,524.0" fill="none" stroke="#ee6a4f" stroke-width="2.2" stroke-linecap="round" stroke-linejoin="round" opacity="0.85"/></g>
</g>
</g>
<g fill="#f5f5f5">
<path d="M640.0,375.0 L645.0,374.0 L647.0,380.0 L651.0,383.0 L655.0,381.0 L657.0,388.0 L654.0,398.0 L650.0,401.0 L646.0,396.0 L642.0,388.0 L639.0,381.0Z"/><path d="M1323.0,759.0 L1326.0,756.0 L1330.0,757.0 L1331.0,762.0 L1328.0,766.0 L1324.0,764.0Z"/><path d="M537.5,573.5 L539.5,574.0 L543.5,582.0 L542.5,584.0 L540.0,582.0Z"/><path d="M433.5,423.5 L436.0,424.0 L437.5,432.0 L438.0,440.0 L436.0,440.0 L434.0,432.0Z"/><path d="M1100.0,699.0 L1104.0,696.5 L1110.0,697.0 L1112.5,700.0 L1109.0,703.0 L1102.0,702.5Z"/>
</g>
<path d="M640.0,375.0 L645.0,374.0 L647.0,380.0 L651.0,383.0 L655.0,381.0 L657.0,388.0 L654.0,398.0 L650.0,401.0 L646.0,396.0 L642.0,388.0 L639.0,381.0Z" fill="#e3e3e3"/>
<path d="M505,160 L508,163 L507,170 L504.5,176 L501.5,182 L498,188 L495,193 L492.5,192 L495.5,186 L499,180 L501.5,174 L503,168 L503.5,163Z" fill="#f5f5f5" stroke="#9a9a9a" stroke-width="0.5" opacity="0.9"/>
<path d="M503,171 L499,176 L495,183 L492,188" fill="none" stroke="#f0ead8" stroke-width="1.6" stroke-linecap="round" opacity="0.9"/>
<path d="M1346.5,799 C1345.5,806 1341,812 1334,816.5 C1328,820 1321,822.5 1314.5,824" fill="none" stroke="#b9a9a6" stroke-width="0.8" stroke-dasharray="6 2" opacity="0.9"/>
<path d="M1322,821.8 L1314.5,824" fill="none" stroke="#dc4a3c" stroke-width="1.4"/>
<path d="M1391.7,501.7 L1397,510 L1401.5,517 L1403.5,523 L1403.3,526.5 L1398,530 L1395,531.7" fill="none" stroke="#9a9a9a" stroke-width="0.6"/>
<path d="M466.0,211.0 L475.0,215.0 L483.8,220.0 L485.0,231.2 L492.5,236.2 L510.0,238.8 L525.0,241.2 L540.0,240.8 L560.0,241.2 L572.5,243.8 L589.0,248.0M605.0,174.2 L589.0,248.0M589.0,248.0 L595.0,256.0 L594.0,265.0 L586.0,275.0 L579.0,284.0 L575.0,290.0 L579.0,296.0 L565.0,350.0M429.5,315.5 L508.8,337.5 L565.0,350.0 L621.0,363.0 L679.0,372.0M508.8,337.5 L490.0,412.5 L572.5,536.2M597.5,492.0 L593.8,507.5 L590.0,515.0 L585.0,511.0 L577.5,512.5 L576.2,530.0 L573.8,536.2 L573.8,545.0 L580.0,557.5 L572.5,565.0 L570.0,577.5 L563.8,586.2 L566.2,593.8 L560.0,598.8M621.0,363.0 L597.5,492.0M597.5,492.0 L698.8,508.0 L825.0,521.8 L844.5,522.5 L880.0,524.2 L999.5,526.2M621.2,178.0 L617.5,202.5 L620.0,215.0 L627.5,227.5 L635.0,240.0 L640.0,242.5 L634.0,260.0 L631.0,270.0 L641.0,269.0 L647.5,287.5 L652.5,295.0 L655.0,305.0 L665.0,304.0 L675.0,305.0 L682.5,302.5 L686.0,306.0 L687.5,300.0M691.0,295.5 L679.0,372.0 L675.0,398.8M691.0,295.5 L820.0,310.5M830.0,208.0 L822.5,286.0 L820.0,310.5 L811.2,413.8M822.5,286.0 L880.0,290.8 L959.5,292.0M817.0,362.5 L880.0,367.5 L921.0,368.0 L932.5,373.8 L945.0,372.5 L957.5,376.0M675.0,398.8 L712.5,404.5 L811.2,413.8 L850.0,417.5 L848.8,444.5 L880.0,445.8 L983.8,447.5M712.5,404.5 L698.8,508.0M850.0,417.5 L844.5,522.5M698.8,508.0 L679.2,654.5M825.0,521.8 L822.5,534.2 L813.8,651.2M735.0,644.5 L813.8,651.2M822.5,534.2 L885.5,537.5 L884.5,588.8M884.5,588.8 L900.0,597.0 L925.0,603.0 L945.0,609.5 L962.5,612.5 L987.5,606.2 L1003.8,614.0 L1013.8,616.2M948.8,213.2 L951.0,235.0 L955.0,257.5 L958.8,282.5 L959.5,292.0 L955.0,302.5 L961.0,307.5 L961.0,356.2M961.0,356.2 L1060.0,354.0M961.0,356.2 L961.0,367.5 L957.5,376.0 L962.5,390.0 L968.8,400.0 L970.0,408.8 L973.8,422.5 L977.5,432.5 L983.8,447.5 L992.5,453.8 L988.8,460.0 L998.8,470.0 L999.5,538.8M977.5,432.5 L1055.0,430.5 L1061.2,436.2M1042.5,268.8 L1038.8,272.5 L1038.8,287.5 L1030.0,295.0 L1028.8,302.5 L1031.0,315.0 L1035.0,325.0 L1050.0,335.0 L1060.0,347.5 L1061.0,354.0M1061.0,354.0 L1065.0,365.0 L1075.0,378.8 L1082.5,387.5 L1083.8,397.5 L1080.0,400.0 L1067.5,411.2 L1070.0,420.0 L1061.2,436.2 L1062.5,450.0 L1077.5,465.0 L1082.5,472.5 L1090.0,475.0 L1086.2,488.8 L1095.0,497.5 L1105.0,505.0 L1108.8,517.5 L1113.8,517.5M1075.0,378.8 L1127.5,375.5M1072.0,272.0 L1075.0,275.0 L1095.0,282.5 L1115.0,287.5 L1122.5,295.0 L1126.0,306.0M1137.5,395.0 L1136.2,400.0 L1140.0,457.5 L1142.5,472.5 L1137.5,485.0 L1133.8,495.0M1142.5,396.0 L1188.8,390.0 L1215.0,387.0M1188.8,390.0 L1190.0,400.0 L1197.5,457.5M1113.8,517.5 L1126.2,515.0 L1127.5,508.8 L1135.0,502.5 L1133.8,495.0 L1145.0,493.8 L1155.0,496.2 L1165.0,487.5 L1177.5,487.5 L1183.8,475.0 L1186.2,467.5 L1197.5,463.8 L1197.5,457.5 L1207.5,460.0 L1220.0,466.2 L1235.0,463.8 L1243.8,470.0 L1250.0,462.5 L1252.5,453.8 L1260.0,448.8 L1265.0,440.0 L1273.8,430.0 L1276.2,407.5 L1271.0,373.8M1276.2,407.5 L1279.7,429.7 L1373.4,412.8 L1378.0,410.0M1374.4,413.8 L1381.9,443.8 L1395.0,441.9M1301.2,426.0 L1303.0,439.0 L1314.4,426.9 L1323.8,424.0 L1330.0,423.8 L1336.0,428.8 L1353.8,438.0 L1350.0,451.2 L1359.4,453.0 L1370.6,455.0M1336.0,428.8 L1323.8,428.8 L1323.8,436.2 L1312.5,451.2 L1309.7,458.8 L1303.0,456.9 L1293.8,483.0 L1282.5,490.6 L1267.5,498.0 L1258.0,491.6M1243.8,470.0 L1245.0,477.5 L1258.0,491.6M1258.0,491.6 L1250.0,502.5 L1240.0,512.5 L1228.8,520.0M1106.2,535.0 L1137.5,532.5 L1137.5,528.8 L1228.8,520.0M1228.8,520.0 L1270.0,514.2 L1389.4,495.3M1269.4,514.0 L1269.4,520.6 L1256.2,531.9 L1239.4,543.0 L1224.4,554.4 L1219.7,557.0 L1219.5,563.8M1095.0,575.0 L1138.8,572.0 L1193.8,567.5 L1219.5,563.8 L1245.0,560.0M1245.0,560.0 L1261.9,552.5 L1288.0,550.2 L1295.6,557.0 L1320.0,554.4 L1346.2,573.0M1245.0,560.0 L1241.2,567.5 L1250.0,572.5 L1265.0,590.0 L1287.5,607.5 L1300.0,627.5 L1305.0,630.0M1138.8,572.0 L1138.8,632.5 L1142.5,692.5M1193.8,567.5 L1212.5,632.5 L1215.0,636.2 L1212.5,655.0 L1218.8,671.2M1218.8,671.2 L1160.0,675.0 L1160.0,680.0 L1163.8,690.0M1218.8,671.2 L1222.5,676.2 L1282.5,672.5 L1283.8,676.0 L1286.2,665.0 L1297.5,666.2M1111.2,520.0 L1107.5,535.0 L1101.2,547.5 L1095.0,565.0 L1091.2,580.0 L1082.5,597.5 L1076.2,615.0 L1076.2,628.5 L1082.5,645.0 L1075.0,662.5 L1068.8,680.0 L1111.2,678.8 L1110.0,687.5 L1115.0,698.8M999.5,538.8 L1092.5,536.2 L1095.0,540.0 L1090.0,548.8 L1101.2,548.8M999.5,538.8 L1005.0,575.0 L1003.8,615.0M1013.8,616.2 L1014.5,630.0 L1015.0,657.5 L1025.0,675.0 L1022.5,700.0 L1018.8,716.2M1014.5,630.0 L1076.2,628.5M1284.0,363.0 L1284.5,368.0 L1368.8,353.0 L1383.8,366.0M1383.8,366.0 L1401.0,371.0M1383.8,366.0 L1378.8,380.0 L1391.0,395.0 L1383.8,405.0 L1378.0,410.0M1390.0,267.5 L1393.8,290.0 L1400.0,305.0 L1403.8,323.8M1403.8,323.8 L1405.0,342.5 L1410.0,366.0M1421.2,259.5 L1422.5,270.0 L1416.0,282.5 L1415.0,302.5 L1417.0,320.5M1403.8,323.8 L1417.0,320.5 L1440.0,316.0 L1448.8,310.0M1427.5,250.0 L1437.5,280.0 L1445.0,300.0 L1448.8,305.0M1405.0,342.5 L1436.0,335.8 L1442.5,334.5 L1446.2,340.0 L1452.5,342.5M1436.0,335.8 L1440.0,352.0" fill="none" stroke="#7d7d7d" stroke-width="0.7" stroke-linejoin="round" opacity="0.75"/>
<path d="M508.0,149.0 L605.0,174.2 L621.2,178.0 L700.0,193.8 L775.0,203.8 L830.0,208.0 L880.0,211.2 L948.8,213.2 L985.0,213.2 L985.0,204.5 L991.0,204.5 L993.8,217.5 L1010.0,223.8 L1025.0,222.5 L1035.0,228.8 L1045.0,230.0 L1052.5,235.0 L1062.5,231.2 L1070.0,233.8 L1086.0,235.0 L1070.0,242.5 L1055.0,256.0 L1042.5,268.8 L1050.0,268.0 L1062.5,263.8 L1065.0,271.0 L1072.5,272.5 L1080.0,268.8 L1092.5,262.5 L1102.5,255.0 L1110.0,248.8 L1118.8,247.0 L1110.0,257.5 L1112.5,262.5 L1123.8,266.0 L1135.0,270.0 L1150.0,263.8 L1167.5,260.0 L1177.5,266.0 L1186.0,263.8 L1191.0,276.0 L1180.0,278.8 L1162.5,277.5 L1150.0,282.5 L1141.0,290.0 L1135.0,287.5 L1131.0,300.0 L1126.0,306.0 L1120.0,320.0 L1124.0,321.0 L1130.0,315.0 L1136.0,302.5 L1133.0,318.0 L1130.0,330.0 L1126.0,352.5 L1130.0,377.5 L1135.0,392.5 L1141.0,397.0 L1152.5,390.0 L1157.5,370.0 L1153.8,350.0 L1150.0,332.5 L1155.0,312.5 L1165.0,300.0 L1172.5,290.0 L1177.5,283.8 L1190.0,290.0 L1202.5,295.0 L1207.5,310.0 L1205.0,322.5 L1198.8,332.5 L1202.5,337.5 L1215.0,325.0 L1222.5,330.0 L1228.8,350.0 L1225.0,362.5 L1218.8,375.0 L1215.0,386.0 L1225.0,390.0 L1237.5,390.0 L1250.0,386.0 L1270.0,373.8 L1285.0,362.5 L1297.5,345.0 L1293.8,337.5 L1293.8,332.5 L1305.0,328.8 L1325.0,327.5 L1340.0,318.8 L1343.8,310.0 L1337.5,302.5 L1345.0,292.5 L1360.0,273.8 L1390.0,267.5 L1421.2,259.5 L1422.5,251.2 L1427.5,250.0 L1432.5,242.5 L1436.0,225.0 L1437.5,210.0 L1442.5,192.5 L1445.0,186.0 L1448.8,190.0 L1461.0,184.5 L1471.0,190.0 L1481.0,220.0 L1490.0,225.0 L1492.5,233.8 L1500.0,236.0 L1502.5,241.0 L1495.0,247.5 L1487.5,255.0 L1477.5,262.5 L1474.0,259.0 L1470.0,270.0 L1462.5,277.5 L1455.0,285.0 L1450.0,297.5 L1448.8,310.0 L1452.5,315.0 L1450.0,323.8 L1457.5,332.5 L1462.5,337.0 L1470.0,337.5 L1472.5,332.5 L1468.8,326.0 L1466.0,327.0 L1470.0,332.0 L1467.0,340.0 L1460.0,341.5 L1452.5,345.0 L1447.5,347.5 L1440.0,352.5 L1425.0,357.5 L1410.0,366.0 L1402.5,373.8 L1400.6,383.8 L1406.2,398.8 L1405.3,408.0 L1400.6,419.4 L1395.0,427.8 L1383.8,421.2 L1378.0,410.0 L1380.0,415.6 L1387.5,426.9 L1393.0,434.4 L1395.0,443.8 L1391.2,458.8 L1387.5,468.0 L1384.7,477.5 L1382.0,466.0 L1377.5,456.0 L1372.5,450.0 L1368.5,442.0 L1367.5,431.0 L1371.5,418.0 L1368.5,418.0 L1364.0,431.0 L1364.5,443.0 L1368.0,452.0 L1372.0,459.0 L1376.0,470.0 L1377.0,482.0 L1385.8,485.8 L1387.5,493.3 L1391.7,501.7 L1389.0,506.0 L1382.0,509.0 L1375.8,511.7 L1383.0,512.3 L1388.3,510.3 L1396.7,509.2 L1396.7,514.2 L1394.5,519.0 L1391.7,524.2 L1388.3,525.8 L1380.8,524.2 L1375.0,526.0 L1380.0,527.8 L1383.3,529.2 L1381.7,535.0 L1376.0,536.0 L1380.8,537.8 L1390.8,537.5 L1386.7,545.8 L1375.8,546.7 L1371.7,550.0 L1365.0,556.2 L1359.4,567.5 L1350.0,575.0 L1340.6,581.5 L1337.5,590.0 L1327.5,605.0 L1315.0,620.0 L1305.0,630.0 L1300.0,642.5 L1297.5,657.5 L1298.8,670.0 L1305.0,687.5 L1315.0,705.0 L1325.0,720.0 L1331.2,735.0 L1340.0,747.5 L1346.2,760.0 L1348.0,782.5 L1346.2,797.5 L1337.5,805.0 L1327.5,806.2 L1322.5,795.0 L1310.0,782.5 L1300.0,775.0 L1297.5,765.0 L1290.0,760.0 L1282.5,750.0 L1287.5,742.5 L1280.0,741.2 L1277.5,732.5 L1278.8,720.0 L1272.5,712.5 L1260.0,702.5 L1250.0,693.8 L1240.0,690.0 L1230.0,695.0 L1225.0,701.2 L1215.0,703.8 L1210.0,697.5 L1205.0,691.2 L1190.0,686.2 L1172.5,687.5 L1163.8,691.2 L1155.0,692.5 L1151.2,686.2 L1148.0,692.5 L1135.0,692.5 L1122.5,696.2 L1115.0,700.0 L1120.0,705.0 L1115.0,712.5 L1122.5,720.0 L1131.2,726.2 L1125.0,728.8 L1115.0,720.0 L1106.2,726.2 L1092.5,727.5 L1080.0,723.8 L1072.5,717.5 L1065.0,713.8 L1060.0,717.5 L1050.0,716.2 L1030.0,715.0 L1017.5,716.2 L1000.0,722.5 L987.5,735.0 L970.0,745.0 L955.0,752.5 L945.0,762.5 L937.5,780.0 L940.0,800.0 L941.8,812.5 L937.5,815.0 L925.0,810.0 L910.0,806.2 L896.2,800.0 L888.8,782.5 L887.5,772.5 L872.5,752.5 L865.0,735.0 L855.0,722.5 L845.0,711.2 L826.2,708.8 L817.5,712.5 L812.5,722.5 L805.0,728.8 L792.5,722.5 L780.0,712.5 L773.8,700.0 L767.5,685.0 L755.0,672.5 L742.5,657.5 L735.0,650.0 L698.8,646.2 L697.5,657.0 L679.2,654.5 L635.0,647.5 L557.5,603.8 L560.0,598.8 L507.5,592.5 L506.2,575.0 L500.0,565.0 L490.0,555.0 L487.5,550.0 L475.0,540.0 L462.5,530.0 L447.5,522.5 L447.5,505.0 L441.2,487.5 L433.8,470.0 L437.5,457.5 L428.8,442.5 L430.0,425.0 L425.0,417.5 L420.0,405.0 L417.5,392.0 L419.0,372.0 L415.0,357.5 L419.0,347.0 L425.0,335.0 L429.5,315.5 L429.0,312.0 L431.0,292.5 L441.0,280.0 L450.0,265.0 L456.0,245.0 L462.5,225.0 L466.0,211.0 L469.0,202.0 L472.5,194.0 L471.0,190.0 L470.0,172.0 L468.7,167.3 L468.7,161.3 L470.7,154.0 L480.7,162.7 L488.7,166.0 L496.0,167.7 L502.0,169.0 L506.7,162.7 L509.3,161.3 L510.0,155.7 L507.7,152.7ZM1402.5,378.5 L1412.5,371.0 L1425.0,366.0 L1433.8,360.0 L1440.0,360.5 L1430.0,367.5 L1415.0,376.0 L1402.5,382.5ZM1459.0,345.0 L1463.0,344.5 L1464.0,347.0 L1460.0,347.5ZM1472.0,344.0 L1476.0,344.0 L1475.5,346.5 L1472.0,346.0Z" fill="none" stroke="#8a8a8a" stroke-width="0.8" stroke-linejoin="round" opacity="0.8"/>
</g>
<!-- labels -->
<text x="213" y="831" font-size="15.4">Average Temperature</text>
<text x="1716.5" y="832.5" font-size="17" text-anchor="end">October 2017</text>
<!-- NOAA logo -->
<g id="noaa">
<circle cx="1664" cy="762" r="43.2" fill="#f6f6f6"/>
<path d="M1628.9,737 A43.2,43.2 0 0 1 1697.8,735.6 C1692,738 1688,745 1684.4,750.4 C1680,759 1676,764 1672.6,766.7 C1670,769 1668,769.6 1665.9,769.6 C1661,769.6 1658,767 1654.8,765.2 C1650,761 1648,760 1645.9,757.8 C1642,752 1640,748 1637,744.4 C1634,740.5 1631.5,738 1628.9,737Z" fill="#253a78"/>
<path d="M1622.2,750.4 C1625,751 1627,752.5 1629.6,754.8 C1633,758 1636,762 1640,765.2 C1644,768.5 1648,770 1651.9,771.1 C1655,772.3 1659,773 1662.2,773.3 L1650.4,779.3 C1652,780.5 1654,780.9 1656.3,780.7 C1660,780 1663,778.5 1666.7,777 C1670,775 1672,773.5 1675.6,772.6 C1678,771.6 1680,771.2 1683,771.1 C1680,770 1677,769.8 1674,769.6 C1677,768.5 1680,767.2 1683,765.2 C1687,762 1690,759 1693.3,754.8 C1696.5,751 1699.5,747 1702.2,743 A43.2,43.2 0 1 1 1622.2,750.4Z" fill="#057bc7"/>
<path d="M1646.2,747.2 V736.9 H1651.4 V747.2 M1655.5,736.9 H1661.1 V746.1 H1655.5 Z M1665,747.2 V736.9 H1670.4 V747.2 M1665,742.6 H1670.4 M1674.3,747.2 V736.9 H1679.7 V747.2 M1674.3,742.6 H1679.7" fill="none" stroke="#f6f6f6" stroke-width="2.1" stroke-linejoin="round"/>
</g>
<!-- colorbar -->
<rect x="474.5" y="866.5" width="972" height="43" fill="url(#cb)" stroke="#000" stroke-width="1"/>
<path d="M485.5,936.5 L501,926 L501,947Z" fill="#000"/>
<text x="514.5" y="951.3" font-size="45.5">cooler</text>
<text x="1408.5" y="951.3" font-size="45.5" text-anchor="end">warmer</text>
<path d="M1436,936.5 L1420.5,926 L1420.5,947Z" fill="#000"/>
</svg>
</body></html>
